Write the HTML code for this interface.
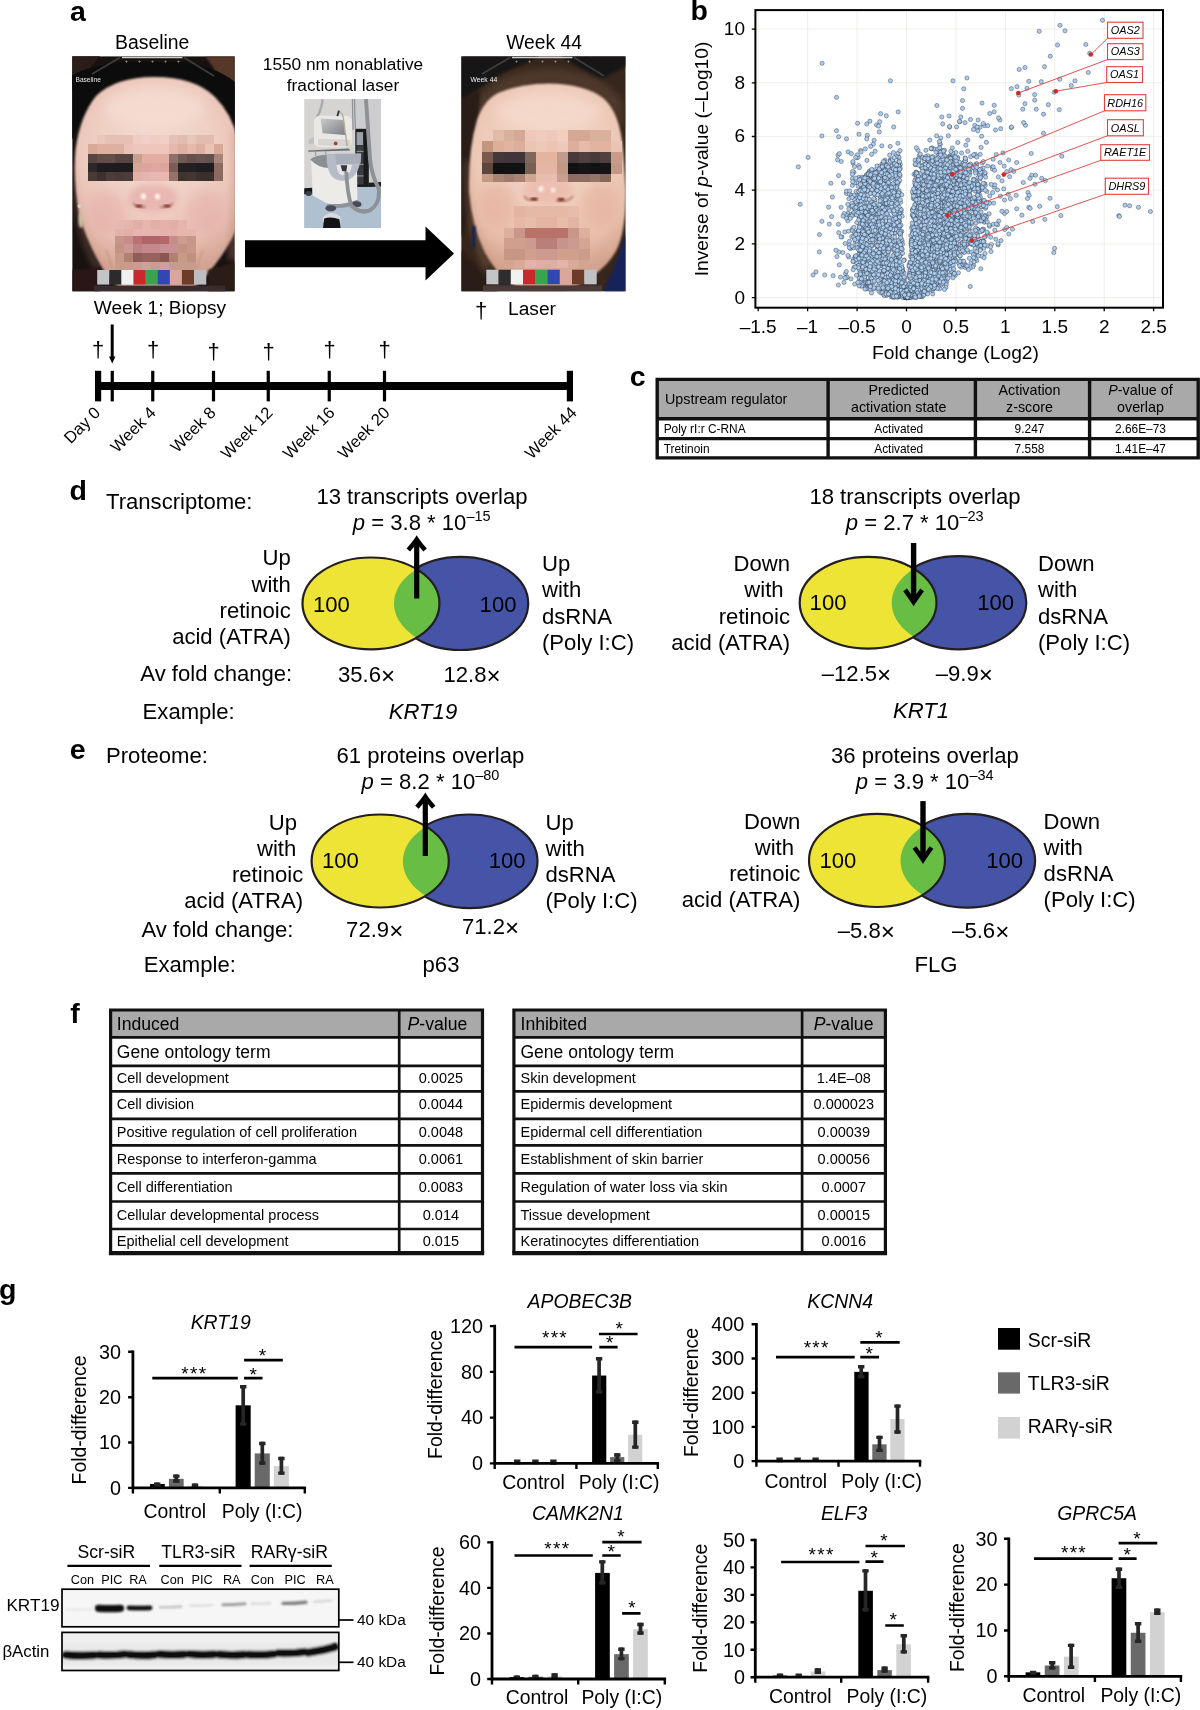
<!DOCTYPE html>
<html lang="en"><head><meta charset="utf-8"><title>Figure</title>
<style>
html,body{margin:0;padding:0;background:#fff;}
svg{display:block;will-change:transform;font-family:"Liberation Sans", sans-serif;}
text{fill:#000;}
</style></head><body>
<svg width="1200" height="1710" viewBox="0 0 1200 1710">
<defs>
<filter id="b1" x="-20%" y="-20%" width="140%" height="140%"><feGaussianBlur stdDeviation="1.2"/></filter>
<filter id="b2" x="-30%" y="-30%" width="160%" height="160%"><feGaussianBlur stdDeviation="3"/></filter>
<filter id="b3" x="-50%" y="-50%" width="200%" height="200%"><feGaussianBlur stdDeviation="6"/></filter>
<filter id="bb" x="-20%" y="-80%" width="140%" height="260%"><feGaussianBlur stdDeviation="1.1"/></filter>
</defs>
<text x="70" y="20.6" font-size="28.5" font-weight="bold">a</text>
<text x="152.2" y="49" font-size="19.4" text-anchor="middle">Baseline</text>
<text x="544" y="49" font-size="19.3" text-anchor="middle">Week 44</text>
<text x="343" y="69.9" font-size="17.3" text-anchor="middle">1550 nm nonablative</text>
<text x="343" y="90.6" font-size="17.3" text-anchor="middle">fractional laser</text>
<clipPath id="f1c"><rect x="72.2" y="56.2" width="162.6" height="235.2"/></clipPath>
<radialGradient id="f1g" gradientUnits="userSpaceOnUse" cx="155" cy="150" r="125"><stop offset="0" stop-color="#f3dccf"/><stop offset="0.45" stop-color="#efd0c3"/><stop offset="0.78" stop-color="#e8bfb2"/><stop offset="1" stop-color="#d3a393"/></radialGradient>
<g clip-path="url(#f1c)">
<rect x="72.20" y="56.20" width="162.60" height="235.20" fill="#17110f"/>
<path d="M205 56 L235 56 L235 140 Q232 90 205 56Z" fill="#54382a" filter="url(#b1)"/>
<path d="M72 56 L100 56 L72 90Z" fill="#2a1c16"/>
<path d="M72 75 Q90 66 122 62 L182 62 Q215 66 235 82 L235 135 Q215 80 155 76 Q100 78 76 130 L72 140Z" fill="#0c0c0d"/>
<path d="M154 77 Q195 77 215 97 Q232 114 238 140 L240 220 Q234 240 214 266 Q190 300 155 300 Q120 300 100 264 Q86 240 79 214 Q73 180 75.5 150 Q80 116 96 96 Q116 77 154 77Z" fill="url(#f1g)" filter="url(#b1)"/>
<ellipse cx="155" cy="108" rx="50" ry="20" fill="#f6dfd4" opacity="0.7" filter="url(#b3)"/>
<ellipse cx="106" cy="212" rx="20" ry="22" fill="#e3a9a6" opacity="0.45" filter="url(#b3)"/>
<ellipse cx="205" cy="212" rx="20" ry="22" fill="#e3a9a6" opacity="0.45" filter="url(#b3)"/>
<path d="M236 130 L236 260 L228 260 Q234 200 232 130Z" fill="#b98070" opacity="0.4" filter="url(#b2)"/>
<path d="M74 160 Q78 230 102 268 L96 272 Q70 230 72 160Z" fill="#b98070" opacity="0.3" filter="url(#b2)"/>
<path d="M106 250 Q110 258 112 268" stroke="#c09078" stroke-width="2" fill="none" opacity="0.6" filter="url(#b1)"/>
<path d="M203 250 Q200 258 197 268" stroke="#c09078" stroke-width="2" fill="none" opacity="0.6" filter="url(#b1)"/>
<ellipse cx="153" cy="198" rx="25" ry="14" fill="#e8b2ae" opacity="0.85" filter="url(#b2)"/>
<path d="M133 203 Q138 209 146 207" stroke="#a8605a" stroke-width="1.6" fill="none" opacity=".8" filter="url(#b1)"/>
<path d="M160 207 Q168 209 173 203" stroke="#a8605a" stroke-width="1.6" fill="none" opacity=".8" filter="url(#b1)"/>
<ellipse cx="139" cy="206" rx="3.6" ry="1.4" fill="#7a2e2a" filter="url(#b1)"/>
<ellipse cx="167" cy="206" rx="3.6" ry="1.4" fill="#7a2e2a" filter="url(#b1)"/>
<ellipse cx="143.5" cy="196.5" rx="2.6" ry="3" fill="#fdf3ee" filter="url(#b1)"/>
<ellipse cx="157.5" cy="196.5" rx="2.6" ry="3" fill="#fdf3ee" filter="url(#b1)"/>
<circle cx="79.5" cy="206" r="2" fill="#d8d0c0"/>
<ellipse cx="81" cy="220" rx="2.6" ry="8" fill="#c9bca0" filter="url(#b1)"/>
<g shape-rendering="crispEdges">
<rect x="97.00" y="135.00" width="9.35" height="9.65" fill="#e8c6ba"/>
<rect x="106.00" y="135.00" width="9.35" height="9.65" fill="#e6c0b4"/>
<rect x="115.00" y="135.00" width="9.35" height="9.65" fill="#e6c0b4"/>
<rect x="124.00" y="135.00" width="9.35" height="9.65" fill="#e6c0b4"/>
<rect x="133.00" y="135.00" width="9.35" height="9.65" fill="#f0ccc2"/>
<rect x="142.00" y="135.00" width="9.35" height="9.65" fill="#f1cfc6"/>
<rect x="151.00" y="135.00" width="9.35" height="9.65" fill="#f0ccc2"/>
<rect x="160.00" y="135.00" width="9.35" height="9.65" fill="#f1cfc6"/>
<rect x="169.00" y="135.00" width="9.35" height="9.65" fill="#e6c0b4"/>
<rect x="178.00" y="135.00" width="9.35" height="9.65" fill="#e2bcae"/>
<rect x="187.00" y="135.00" width="9.35" height="9.65" fill="#e8c6ba"/>
<rect x="196.00" y="135.00" width="9.35" height="9.65" fill="#e2bcae"/>
<rect x="205.00" y="135.00" width="9.35" height="9.65" fill="#e2bcae"/>
<rect x="88.00" y="144.30" width="9.35" height="9.75" fill="#d8a898"/>
<rect x="97.00" y="144.30" width="9.35" height="9.75" fill="#ddb0a0"/>
<rect x="106.00" y="144.30" width="9.35" height="9.75" fill="#ddb0a0"/>
<rect x="115.00" y="144.30" width="9.35" height="9.75" fill="#ddb0a0"/>
<rect x="124.00" y="144.30" width="9.35" height="9.75" fill="#e9c3b6"/>
<rect x="133.00" y="144.30" width="9.35" height="9.75" fill="#eec6bc"/>
<rect x="142.00" y="144.30" width="9.35" height="9.75" fill="#eec6bc"/>
<rect x="151.00" y="144.30" width="9.35" height="9.75" fill="#eec6bc"/>
<rect x="160.00" y="144.30" width="9.35" height="9.75" fill="#eec6bc"/>
<rect x="169.00" y="144.30" width="9.35" height="9.75" fill="#e4b8aa"/>
<rect x="178.00" y="144.30" width="9.35" height="9.75" fill="#ddb0a0"/>
<rect x="187.00" y="144.30" width="9.35" height="9.75" fill="#e4b8aa"/>
<rect x="196.00" y="144.30" width="9.35" height="9.75" fill="#ddb0a0"/>
<rect x="205.00" y="144.30" width="9.35" height="9.75" fill="#e9c3b6"/>
<rect x="214.00" y="144.30" width="9.35" height="9.75" fill="#d8a898"/>
<rect x="88.00" y="153.70" width="9.35" height="9.55" fill="#584440"/>
<rect x="97.00" y="153.70" width="9.35" height="9.55" fill="#634e4a"/>
<rect x="106.00" y="153.70" width="9.35" height="9.55" fill="#634e4a"/>
<rect x="115.00" y="153.70" width="9.35" height="9.55" fill="#584440"/>
<rect x="124.00" y="153.70" width="9.35" height="9.55" fill="#584440"/>
<rect x="133.00" y="153.70" width="9.35" height="9.55" fill="#c8a08c"/>
<rect x="142.00" y="153.70" width="9.35" height="9.55" fill="#e2aea4"/>
<rect x="151.00" y="153.70" width="9.35" height="9.55" fill="#e2aea4"/>
<rect x="160.00" y="153.70" width="9.35" height="9.55" fill="#e2aea4"/>
<rect x="169.00" y="153.70" width="9.35" height="9.55" fill="#8e7068"/>
<rect x="178.00" y="153.70" width="9.35" height="9.55" fill="#705a54"/>
<rect x="187.00" y="153.70" width="9.35" height="9.55" fill="#64504c"/>
<rect x="196.00" y="153.70" width="9.35" height="9.55" fill="#6a5450"/>
<rect x="205.00" y="153.70" width="9.35" height="9.55" fill="#64504c"/>
<rect x="214.00" y="153.70" width="9.35" height="9.55" fill="#a88478"/>
<rect x="88.00" y="162.90" width="9.35" height="9.45" fill="#2e2826"/>
<rect x="97.00" y="162.90" width="9.35" height="9.45" fill="#1e1d1c"/>
<rect x="106.00" y="162.90" width="9.35" height="9.45" fill="#1e1d1c"/>
<rect x="115.00" y="162.90" width="9.35" height="9.45" fill="#1c1c1b"/>
<rect x="124.00" y="162.90" width="9.35" height="9.45" fill="#1c1c1b"/>
<rect x="133.00" y="162.90" width="9.35" height="9.45" fill="#d4a896"/>
<rect x="142.00" y="162.90" width="9.35" height="9.45" fill="#e0a4a0"/>
<rect x="151.00" y="162.90" width="9.35" height="9.45" fill="#e2a6a2"/>
<rect x="160.00" y="162.90" width="9.35" height="9.45" fill="#e0a4a0"/>
<rect x="169.00" y="162.90" width="9.35" height="9.45" fill="#7a5e56"/>
<rect x="178.00" y="162.90" width="9.35" height="9.45" fill="#222020"/>
<rect x="187.00" y="162.90" width="9.35" height="9.45" fill="#222020"/>
<rect x="196.00" y="162.90" width="9.35" height="9.45" fill="#1e1d1d"/>
<rect x="205.00" y="162.90" width="9.35" height="9.45" fill="#1e1d1d"/>
<rect x="214.00" y="162.90" width="9.35" height="9.45" fill="#8c6c60"/>
<rect x="88.00" y="172.00" width="9.35" height="9.35" fill="#4a3a36"/>
<rect x="97.00" y="172.00" width="9.35" height="9.35" fill="#3e302c"/>
<rect x="106.00" y="172.00" width="9.35" height="9.35" fill="#4e3c3a"/>
<rect x="115.00" y="172.00" width="9.35" height="9.35" fill="#4a3a36"/>
<rect x="124.00" y="172.00" width="9.35" height="9.35" fill="#4e3c3a"/>
<rect x="133.00" y="172.00" width="9.35" height="9.35" fill="#e4b0aa"/>
<rect x="142.00" y="172.00" width="9.35" height="9.35" fill="#e6b4ae"/>
<rect x="151.00" y="172.00" width="9.35" height="9.35" fill="#e8b8b0"/>
<rect x="160.00" y="172.00" width="9.35" height="9.35" fill="#e8b8b0"/>
<rect x="169.00" y="172.00" width="9.35" height="9.35" fill="#94746a"/>
<rect x="178.00" y="172.00" width="9.35" height="9.35" fill="#42322e"/>
<rect x="187.00" y="172.00" width="9.35" height="9.35" fill="#463632"/>
<rect x="196.00" y="172.00" width="9.35" height="9.35" fill="#3c2e2a"/>
<rect x="205.00" y="172.00" width="9.35" height="9.35" fill="#3c2e2a"/>
<rect x="214.00" y="172.00" width="9.35" height="9.35" fill="#8a6a5e"/>
<rect x="115.00" y="220.00" width="9.35" height="9.35" fill="#e6b8ae"/>
<rect x="124.00" y="220.00" width="9.35" height="9.35" fill="#e6b6ae"/>
<rect x="133.00" y="220.00" width="9.35" height="9.35" fill="#e2aea6"/>
<rect x="142.00" y="220.00" width="9.35" height="9.35" fill="#e6b6ae"/>
<rect x="151.00" y="220.00" width="9.35" height="9.35" fill="#e2aea6"/>
<rect x="160.00" y="220.00" width="9.35" height="9.35" fill="#e4b2aa"/>
<rect x="169.00" y="220.00" width="9.35" height="9.35" fill="#e2aea6"/>
<rect x="178.00" y="220.00" width="9.35" height="9.35" fill="#e6b6ae"/>
<rect x="115.00" y="229.00" width="9.35" height="7.35" fill="#e4b2aa"/>
<rect x="124.00" y="229.00" width="9.35" height="7.35" fill="#e2aea6"/>
<rect x="133.00" y="229.00" width="9.35" height="7.35" fill="#e6b6ae"/>
<rect x="142.00" y="229.00" width="9.35" height="7.35" fill="#e6b6ae"/>
<rect x="151.00" y="229.00" width="9.35" height="7.35" fill="#e6b6ae"/>
<rect x="160.00" y="229.00" width="9.35" height="7.35" fill="#e4b2aa"/>
<rect x="169.00" y="229.00" width="9.35" height="7.35" fill="#e4b2aa"/>
<rect x="178.00" y="229.00" width="9.35" height="7.35" fill="#e6b6ae"/>
<rect x="187.00" y="229.00" width="9.35" height="7.35" fill="#e6b6ae"/>
<rect x="115.00" y="236.00" width="9.35" height="8.35" fill="#c89686"/>
<rect x="124.00" y="236.00" width="9.35" height="8.35" fill="#c68c88"/>
<rect x="133.00" y="236.00" width="9.35" height="8.35" fill="#ba7074"/>
<rect x="142.00" y="236.00" width="9.35" height="8.35" fill="#b06468"/>
<rect x="151.00" y="236.00" width="9.35" height="8.35" fill="#b06468"/>
<rect x="160.00" y="236.00" width="9.35" height="8.35" fill="#b4686c"/>
<rect x="169.00" y="236.00" width="9.35" height="8.35" fill="#c68c88"/>
<rect x="178.00" y="236.00" width="9.35" height="8.35" fill="#cc9c8c"/>
<rect x="187.00" y="236.00" width="9.35" height="8.35" fill="#c89686"/>
<rect x="115.00" y="244.00" width="9.35" height="8.85" fill="#c49282"/>
<rect x="124.00" y="244.00" width="9.35" height="8.85" fill="#cc9894"/>
<rect x="133.00" y="244.00" width="9.35" height="8.85" fill="#be8084"/>
<rect x="142.00" y="244.00" width="9.35" height="8.85" fill="#c4888c"/>
<rect x="151.00" y="244.00" width="9.35" height="8.85" fill="#c4888c"/>
<rect x="160.00" y="244.00" width="9.35" height="8.85" fill="#c89094"/>
<rect x="169.00" y="244.00" width="9.35" height="8.85" fill="#c89094"/>
<rect x="178.00" y="244.00" width="9.35" height="8.85" fill="#c49282"/>
<rect x="187.00" y="244.00" width="9.35" height="8.85" fill="#c89888"/>
<rect x="115.00" y="252.50" width="9.35" height="9.35" fill="#c89a88"/>
<rect x="124.00" y="252.50" width="9.35" height="9.35" fill="#b08070"/>
<rect x="133.00" y="252.50" width="9.35" height="9.35" fill="#8e5e56"/>
<rect x="142.00" y="252.50" width="9.35" height="9.35" fill="#96645c"/>
<rect x="151.00" y="252.50" width="9.35" height="9.35" fill="#96645c"/>
<rect x="160.00" y="252.50" width="9.35" height="9.35" fill="#885850"/>
<rect x="169.00" y="252.50" width="9.35" height="9.35" fill="#b08070"/>
<rect x="178.00" y="252.50" width="9.35" height="9.35" fill="#c89a88"/>
<rect x="187.00" y="252.50" width="9.35" height="9.35" fill="#c09080"/>
<rect x="115.00" y="261.50" width="9.35" height="8.85" fill="#c89c8c"/>
<rect x="124.00" y="261.50" width="9.35" height="8.85" fill="#c89c8c"/>
<rect x="133.00" y="261.50" width="9.35" height="8.85" fill="#cc9a94"/>
<rect x="142.00" y="261.50" width="9.35" height="8.85" fill="#d0a09a"/>
<rect x="151.00" y="261.50" width="9.35" height="8.85" fill="#cc9a94"/>
<rect x="160.00" y="261.50" width="9.35" height="8.85" fill="#d0a09a"/>
<rect x="169.00" y="261.50" width="9.35" height="8.85" fill="#c89c8c"/>
<rect x="178.00" y="261.50" width="9.35" height="8.85" fill="#c89c8c"/>
<rect x="187.00" y="261.50" width="9.35" height="8.85" fill="#c89c8c"/>
</g>
<path d="M72 270 L100 268 L100 292 L72 292Z" fill="#2c1519" filter="url(#b1)"/>
<path d="M208 270 L235 262 L235 292 L208 292Z" fill="#2c1e14" filter="url(#b1)"/>
<rect x="94.00" y="285.60" width="131.00" height="6.00" fill="#3a2c2e"/>
<rect x="97.20" y="270.00" width="12.30" height="14.60" fill="#c3c4c8"/>
<rect x="109.30" y="270.00" width="12.30" height="14.60" fill="#2b2b2e"/>
<rect x="121.40" y="270.00" width="12.30" height="14.60" fill="#f1f1f1"/>
<rect x="133.50" y="270.00" width="12.30" height="14.60" fill="#c9292c"/>
<rect x="145.60" y="270.00" width="12.30" height="14.60" fill="#3aa350"/>
<rect x="157.70" y="270.00" width="12.30" height="14.60" fill="#3047b4"/>
<rect x="169.80" y="270.00" width="12.30" height="14.60" fill="#dba69c"/>
<rect x="181.90" y="270.00" width="12.30" height="14.60" fill="#6d3c29"/>
<rect x="194.00" y="270.00" width="12.30" height="14.60" fill="#bcbdc1"/>
<path d="M122 57.4 H182.5" stroke="#d0d0d0" stroke-width="1.5"/>
<path d="M120 57.5 L92 74 M184 57.5 L214 76" stroke="#4a4a4a" stroke-width="1.6" opacity="0.8"/>
<text x="126.5" y="63.4" font-size="5" text-anchor="middle" style="fill:#bbb">+</text>
<text x="139.5" y="63.4" font-size="5" text-anchor="middle" style="fill:#bbb">+</text>
<text x="152.5" y="63.4" font-size="5" text-anchor="middle" style="fill:#bbb">+</text>
<text x="165.5" y="63.4" font-size="5" text-anchor="middle" style="fill:#bbb">+</text>
<text x="178.5" y="63.4" font-size="5" text-anchor="middle" style="fill:#bbb">+</text>
<text x="75.5" y="81.6" font-size="6.6" style="fill:#e8e8e8">Baseline</text>
</g>
<clipPath id="f2c"><rect x="461.2" y="56.2" width="164.5" height="235.2"/></clipPath>
<radialGradient id="f2g" gradientUnits="userSpaceOnUse" cx="548" cy="150" r="125"><stop offset="0" stop-color="#f3d8c8"/><stop offset="0.45" stop-color="#efcdbc"/><stop offset="0.78" stop-color="#e8bfab"/><stop offset="1" stop-color="#d2a28c"/></radialGradient>
<g clip-path="url(#f2c)">
<rect x="461.20" y="56.20" width="164.50" height="235.20" fill="#36261c"/>
<path d="M461 56 L540 56 L500 74 L461 100Z" fill="#121212" filter="url(#b1)"/>
<path d="M560 56 L626 56 L626 66 L600 80Z" fill="#191817" filter="url(#b1)"/>
<path d="M470 110 Q490 70 550 68 Q600 70 622 100 L624 130 Q600 84 550 84 Q500 84 476 140Z" fill="#4e3829" filter="url(#b2)"/>
<path d="M461 100 L480 90 L474 200 L461 240Z" fill="#2a1e18" filter="url(#b1)"/>
<path d="M548 83.5 Q585 84 603 98 Q620 112 623 150 L626 190 Q626 232 616 251 Q600 280 548 298 Q503 290 484 251 Q472 226 469 192 Q468 150 477 120 Q484 100 498 93 Q520 84 548 83.5Z" fill="url(#f2g)" filter="url(#b1)"/>
<ellipse cx="548" cy="112" rx="52" ry="18" fill="#f5dccd" opacity="0.7" filter="url(#b3)"/>
<ellipse cx="497" cy="205" rx="18" ry="22" fill="#e4b09e" opacity="0.6" filter="url(#b3)"/>
<ellipse cx="600" cy="205" rx="18" ry="22" fill="#e4b09e" opacity="0.6" filter="url(#b3)"/>
<path d="M469 160 Q468 220 492 266 L484 270 Q462 220 464 160Z" fill="#b08268" opacity="0.3" filter="url(#b2)"/>
<path d="M626 232 Q618 262 603 292 L626 292Z" fill="#19245a" filter="url(#b1)"/>
<path d="M461 250 Q480 270 498 292 L461 292Z" fill="#2c1f18" filter="url(#b1)"/>
<ellipse cx="548" cy="190" rx="25" ry="14" fill="#ecbcae" opacity="0.85" filter="url(#b2)"/>
<path d="M524 196 Q528 202 538 200" stroke="#a86050" stroke-width="1.5" fill="none" opacity=".8" filter="url(#b1)"/>
<path d="M556 201 Q568 203 573 196" stroke="#a86050" stroke-width="1.5" fill="none" opacity=".8" filter="url(#b1)"/>
<ellipse cx="534" cy="199" rx="3.6" ry="1.4" fill="#6a2418" filter="url(#b1)"/>
<ellipse cx="561" cy="199.5" rx="3.6" ry="1.4" fill="#6a2418" filter="url(#b1)"/>
<ellipse cx="541" cy="189" rx="2.6" ry="3" fill="#fdf3ee" opacity=".9" filter="url(#b1)"/>
<ellipse cx="553" cy="190" rx="2.4" ry="2.6" fill="#fdf3ee" opacity=".8" filter="url(#b1)"/>
<rect x="472" y="226" width="3.4" height="22" fill="#17244e" filter="url(#b1)"/>
<g shape-rendering="crispEdges">
<rect x="492.85" y="130.40" width="11.10" height="11.15" fill="#e2bba8"/>
<rect x="503.60" y="130.40" width="11.10" height="11.15" fill="#d9b09c"/>
<rect x="514.35" y="130.40" width="11.10" height="11.15" fill="#d4a894"/>
<rect x="525.10" y="130.40" width="11.10" height="11.15" fill="#eec8ba"/>
<rect x="535.85" y="130.40" width="11.10" height="11.15" fill="#f0ccbc"/>
<rect x="546.60" y="130.40" width="11.10" height="11.15" fill="#eec8ba"/>
<rect x="557.35" y="130.40" width="11.10" height="11.15" fill="#f1cebe"/>
<rect x="568.10" y="130.40" width="11.10" height="11.15" fill="#d4a894"/>
<rect x="578.85" y="130.40" width="11.10" height="11.15" fill="#d4a894"/>
<rect x="589.60" y="130.40" width="11.10" height="11.15" fill="#d9b09c"/>
<rect x="600.35" y="130.40" width="11.10" height="11.15" fill="#d9b09c"/>
<rect x="482.10" y="141.20" width="11.10" height="11.15" fill="#c49680"/>
<rect x="492.85" y="141.20" width="11.10" height="11.15" fill="#ddae9a"/>
<rect x="503.60" y="141.20" width="11.10" height="11.15" fill="#e2b4a0"/>
<rect x="514.35" y="141.20" width="11.10" height="11.15" fill="#ddae9a"/>
<rect x="525.10" y="141.20" width="11.10" height="11.15" fill="#ecc4b2"/>
<rect x="535.85" y="141.20" width="11.10" height="11.15" fill="#eec8b8"/>
<rect x="546.60" y="141.20" width="11.10" height="11.15" fill="#ecc4b2"/>
<rect x="557.35" y="141.20" width="11.10" height="11.15" fill="#eec8b8"/>
<rect x="568.10" y="141.20" width="11.10" height="11.15" fill="#ddae9a"/>
<rect x="578.85" y="141.20" width="11.10" height="11.15" fill="#e6bca8"/>
<rect x="589.60" y="141.20" width="11.10" height="11.15" fill="#e2b4a0"/>
<rect x="600.35" y="141.20" width="11.10" height="11.15" fill="#e2b4a0"/>
<rect x="611.10" y="141.20" width="11.10" height="11.15" fill="#eac4b2"/>
<rect x="482.10" y="152.00" width="11.10" height="11.05" fill="#7a5a4e"/>
<rect x="492.85" y="152.00" width="11.10" height="11.05" fill="#43383a"/>
<rect x="503.60" y="152.00" width="11.10" height="11.05" fill="#40363a"/>
<rect x="514.35" y="152.00" width="11.10" height="11.05" fill="#40363a"/>
<rect x="525.10" y="152.00" width="11.10" height="11.05" fill="#7e685c"/>
<rect x="535.85" y="152.00" width="11.10" height="11.05" fill="#e4b49e"/>
<rect x="546.60" y="152.00" width="11.10" height="11.05" fill="#e4b49e"/>
<rect x="557.35" y="152.00" width="11.10" height="11.05" fill="#c09c8c"/>
<rect x="568.10" y="152.00" width="11.10" height="11.05" fill="#483a3a"/>
<rect x="578.85" y="152.00" width="11.10" height="11.05" fill="#504040"/>
<rect x="589.60" y="152.00" width="11.10" height="11.05" fill="#483a3a"/>
<rect x="600.35" y="152.00" width="11.10" height="11.05" fill="#504040"/>
<rect x="611.10" y="152.00" width="11.10" height="11.05" fill="#c89c88"/>
<rect x="482.10" y="162.70" width="11.10" height="11.15" fill="#5c463e"/>
<rect x="492.85" y="162.70" width="11.10" height="11.15" fill="#131212"/>
<rect x="503.60" y="162.70" width="11.10" height="11.15" fill="#121212"/>
<rect x="514.35" y="162.70" width="11.10" height="11.15" fill="#121212"/>
<rect x="525.10" y="162.70" width="11.10" height="11.15" fill="#7a6054"/>
<rect x="535.85" y="162.70" width="11.10" height="11.15" fill="#e4b4a4"/>
<rect x="546.60" y="162.70" width="11.10" height="11.15" fill="#e4b4a4"/>
<rect x="557.35" y="162.70" width="11.10" height="11.15" fill="#c09886"/>
<rect x="568.10" y="162.70" width="11.10" height="11.15" fill="#121212"/>
<rect x="578.85" y="162.70" width="11.10" height="11.15" fill="#161414"/>
<rect x="589.60" y="162.70" width="11.10" height="11.15" fill="#121212"/>
<rect x="600.35" y="162.70" width="11.10" height="11.15" fill="#161414"/>
<rect x="611.10" y="162.70" width="11.10" height="11.15" fill="#c49884"/>
<rect x="482.10" y="173.50" width="11.10" height="8.85" fill="#c49a86"/>
<rect x="492.85" y="173.50" width="11.10" height="8.85" fill="#a88272"/>
<rect x="503.60" y="173.50" width="11.10" height="8.85" fill="#a07a6a"/>
<rect x="514.35" y="173.50" width="11.10" height="8.85" fill="#a88272"/>
<rect x="525.10" y="173.50" width="11.10" height="8.85" fill="#d0a692"/>
<rect x="535.85" y="173.50" width="11.10" height="8.85" fill="#e8bcae"/>
<rect x="546.60" y="173.50" width="11.10" height="8.85" fill="#e8bcae"/>
<rect x="557.35" y="173.50" width="11.10" height="8.85" fill="#c8a08e"/>
<rect x="568.10" y="173.50" width="11.10" height="8.85" fill="#8e6c60"/>
<rect x="578.85" y="173.50" width="11.10" height="8.85" fill="#8e6c60"/>
<rect x="589.60" y="173.50" width="11.10" height="8.85" fill="#96746a"/>
<rect x="600.35" y="173.50" width="11.10" height="8.85" fill="#886658"/>
<rect x="514.35" y="206.00" width="11.10" height="11.35" fill="#e4b4a2"/>
<rect x="525.10" y="206.00" width="11.10" height="11.35" fill="#e6b8a6"/>
<rect x="535.85" y="206.00" width="11.10" height="11.35" fill="#e6b8a6"/>
<rect x="546.60" y="206.00" width="11.10" height="11.35" fill="#e6b8a6"/>
<rect x="557.35" y="206.00" width="11.10" height="11.35" fill="#e6b8a6"/>
<rect x="568.10" y="206.00" width="11.10" height="11.35" fill="#e8bcaa"/>
<rect x="514.35" y="217.00" width="11.10" height="11.35" fill="#e6b8a6"/>
<rect x="525.10" y="217.00" width="11.10" height="11.35" fill="#e8bcaa"/>
<rect x="535.85" y="217.00" width="11.10" height="11.35" fill="#e4b4a2"/>
<rect x="546.60" y="217.00" width="11.10" height="11.35" fill="#e4b4a2"/>
<rect x="557.35" y="217.00" width="11.10" height="11.35" fill="#e8bcaa"/>
<rect x="568.10" y="217.00" width="11.10" height="11.35" fill="#e4b4a2"/>
<rect x="503.60" y="228.00" width="11.10" height="10.75" fill="#deb09c"/>
<rect x="514.35" y="228.00" width="11.10" height="10.75" fill="#c8968a"/>
<rect x="525.10" y="228.00" width="11.10" height="10.75" fill="#b8726a"/>
<rect x="535.85" y="228.00" width="11.10" height="10.75" fill="#b8726a"/>
<rect x="546.60" y="228.00" width="11.10" height="10.75" fill="#b8726a"/>
<rect x="557.35" y="228.00" width="11.10" height="10.75" fill="#b8726a"/>
<rect x="568.10" y="228.00" width="11.10" height="10.75" fill="#c8968a"/>
<rect x="578.85" y="228.00" width="11.10" height="10.75" fill="#deb09c"/>
<rect x="503.60" y="238.40" width="11.10" height="11.25" fill="#d0a08c"/>
<rect x="514.35" y="238.40" width="11.10" height="11.25" fill="#d0a08c"/>
<rect x="525.10" y="238.40" width="11.10" height="11.25" fill="#cc9a8e"/>
<rect x="535.85" y="238.40" width="11.10" height="11.25" fill="#b88078"/>
<rect x="546.60" y="238.40" width="11.10" height="11.25" fill="#b88078"/>
<rect x="557.35" y="238.40" width="11.10" height="11.25" fill="#c8948a"/>
<rect x="568.10" y="238.40" width="11.10" height="11.25" fill="#cc9a8e"/>
<rect x="578.85" y="238.40" width="11.10" height="11.25" fill="#d4a692"/>
<rect x="503.60" y="249.30" width="11.10" height="10.95" fill="#c89684"/>
<rect x="514.35" y="249.30" width="11.10" height="10.95" fill="#c89684"/>
<rect x="525.10" y="249.30" width="11.10" height="10.95" fill="#d0a08c"/>
<rect x="535.85" y="249.30" width="11.10" height="10.95" fill="#cc9a90"/>
<rect x="546.60" y="249.30" width="11.10" height="10.95" fill="#cc9a90"/>
<rect x="557.35" y="249.30" width="11.10" height="10.95" fill="#d0a08c"/>
<rect x="568.10" y="249.30" width="11.10" height="10.95" fill="#d0a08c"/>
<rect x="578.85" y="249.30" width="11.10" height="10.95" fill="#cc9c88"/>
<rect x="503.60" y="259.90" width="11.10" height="8.05" fill="#d4a490"/>
<rect x="514.35" y="259.90" width="11.10" height="8.05" fill="#d8aa98"/>
<rect x="525.10" y="259.90" width="11.10" height="8.05" fill="#e2b4ac"/>
<rect x="535.85" y="259.90" width="11.10" height="8.05" fill="#deaea6"/>
<rect x="546.60" y="259.90" width="11.10" height="8.05" fill="#deaea6"/>
<rect x="557.35" y="259.90" width="11.10" height="8.05" fill="#e2b4ac"/>
<rect x="568.10" y="259.90" width="11.10" height="8.05" fill="#d8aa98"/>
<rect x="578.85" y="259.90" width="11.10" height="8.05" fill="#d4a490"/>
</g>
<rect x="483.00" y="285.40" width="119.00" height="6.20" fill="#4a3a3a"/>
<rect x="486.30" y="269.70" width="12.44" height="14.60" fill="#c3c4c8"/>
<rect x="498.54" y="269.70" width="12.44" height="14.60" fill="#2e2e30"/>
<rect x="510.79" y="269.70" width="12.44" height="14.60" fill="#f1f1f1"/>
<rect x="523.03" y="269.70" width="12.44" height="14.60" fill="#c9292c"/>
<rect x="535.28" y="269.70" width="12.44" height="14.60" fill="#3aa350"/>
<rect x="547.52" y="269.70" width="12.44" height="14.60" fill="#3047b4"/>
<rect x="559.77" y="269.70" width="12.44" height="14.60" fill="#dba69c"/>
<rect x="572.01" y="269.70" width="12.44" height="14.60" fill="#6d3c29"/>
<rect x="584.26" y="269.70" width="12.44" height="14.60" fill="#c0c1c5"/>
<path d="M512 57.4 H572.5" stroke="#d0d0d0" stroke-width="1.5"/>
<path d="M510 57.5 L482 74 M574 57.5 L604 76" stroke="#4a4a4a" stroke-width="1.6" opacity="0.8"/>
<text x="516.5" y="63.4" font-size="5" text-anchor="middle" style="fill:#bbb">+</text>
<text x="529.5" y="63.4" font-size="5" text-anchor="middle" style="fill:#bbb">+</text>
<text x="542.5" y="63.4" font-size="5" text-anchor="middle" style="fill:#bbb">+</text>
<text x="555.5" y="63.4" font-size="5" text-anchor="middle" style="fill:#bbb">+</text>
<text x="568.5" y="63.4" font-size="5" text-anchor="middle" style="fill:#bbb">+</text>
<text x="470.5" y="82" font-size="6.8" style="fill:#f0f0f0">Week 44</text>
</g>
<clipPath id="lzc"><rect x="75" y="62" width="940" height="1573"/></clipPath>
<linearGradient id="lzs" x1="0" y1="0" x2="1" y2="1"><stop offset="0" stop-color="#c9cacb"/><stop offset="1" stop-color="#7d8084"/></linearGradient>
<g transform="translate(298 94) scale(0.0819)"><g clip-path="url(#lzc)">
<rect x="75" y="62" width="940" height="1573" fill="#d5d4d3"/>
<rect x="700" y="62" width="315" height="1100" fill="#cdcdcf"/>
<path d="M75 1170 L700 1120 L1015 1100 L1015 1635 L75 1635Z" fill="#afc0d1"/>
<path d="M75 1150 L175 1145 L175 1215 L75 1225Z" fill="#15171a"/>
<path d="M860 1085 L1015 1075 L1015 1130 L860 1135Z" fill="#1c1e22"/>
<rect x="700" y="425" width="165" height="710" fill="#1b1b1d"/>
<rect x="715" y="465" width="80" height="160" fill="#9aa1aa"/>
<rect x="715" y="625" width="85" height="480" fill="#3a3c40"/>
<path d="M715 700 H800 M715 860 H800 M715 1000 H800" stroke="#8a8d92" stroke-width="14"/>
<path d="M830 62 L880 800 Q900 1000 985 1150 Q1010 1330 880 1420 Q760 1470 650 1360" fill="none" stroke="#8e9195" stroke-width="48"/>
<path d="M300 62 Q290 200 215 310" fill="none" stroke="#a9abae" stroke-width="30"/>
<path d="M665 62 L672 440 M690 62 L700 430" fill="none" stroke="#8f9297" stroke-width="16"/>
<path d="M130 560 L200 520 L200 600 L130 610Z" fill="#bfc0c0"/>
<rect x="195" y="265" width="465" height="385" rx="70" fill="#e9e8e5"/>
<path d="M275 300 L560 318 L575 500 L300 478Z" fill="url(#lzs)"/>
<path d="M250 545 L640 560 L640 640 L240 625Z" fill="#d6d5d3"/>
<circle cx="460" cy="603" r="23" fill="#a3452b"/>
<path d="M490 200 L545 250 L560 330 L600 640" fill="none" stroke="#b5ab98" stroke-width="16"/>
<path d="M480 270 L500 205" stroke="#333" stroke-width="22"/>
<path d="M120 690 L620 665 L640 690 L130 705Z" fill="#6b6e73"/>
<path d="M215 700 V760 M340 695 V750" stroke="#9a9ca0" stroke-width="14"/>
<path d="M160 790 Q200 750 360 740 L720 735 L725 1290 Q560 1360 360 1340 L180 1240Z" fill="#ecebe8"/>
<path d="M150 800 Q200 745 370 738 L600 735 Q560 850 380 905 Q240 900 150 800Z" fill="#8b8e94"/>
<path d="M350 740 Q345 1060 540 1060 Q740 1060 770 760 L770 725 L455 725 L455 740Z" fill="#b7bbc8"/>
<path d="M470 860 Q480 1000 560 990 Q640 1000 660 860Z" fill="#e6e5e3"/>
<path d="M455 735 L770 730 L765 850 L470 862Z" fill="#a9adb8"/>
<path d="M520 870 L600 870 L590 950 L540 940Z" fill="#33363c"/>
<path d="M360 1340 Q560 1360 725 1290 L760 1330 Q560 1420 340 1380Z" fill="#8e9299"/>
<ellipse cx="400" cy="1395" rx="65" ry="38" fill="#474c57"/>
<ellipse cx="715" cy="1345" rx="60" ry="36" fill="#474c57"/>
<ellipse cx="130" cy="1215" rx="40" ry="30" fill="#3c4049"/>
<path d="M880 1420 Q760 1470 650 1360 Q600 1200 590 950" fill="none" stroke="#8e9195" stroke-width="46"/>
<path d="M300 1510 Q400 1400 520 1500 L520 1560 L300 1560Z" fill="#d9dadd"/>
<path d="M305 1635 L320 1520 Q410 1490 505 1530 L520 1635Z" fill="#131416"/>
</g></g>
<path d="M245 240.2 H425.5 V226.6 L454 253.6 L425.5 280.6 V267.3 H245Z" fill="#000"/>
<text x="93.8" y="314.1" font-size="19.1">Week 1; Biopsy</text>
<text x="481" y="317.5" font-size="22" text-anchor="middle">†</text>
<text x="508" y="315.3" font-size="19.2">Laser</text>
<rect x="95.00" y="370.80" width="6.20" height="30.60" fill="#000"/>
<rect x="95.00" y="382.00" width="478.00" height="8.00" fill="#000"/>
<rect x="566.80" y="370.80" width="6.20" height="30.60" fill="#000"/>
<rect x="110.65" y="370.80" width="3.20" height="30.60" fill="#000"/>
<rect x="151.15" y="370.80" width="3.20" height="30.60" fill="#000"/>
<rect x="211.90" y="370.80" width="3.20" height="30.60" fill="#000"/>
<rect x="266.65" y="370.80" width="3.20" height="30.60" fill="#000"/>
<rect x="327.65" y="370.80" width="3.20" height="30.60" fill="#000"/>
<rect x="382.90" y="370.80" width="3.20" height="30.60" fill="#000"/>
<text x="98" y="357.2" font-size="22" text-anchor="middle">†</text>
<text x="153" y="357.2" font-size="22" text-anchor="middle">†</text>
<text x="213.5" y="358.7" font-size="22" text-anchor="middle">†</text>
<text x="268.5" y="358.7" font-size="22" text-anchor="middle">†</text>
<text x="329.5" y="357.2" font-size="22" text-anchor="middle">†</text>
<text x="384.5" y="357.2" font-size="22" text-anchor="middle">†</text>
<line x1="112.20" y1="324.50" x2="112.20" y2="358.00" stroke="#000" stroke-width="3"/>
<path d="M109 356.5 L115.4 356.5 L112.2 363.5Z" fill="#000"/>
<text x="101.3" y="413.8" font-size="16.6" text-anchor="end" transform="rotate(-45 101.3 413.8)">Day 0</text>
<text x="156.8" y="413.8" font-size="16.6" text-anchor="end" transform="rotate(-45 156.8 413.8)">Week 4</text>
<text x="216.8" y="413.8" font-size="16.6" text-anchor="end" transform="rotate(-45 216.8 413.8)">Week 8</text>
<text x="273.8" y="413.8" font-size="16.6" text-anchor="end" transform="rotate(-45 273.8 413.8)">Week 12</text>
<text x="335.8" y="413.8" font-size="16.6" text-anchor="end" transform="rotate(-45 335.8 413.8)">Week 16</text>
<text x="390.8" y="413.8" font-size="16.6" text-anchor="end" transform="rotate(-45 390.8 413.8)">Week 20</text>
<text x="577.8" y="413.8" font-size="16.6" text-anchor="end" transform="rotate(-45 577.8 413.8)">Week 44</text>
<text x="690.6" y="20.4" font-size="28.5" font-weight="bold">b</text>
<path d="M758.2 10.1 V307.7 M807.6 10.1 V307.7 M857.1 10.1 V307.7 M906.5 10.1 V307.7 M955.9 10.1 V307.7 M1005.4 10.1 V307.7 M1054.8 10.1 V307.7 M1104.2 10.1 V307.7 M1153.6 10.1 V307.7 M755.4 297.6 H1163 M755.4 243.9 H1163 M755.4 190.2 H1163 M755.4 136.5 H1163 M755.4 82.8 H1163 M755.4 29.1 H1163" stroke="#e8e6e1" stroke-width="0.7" fill="none"/>
<g fill="#abccee" stroke="#1a2230" stroke-width="0.38">
<circle cx="940.0" cy="259.3" r="2.1"/><circle cx="880.6" cy="265.6" r="2.1"/><circle cx="916.0" cy="189.0" r="2.1"/><circle cx="945.1" cy="221.8" r="2.1"/><circle cx="947.0" cy="174.1" r="2.1"/><circle cx="886.5" cy="254.8" r="2.1"/><circle cx="951.1" cy="237.1" r="2.1"/><circle cx="950.2" cy="218.2" r="2.1"/><circle cx="921.9" cy="184.3" r="2.1"/><circle cx="899.6" cy="286.4" r="2.1"/><circle cx="914.2" cy="252.6" r="2.1"/><circle cx="931.4" cy="179.7" r="2.1"/><circle cx="939.2" cy="225.3" r="2.1"/><circle cx="948.8" cy="181.1" r="2.1"/><circle cx="911.2" cy="292.4" r="2.1"/><circle cx="904.6" cy="295.8" r="2.1"/><circle cx="865.8" cy="213.4" r="2.1"/><circle cx="902.2" cy="279.8" r="2.1"/><circle cx="915.6" cy="279.4" r="2.1"/><circle cx="935.6" cy="287.8" r="2.1"/><circle cx="952.5" cy="208.7" r="2.1"/><circle cx="923.8" cy="228.1" r="2.1"/><circle cx="915.2" cy="286.0" r="2.1"/><circle cx="919.7" cy="290.5" r="2.1"/><circle cx="939.6" cy="214.9" r="2.1"/><circle cx="926.8" cy="160.9" r="2.1"/><circle cx="936.7" cy="243.1" r="2.1"/><circle cx="974.5" cy="188.2" r="2.1"/><circle cx="893.3" cy="274.1" r="2.1"/><circle cx="940.2" cy="283.3" r="2.1"/><circle cx="885.2" cy="241.1" r="2.1"/><circle cx="918.1" cy="204.5" r="2.1"/><circle cx="950.7" cy="171.0" r="2.1"/><circle cx="843.4" cy="182.9" r="2.1"/><circle cx="975.9" cy="170.3" r="2.1"/><circle cx="930.4" cy="262.1" r="2.1"/><circle cx="954.0" cy="169.6" r="2.1"/><circle cx="898.8" cy="215.1" r="2.1"/><circle cx="860.8" cy="286.0" r="2.1"/><circle cx="872.7" cy="224.5" r="2.1"/><circle cx="905.5" cy="296.7" r="2.1"/><circle cx="900.7" cy="209.7" r="2.1"/><circle cx="968.5" cy="237.6" r="2.1"/><circle cx="907.2" cy="296.2" r="2.1"/><circle cx="861.4" cy="251.1" r="2.1"/><circle cx="912.8" cy="247.4" r="2.1"/><circle cx="939.5" cy="227.5" r="2.1"/><circle cx="912.1" cy="292.7" r="2.1"/><circle cx="953.4" cy="271.8" r="2.1"/><circle cx="989.2" cy="203.1" r="2.1"/><circle cx="863.3" cy="285.1" r="2.1"/><circle cx="944.1" cy="274.8" r="2.1"/><circle cx="974.5" cy="155.6" r="2.1"/><circle cx="906.0" cy="297.3" r="2.1"/><circle cx="945.8" cy="218.6" r="2.1"/><circle cx="865.3" cy="229.6" r="2.1"/><circle cx="903.2" cy="294.3" r="2.1"/><circle cx="927.0" cy="172.2" r="2.1"/><circle cx="884.4" cy="174.4" r="2.1"/><circle cx="895.0" cy="266.1" r="2.1"/><circle cx="841.9" cy="236.9" r="2.1"/><circle cx="945.5" cy="270.9" r="2.1"/><circle cx="956.4" cy="181.8" r="2.1"/><circle cx="906.2" cy="294.1" r="2.1"/><circle cx="908.2" cy="293.4" r="2.1"/><circle cx="955.6" cy="242.2" r="2.1"/><circle cx="940.6" cy="258.9" r="2.1"/><circle cx="930.5" cy="265.9" r="2.1"/><circle cx="917.9" cy="173.9" r="2.1"/><circle cx="938.6" cy="180.7" r="2.1"/><circle cx="945.2" cy="232.8" r="2.1"/><circle cx="927.3" cy="236.5" r="2.1"/><circle cx="965.7" cy="182.7" r="2.1"/><circle cx="859.0" cy="195.2" r="2.1"/><circle cx="898.2" cy="156.9" r="2.1"/><circle cx="937.0" cy="287.7" r="2.1"/><circle cx="950.9" cy="177.0" r="2.1"/><circle cx="972.5" cy="183.9" r="2.1"/><circle cx="954.9" cy="241.0" r="2.1"/><circle cx="958.3" cy="214.6" r="2.1"/><circle cx="931.6" cy="252.7" r="2.1"/><circle cx="940.9" cy="269.0" r="2.1"/><circle cx="879.1" cy="224.5" r="2.1"/><circle cx="941.7" cy="172.5" r="2.1"/><circle cx="933.9" cy="162.5" r="2.1"/><circle cx="985.3" cy="236.5" r="2.1"/><circle cx="857.6" cy="266.1" r="2.1"/><circle cx="964.6" cy="174.7" r="2.1"/><circle cx="907.5" cy="296.9" r="2.1"/><circle cx="913.8" cy="230.3" r="2.1"/><circle cx="903.9" cy="272.7" r="2.1"/><circle cx="942.9" cy="214.1" r="2.1"/><circle cx="933.4" cy="222.5" r="2.1"/><circle cx="886.6" cy="205.1" r="2.1"/><circle cx="961.7" cy="221.4" r="2.1"/><circle cx="967.8" cy="217.9" r="2.1"/><circle cx="909.9" cy="295.5" r="2.1"/><circle cx="996.3" cy="154.5" r="2.1"/><circle cx="887.1" cy="270.8" r="2.1"/><circle cx="978.6" cy="192.1" r="2.1"/><circle cx="863.3" cy="263.2" r="2.1"/><circle cx="907.0" cy="296.1" r="2.1"/><circle cx="848.0" cy="213.4" r="2.1"/><circle cx="914.4" cy="191.9" r="2.1"/><circle cx="860.1" cy="200.6" r="2.1"/><circle cx="928.2" cy="170.7" r="2.1"/><circle cx="886.7" cy="200.8" r="2.1"/><circle cx="939.3" cy="198.6" r="2.1"/><circle cx="898.9" cy="222.0" r="2.1"/><circle cx="875.5" cy="190.9" r="2.1"/><circle cx="895.0" cy="194.6" r="2.1"/><circle cx="912.0" cy="227.1" r="2.1"/><circle cx="939.0" cy="265.6" r="2.1"/><circle cx="914.0" cy="261.6" r="2.1"/><circle cx="927.9" cy="182.3" r="2.1"/><circle cx="917.6" cy="232.0" r="2.1"/><circle cx="967.8" cy="140.1" r="2.1"/><circle cx="931.2" cy="209.3" r="2.1"/><circle cx="941.9" cy="150.6" r="2.1"/><circle cx="927.0" cy="173.1" r="2.1"/><circle cx="972.5" cy="238.0" r="2.1"/><circle cx="870.9" cy="268.2" r="2.1"/><circle cx="945.1" cy="259.6" r="2.1"/><circle cx="875.1" cy="175.0" r="2.1"/><circle cx="959.4" cy="210.7" r="2.1"/><circle cx="859.9" cy="279.6" r="2.1"/><circle cx="888.7" cy="171.9" r="2.1"/><circle cx="878.8" cy="248.4" r="2.1"/><circle cx="953.5" cy="208.0" r="2.1"/><circle cx="872.6" cy="176.0" r="2.1"/><circle cx="896.3" cy="258.6" r="2.1"/><circle cx="950.8" cy="209.5" r="2.1"/><circle cx="938.9" cy="209.0" r="2.1"/><circle cx="936.0" cy="240.8" r="2.1"/><circle cx="950.8" cy="220.9" r="2.1"/><circle cx="926.7" cy="244.4" r="2.1"/><circle cx="862.1" cy="231.0" r="2.1"/><circle cx="900.7" cy="246.5" r="2.1"/><circle cx="933.2" cy="244.7" r="2.1"/><circle cx="870.7" cy="203.2" r="2.1"/><circle cx="945.2" cy="278.0" r="2.1"/><circle cx="956.5" cy="192.8" r="2.1"/><circle cx="952.4" cy="237.9" r="2.1"/><circle cx="887.9" cy="253.9" r="2.1"/><circle cx="935.2" cy="172.0" r="2.1"/><circle cx="933.4" cy="235.2" r="2.1"/><circle cx="926.7" cy="196.6" r="2.1"/><circle cx="861.7" cy="258.1" r="2.1"/><circle cx="951.9" cy="185.8" r="2.1"/><circle cx="906.3" cy="293.5" r="2.1"/><circle cx="946.5" cy="208.7" r="2.1"/><circle cx="876.2" cy="225.1" r="2.1"/><circle cx="854.5" cy="214.5" r="2.1"/><circle cx="856.4" cy="202.8" r="2.1"/><circle cx="998.1" cy="244.9" r="2.1"/><circle cx="909.4" cy="294.7" r="2.1"/><circle cx="853.7" cy="259.0" r="2.1"/><circle cx="876.7" cy="208.1" r="2.1"/><circle cx="930.6" cy="248.9" r="2.1"/><circle cx="888.9" cy="248.0" r="2.1"/><circle cx="909.6" cy="278.2" r="2.1"/><circle cx="869.1" cy="251.6" r="2.1"/><circle cx="867.5" cy="247.2" r="2.1"/><circle cx="960.0" cy="214.7" r="2.1"/><circle cx="891.7" cy="176.8" r="2.1"/><circle cx="916.1" cy="290.6" r="2.1"/><circle cx="946.7" cy="217.9" r="2.1"/><circle cx="887.3" cy="265.7" r="2.1"/><circle cx="907.7" cy="297.4" r="2.1"/><circle cx="867.9" cy="245.8" r="2.1"/><circle cx="960.3" cy="214.1" r="2.1"/><circle cx="888.4" cy="230.1" r="2.1"/><circle cx="948.8" cy="210.1" r="2.1"/><circle cx="957.6" cy="210.8" r="2.1"/><circle cx="937.7" cy="217.8" r="2.1"/><circle cx="891.2" cy="225.5" r="2.1"/><circle cx="947.2" cy="244.3" r="2.1"/><circle cx="921.7" cy="222.3" r="2.1"/><circle cx="912.6" cy="273.7" r="2.1"/><circle cx="947.3" cy="220.4" r="2.1"/><circle cx="931.0" cy="206.6" r="2.1"/><circle cx="985.5" cy="208.3" r="2.1"/><circle cx="932.6" cy="287.3" r="2.1"/><circle cx="892.1" cy="264.8" r="2.1"/><circle cx="976.1" cy="218.1" r="2.1"/><circle cx="859.5" cy="252.0" r="2.1"/><circle cx="881.1" cy="254.5" r="2.1"/><circle cx="985.1" cy="173.4" r="2.1"/><circle cx="870.0" cy="215.2" r="2.1"/><circle cx="923.7" cy="282.3" r="2.1"/><circle cx="944.6" cy="182.1" r="2.1"/><circle cx="961.8" cy="196.8" r="2.1"/><circle cx="967.1" cy="238.0" r="2.1"/><circle cx="910.6" cy="255.3" r="2.1"/><circle cx="886.7" cy="171.4" r="2.1"/><circle cx="850.7" cy="248.6" r="2.1"/><circle cx="905.6" cy="293.3" r="2.1"/><circle cx="926.0" cy="293.5" r="2.1"/><circle cx="869.1" cy="190.1" r="2.1"/><circle cx="933.4" cy="276.5" r="2.1"/><circle cx="907.7" cy="297.3" r="2.1"/><circle cx="938.0" cy="265.1" r="2.1"/><circle cx="959.2" cy="198.0" r="2.1"/><circle cx="948.1" cy="204.9" r="2.1"/><circle cx="943.2" cy="191.2" r="2.1"/><circle cx="868.4" cy="228.0" r="2.1"/><circle cx="952.6" cy="200.9" r="2.1"/><circle cx="902.1" cy="270.1" r="2.1"/><circle cx="908.7" cy="296.4" r="2.1"/><circle cx="897.8" cy="182.4" r="2.1"/><circle cx="869.4" cy="232.5" r="2.1"/><circle cx="891.6" cy="202.1" r="2.1"/><circle cx="906.1" cy="297.5" r="2.1"/><circle cx="902.1" cy="216.2" r="2.1"/><circle cx="954.4" cy="210.2" r="2.1"/><circle cx="976.5" cy="236.8" r="2.1"/><circle cx="905.6" cy="296.0" r="2.1"/><circle cx="984.4" cy="245.6" r="2.1"/><circle cx="896.7" cy="286.2" r="2.1"/><circle cx="949.5" cy="234.3" r="2.1"/><circle cx="873.9" cy="188.4" r="2.1"/><circle cx="904.2" cy="259.9" r="2.1"/><circle cx="912.8" cy="267.0" r="2.1"/><circle cx="867.9" cy="284.9" r="2.1"/><circle cx="906.7" cy="296.9" r="2.1"/><circle cx="943.5" cy="189.5" r="2.1"/><circle cx="944.0" cy="157.3" r="2.1"/><circle cx="955.3" cy="275.3" r="2.1"/><circle cx="890.4" cy="233.8" r="2.1"/><circle cx="874.9" cy="243.4" r="2.1"/><circle cx="880.6" cy="245.9" r="2.1"/><circle cx="964.3" cy="176.2" r="2.1"/><circle cx="896.1" cy="281.8" r="2.1"/><circle cx="938.1" cy="183.2" r="2.1"/><circle cx="879.6" cy="288.9" r="2.1"/><circle cx="854.1" cy="213.5" r="2.1"/><circle cx="984.5" cy="218.6" r="2.1"/><circle cx="969.5" cy="171.2" r="2.1"/><circle cx="919.7" cy="249.5" r="2.1"/><circle cx="933.8" cy="245.6" r="2.1"/><circle cx="903.0" cy="292.6" r="2.1"/><circle cx="967.9" cy="267.9" r="2.1"/><circle cx="961.3" cy="231.5" r="2.1"/><circle cx="950.7" cy="176.4" r="2.1"/><circle cx="866.3" cy="229.9" r="2.1"/><circle cx="966.2" cy="237.4" r="2.1"/><circle cx="946.5" cy="210.2" r="2.1"/><circle cx="879.6" cy="166.1" r="2.1"/><circle cx="941.8" cy="180.5" r="2.1"/><circle cx="881.5" cy="233.8" r="2.1"/><circle cx="946.5" cy="250.8" r="2.1"/><circle cx="848.1" cy="151.8" r="2.1"/><circle cx="890.8" cy="243.0" r="2.1"/><circle cx="925.3" cy="222.4" r="2.1"/><circle cx="954.1" cy="216.4" r="2.1"/><circle cx="906.1" cy="296.7" r="2.1"/><circle cx="895.7" cy="224.5" r="2.1"/><circle cx="872.4" cy="257.4" r="2.1"/><circle cx="917.6" cy="208.1" r="2.1"/><circle cx="967.2" cy="205.0" r="2.1"/><circle cx="886.0" cy="289.4" r="2.1"/><circle cx="859.6" cy="216.9" r="2.1"/><circle cx="985.1" cy="215.3" r="2.1"/><circle cx="859.1" cy="246.4" r="2.1"/><circle cx="942.0" cy="234.5" r="2.1"/><circle cx="938.2" cy="188.7" r="2.1"/><circle cx="905.9" cy="295.3" r="2.1"/><circle cx="933.9" cy="166.2" r="2.1"/><circle cx="982.8" cy="201.5" r="2.1"/><circle cx="959.9" cy="215.6" r="2.1"/><circle cx="906.8" cy="297.3" r="2.1"/><circle cx="937.9" cy="272.8" r="2.1"/><circle cx="934.2" cy="239.5" r="2.1"/><circle cx="957.0" cy="247.2" r="2.1"/><circle cx="888.1" cy="197.9" r="2.1"/><circle cx="946.8" cy="241.4" r="2.1"/><circle cx="925.5" cy="243.5" r="2.1"/><circle cx="944.8" cy="222.2" r="2.1"/><circle cx="877.2" cy="269.7" r="2.1"/><circle cx="906.5" cy="296.2" r="2.1"/><circle cx="943.9" cy="194.7" r="2.1"/><circle cx="881.4" cy="179.1" r="2.1"/><circle cx="903.5" cy="293.2" r="2.1"/><circle cx="869.5" cy="187.0" r="2.1"/><circle cx="946.5" cy="258.3" r="2.1"/><circle cx="907.6" cy="295.1" r="2.1"/><circle cx="924.4" cy="204.8" r="2.1"/><circle cx="879.1" cy="195.1" r="2.1"/><circle cx="864.4" cy="264.7" r="2.1"/><circle cx="866.7" cy="281.5" r="2.1"/><circle cx="897.7" cy="288.0" r="2.1"/><circle cx="858.6" cy="254.6" r="2.1"/><circle cx="898.7" cy="172.5" r="2.1"/><circle cx="947.2" cy="267.4" r="2.1"/><circle cx="886.7" cy="185.1" r="2.1"/><circle cx="941.3" cy="161.3" r="2.1"/><circle cx="881.2" cy="249.0" r="2.1"/><circle cx="910.7" cy="287.3" r="2.1"/><circle cx="864.1" cy="255.0" r="2.1"/><circle cx="886.7" cy="267.3" r="2.1"/><circle cx="865.2" cy="191.9" r="2.1"/><circle cx="857.4" cy="232.0" r="2.1"/><circle cx="961.1" cy="174.3" r="2.1"/><circle cx="918.0" cy="262.2" r="2.1"/><circle cx="906.7" cy="296.4" r="2.1"/><circle cx="941.8" cy="215.0" r="2.1"/><circle cx="870.3" cy="188.5" r="2.1"/><circle cx="906.4" cy="295.8" r="2.1"/><circle cx="908.3" cy="295.1" r="2.1"/><circle cx="947.7" cy="170.4" r="2.1"/><circle cx="863.7" cy="267.3" r="2.1"/><circle cx="870.9" cy="203.3" r="2.1"/><circle cx="919.2" cy="279.9" r="2.1"/><circle cx="958.0" cy="169.2" r="2.1"/><circle cx="927.0" cy="212.4" r="2.1"/><circle cx="940.4" cy="172.2" r="2.1"/><circle cx="868.5" cy="209.8" r="2.1"/><circle cx="934.3" cy="222.5" r="2.1"/><circle cx="913.2" cy="288.1" r="2.1"/><circle cx="930.0" cy="289.2" r="2.1"/><circle cx="913.9" cy="240.9" r="2.1"/><circle cx="933.5" cy="165.3" r="2.1"/><circle cx="942.6" cy="188.0" r="2.1"/><circle cx="869.4" cy="215.9" r="2.1"/><circle cx="941.7" cy="225.7" r="2.1"/><circle cx="956.0" cy="190.1" r="2.1"/><circle cx="867.5" cy="287.3" r="2.1"/><circle cx="979.9" cy="221.0" r="2.1"/><circle cx="912.5" cy="231.5" r="2.1"/><circle cx="934.4" cy="246.9" r="2.1"/><circle cx="951.5" cy="234.7" r="2.1"/><circle cx="968.3" cy="186.2" r="2.1"/><circle cx="920.3" cy="189.4" r="2.1"/><circle cx="909.0" cy="295.4" r="2.1"/><circle cx="939.2" cy="200.3" r="2.1"/><circle cx="933.4" cy="186.1" r="2.1"/><circle cx="903.9" cy="295.9" r="2.1"/><circle cx="927.9" cy="275.7" r="2.1"/><circle cx="882.4" cy="163.6" r="2.1"/><circle cx="944.7" cy="255.7" r="2.1"/><circle cx="891.3" cy="218.0" r="2.1"/><circle cx="859.4" cy="262.9" r="2.1"/><circle cx="955.6" cy="176.9" r="2.1"/><circle cx="992.4" cy="167.1" r="2.1"/><circle cx="875.4" cy="269.6" r="2.1"/><circle cx="922.5" cy="294.7" r="2.1"/><circle cx="940.5" cy="189.9" r="2.1"/><circle cx="943.5" cy="184.2" r="2.1"/><circle cx="905.8" cy="296.0" r="2.1"/><circle cx="877.5" cy="171.3" r="2.1"/><circle cx="885.2" cy="190.8" r="2.1"/><circle cx="894.4" cy="250.4" r="2.1"/><circle cx="922.5" cy="205.0" r="2.1"/><circle cx="895.4" cy="197.4" r="2.1"/><circle cx="867.5" cy="187.4" r="2.1"/><circle cx="933.0" cy="261.8" r="2.1"/><circle cx="964.8" cy="250.3" r="2.1"/><circle cx="954.9" cy="241.4" r="2.1"/><circle cx="865.1" cy="269.0" r="2.1"/><circle cx="960.9" cy="261.4" r="2.1"/><circle cx="895.7" cy="193.2" r="2.1"/><circle cx="883.5" cy="271.9" r="2.1"/><circle cx="890.4" cy="178.5" r="2.1"/><circle cx="914.4" cy="290.6" r="2.1"/><circle cx="851.8" cy="203.3" r="2.1"/><circle cx="877.3" cy="287.9" r="2.1"/><circle cx="956.0" cy="246.3" r="2.1"/><circle cx="918.0" cy="250.1" r="2.1"/><circle cx="900.3" cy="164.6" r="2.1"/><circle cx="907.4" cy="296.4" r="2.1"/><circle cx="959.3" cy="191.6" r="2.1"/><circle cx="894.6" cy="274.4" r="2.1"/><circle cx="953.1" cy="156.2" r="2.1"/><circle cx="904.7" cy="295.4" r="2.1"/><circle cx="904.0" cy="296.7" r="2.1"/><circle cx="934.1" cy="251.0" r="2.1"/><circle cx="966.9" cy="170.1" r="2.1"/><circle cx="963.6" cy="228.9" r="2.1"/><circle cx="864.0" cy="228.2" r="2.1"/><circle cx="973.8" cy="208.7" r="2.1"/><circle cx="950.2" cy="236.2" r="2.1"/><circle cx="918.9" cy="263.6" r="2.1"/><circle cx="907.5" cy="296.2" r="2.1"/><circle cx="905.3" cy="295.6" r="2.1"/><circle cx="987.6" cy="166.0" r="2.1"/><circle cx="907.4" cy="296.7" r="2.1"/><circle cx="920.0" cy="296.0" r="2.1"/><circle cx="928.5" cy="199.2" r="2.1"/><circle cx="950.2" cy="193.0" r="2.1"/><circle cx="971.3" cy="189.4" r="2.1"/><circle cx="858.2" cy="211.0" r="2.1"/><circle cx="929.4" cy="207.9" r="2.1"/><circle cx="949.6" cy="243.6" r="2.1"/><circle cx="928.3" cy="269.0" r="2.1"/><circle cx="899.5" cy="227.3" r="2.1"/><circle cx="881.9" cy="247.8" r="2.1"/><circle cx="946.1" cy="232.0" r="2.1"/><circle cx="863.9" cy="285.8" r="2.1"/><circle cx="894.7" cy="173.5" r="2.1"/><circle cx="936.6" cy="160.4" r="2.1"/><circle cx="904.8" cy="295.4" r="2.1"/><circle cx="921.2" cy="273.7" r="2.1"/><circle cx="906.8" cy="297.6" r="2.1"/><circle cx="968.6" cy="208.0" r="2.1"/><circle cx="883.2" cy="203.0" r="2.1"/><circle cx="976.7" cy="197.1" r="2.1"/><circle cx="865.8" cy="254.4" r="2.1"/><circle cx="922.7" cy="180.3" r="2.1"/><circle cx="946.6" cy="216.2" r="2.1"/><circle cx="864.2" cy="182.9" r="2.1"/><circle cx="938.7" cy="201.2" r="2.1"/><circle cx="929.1" cy="251.9" r="2.1"/><circle cx="882.4" cy="182.1" r="2.1"/><circle cx="948.0" cy="224.9" r="2.1"/><circle cx="883.8" cy="277.2" r="2.1"/><circle cx="907.4" cy="289.9" r="2.1"/><circle cx="853.9" cy="172.3" r="2.1"/><circle cx="921.5" cy="250.5" r="2.1"/><circle cx="876.7" cy="183.9" r="2.1"/><circle cx="894.4" cy="292.1" r="2.1"/><circle cx="966.9" cy="180.9" r="2.1"/><circle cx="869.3" cy="280.6" r="2.1"/><circle cx="969.6" cy="203.8" r="2.1"/><circle cx="981.8" cy="189.6" r="2.1"/><circle cx="906.3" cy="296.8" r="2.1"/><circle cx="914.4" cy="249.9" r="2.1"/><circle cx="906.5" cy="291.2" r="2.1"/><circle cx="961.8" cy="219.8" r="2.1"/><circle cx="866.6" cy="186.6" r="2.1"/><circle cx="943.6" cy="232.0" r="2.1"/><circle cx="957.0" cy="225.2" r="2.1"/><circle cx="880.0" cy="263.5" r="2.1"/><circle cx="886.2" cy="169.8" r="2.1"/><circle cx="926.1" cy="191.7" r="2.1"/><circle cx="884.4" cy="168.9" r="2.1"/><circle cx="960.6" cy="208.2" r="2.1"/><circle cx="886.3" cy="164.1" r="2.1"/><circle cx="944.4" cy="237.3" r="2.1"/><circle cx="918.5" cy="182.0" r="2.1"/><circle cx="949.6" cy="235.1" r="2.1"/><circle cx="898.2" cy="272.8" r="2.1"/><circle cx="906.9" cy="292.1" r="2.1"/><circle cx="917.1" cy="201.6" r="2.1"/><circle cx="952.5" cy="191.8" r="2.1"/><circle cx="917.9" cy="181.6" r="2.1"/><circle cx="910.6" cy="294.5" r="2.1"/><circle cx="884.9" cy="210.1" r="2.1"/><circle cx="947.1" cy="209.5" r="2.1"/><circle cx="907.1" cy="294.1" r="2.1"/><circle cx="893.5" cy="230.7" r="2.1"/><circle cx="922.7" cy="280.1" r="2.1"/><circle cx="925.1" cy="222.6" r="2.1"/><circle cx="950.3" cy="173.6" r="2.1"/><circle cx="929.2" cy="211.6" r="2.1"/><circle cx="932.7" cy="156.6" r="2.1"/><circle cx="851.3" cy="214.2" r="2.1"/><circle cx="870.8" cy="217.8" r="2.1"/><circle cx="969.4" cy="258.3" r="2.1"/><circle cx="910.0" cy="295.2" r="2.1"/><circle cx="858.9" cy="229.7" r="2.1"/><circle cx="853.3" cy="213.9" r="2.1"/><circle cx="954.0" cy="250.2" r="2.1"/><circle cx="866.5" cy="174.6" r="2.1"/><circle cx="869.8" cy="211.6" r="2.1"/><circle cx="862.3" cy="200.2" r="2.1"/><circle cx="942.8" cy="212.2" r="2.1"/><circle cx="925.1" cy="246.3" r="2.1"/><circle cx="903.2" cy="293.7" r="2.1"/><circle cx="914.7" cy="207.4" r="2.1"/><circle cx="919.7" cy="215.6" r="2.1"/><circle cx="953.2" cy="191.8" r="2.1"/><circle cx="861.6" cy="197.7" r="2.1"/><circle cx="883.4" cy="180.2" r="2.1"/><circle cx="935.2" cy="276.2" r="2.1"/><circle cx="888.3" cy="168.7" r="2.1"/><circle cx="908.2" cy="295.8" r="2.1"/><circle cx="900.3" cy="294.7" r="2.1"/><circle cx="908.0" cy="294.8" r="2.1"/><circle cx="872.4" cy="274.0" r="2.1"/><circle cx="864.3" cy="177.4" r="2.1"/><circle cx="868.4" cy="288.9" r="2.1"/><circle cx="914.4" cy="223.9" r="2.1"/><circle cx="906.5" cy="294.6" r="2.1"/><circle cx="909.8" cy="271.8" r="2.1"/><circle cx="889.6" cy="174.7" r="2.1"/><circle cx="866.0" cy="288.9" r="2.1"/><circle cx="914.0" cy="245.5" r="2.1"/><circle cx="949.1" cy="262.1" r="2.1"/><circle cx="919.8" cy="284.5" r="2.1"/><circle cx="942.7" cy="247.2" r="2.1"/><circle cx="869.3" cy="269.2" r="2.1"/><circle cx="901.1" cy="212.2" r="2.1"/><circle cx="945.0" cy="206.2" r="2.1"/><circle cx="900.2" cy="281.5" r="2.1"/><circle cx="932.2" cy="147.9" r="2.1"/><circle cx="916.5" cy="223.2" r="2.1"/><circle cx="860.2" cy="249.3" r="2.1"/><circle cx="917.5" cy="280.3" r="2.1"/><circle cx="940.3" cy="265.9" r="2.1"/><circle cx="860.2" cy="215.6" r="2.1"/><circle cx="862.7" cy="240.4" r="2.1"/><circle cx="966.8" cy="204.4" r="2.1"/><circle cx="951.8" cy="208.4" r="2.1"/><circle cx="916.3" cy="215.8" r="2.1"/><circle cx="944.4" cy="254.2" r="2.1"/><circle cx="865.9" cy="237.4" r="2.1"/><circle cx="912.7" cy="293.5" r="2.1"/><circle cx="993.3" cy="224.3" r="2.1"/><circle cx="905.6" cy="294.0" r="2.1"/><circle cx="952.4" cy="222.3" r="2.1"/><circle cx="893.1" cy="191.6" r="2.1"/><circle cx="976.9" cy="184.2" r="2.1"/><circle cx="875.4" cy="234.2" r="2.1"/><circle cx="881.0" cy="275.7" r="2.1"/><circle cx="947.9" cy="235.4" r="2.1"/><circle cx="956.2" cy="231.4" r="2.1"/><circle cx="934.1" cy="262.7" r="2.1"/><circle cx="888.8" cy="280.0" r="2.1"/><circle cx="942.0" cy="188.3" r="2.1"/><circle cx="940.7" cy="175.6" r="2.1"/><circle cx="859.2" cy="240.0" r="2.1"/><circle cx="942.3" cy="209.8" r="2.1"/><circle cx="864.0" cy="180.8" r="2.1"/><circle cx="862.2" cy="222.0" r="2.1"/><circle cx="907.2" cy="297.4" r="2.1"/><circle cx="959.7" cy="186.6" r="2.1"/><circle cx="959.5" cy="222.6" r="2.1"/><circle cx="885.9" cy="205.2" r="2.1"/><circle cx="909.3" cy="283.2" r="2.1"/><circle cx="916.1" cy="226.4" r="2.1"/><circle cx="928.9" cy="272.9" r="2.1"/><circle cx="958.1" cy="206.1" r="2.1"/><circle cx="956.0" cy="224.2" r="2.1"/><circle cx="865.4" cy="257.1" r="2.1"/><circle cx="950.5" cy="179.1" r="2.1"/><circle cx="948.8" cy="237.0" r="2.1"/><circle cx="883.4" cy="270.6" r="2.1"/><circle cx="947.2" cy="197.3" r="2.1"/><circle cx="932.3" cy="168.4" r="2.1"/><circle cx="935.6" cy="204.3" r="2.1"/><circle cx="862.6" cy="225.6" r="2.1"/><circle cx="928.5" cy="159.2" r="2.1"/><circle cx="974.9" cy="254.3" r="2.1"/><circle cx="870.3" cy="214.0" r="2.1"/><circle cx="867.2" cy="211.3" r="2.1"/><circle cx="874.3" cy="210.1" r="2.1"/><circle cx="857.1" cy="157.7" r="2.1"/><circle cx="895.5" cy="284.9" r="2.1"/><circle cx="899.8" cy="288.9" r="2.1"/><circle cx="887.0" cy="266.0" r="2.1"/><circle cx="948.1" cy="239.7" r="2.1"/><circle cx="970.2" cy="185.6" r="2.1"/><circle cx="906.8" cy="295.7" r="2.1"/><circle cx="868.2" cy="260.9" r="2.1"/><circle cx="903.9" cy="295.2" r="2.1"/><circle cx="943.9" cy="271.4" r="2.1"/><circle cx="858.3" cy="266.5" r="2.1"/><circle cx="952.6" cy="197.2" r="2.1"/><circle cx="862.5" cy="264.7" r="2.1"/><circle cx="880.6" cy="207.7" r="2.1"/><circle cx="979.5" cy="241.2" r="2.1"/><circle cx="933.7" cy="254.1" r="2.1"/><circle cx="983.8" cy="174.7" r="2.1"/><circle cx="974.9" cy="190.8" r="2.1"/><circle cx="932.8" cy="293.9" r="2.1"/><circle cx="957.0" cy="246.8" r="2.1"/><circle cx="921.6" cy="290.2" r="2.1"/><circle cx="884.3" cy="199.8" r="2.1"/><circle cx="921.7" cy="257.2" r="2.1"/><circle cx="905.1" cy="296.8" r="2.1"/><circle cx="953.5" cy="188.3" r="2.1"/><circle cx="891.0" cy="195.6" r="2.1"/><circle cx="938.0" cy="256.3" r="2.1"/><circle cx="864.9" cy="251.4" r="2.1"/><circle cx="920.4" cy="290.7" r="2.1"/><circle cx="871.1" cy="280.9" r="2.1"/><circle cx="934.4" cy="183.5" r="2.1"/><circle cx="946.0" cy="190.5" r="2.1"/><circle cx="916.4" cy="293.2" r="2.1"/><circle cx="970.7" cy="156.7" r="2.1"/><circle cx="899.0" cy="157.3" r="2.1"/><circle cx="959.4" cy="248.8" r="2.1"/><circle cx="935.6" cy="254.7" r="2.1"/><circle cx="893.5" cy="270.3" r="2.1"/><circle cx="858.7" cy="267.1" r="2.1"/><circle cx="945.0" cy="223.7" r="2.1"/><circle cx="956.6" cy="225.9" r="2.1"/><circle cx="973.2" cy="203.2" r="2.1"/><circle cx="954.5" cy="176.6" r="2.1"/><circle cx="926.7" cy="180.2" r="2.1"/><circle cx="904.3" cy="294.2" r="2.1"/><circle cx="921.5" cy="234.8" r="2.1"/><circle cx="943.0" cy="166.0" r="2.1"/><circle cx="899.0" cy="194.5" r="2.1"/><circle cx="905.5" cy="295.6" r="2.1"/><circle cx="959.4" cy="204.7" r="2.1"/><circle cx="917.6" cy="209.1" r="2.1"/><circle cx="897.7" cy="219.4" r="2.1"/><circle cx="937.0" cy="212.5" r="2.1"/><circle cx="940.1" cy="244.4" r="2.1"/><circle cx="924.9" cy="265.8" r="2.1"/><circle cx="938.4" cy="192.1" r="2.1"/><circle cx="934.5" cy="187.4" r="2.1"/><circle cx="864.6" cy="185.6" r="2.1"/><circle cx="852.4" cy="178.5" r="2.1"/><circle cx="958.6" cy="189.7" r="2.1"/><circle cx="950.5" cy="186.6" r="2.1"/><circle cx="939.9" cy="180.6" r="2.1"/><circle cx="868.8" cy="251.6" r="2.1"/><circle cx="938.2" cy="228.0" r="2.1"/><circle cx="875.9" cy="172.9" r="2.1"/><circle cx="906.2" cy="297.1" r="2.1"/><circle cx="907.7" cy="290.5" r="2.1"/><circle cx="967.5" cy="193.7" r="2.1"/><circle cx="913.9" cy="256.8" r="2.1"/><circle cx="918.8" cy="233.0" r="2.1"/><circle cx="885.5" cy="277.6" r="2.1"/><circle cx="949.5" cy="237.8" r="2.1"/><circle cx="960.0" cy="225.4" r="2.1"/><circle cx="902.7" cy="268.8" r="2.1"/><circle cx="919.3" cy="210.6" r="2.1"/><circle cx="920.5" cy="209.4" r="2.1"/><circle cx="870.3" cy="171.8" r="2.1"/><circle cx="863.8" cy="277.6" r="2.1"/><circle cx="963.1" cy="224.8" r="2.1"/><circle cx="903.6" cy="291.8" r="2.1"/><circle cx="873.5" cy="282.8" r="2.1"/><circle cx="860.9" cy="217.4" r="2.1"/><circle cx="959.0" cy="195.6" r="2.1"/><circle cx="954.5" cy="244.1" r="2.1"/><circle cx="846.4" cy="215.2" r="2.1"/><circle cx="975.0" cy="200.4" r="2.1"/><circle cx="897.7" cy="268.2" r="2.1"/><circle cx="905.0" cy="296.8" r="2.1"/><circle cx="940.0" cy="149.6" r="2.1"/><circle cx="904.4" cy="295.7" r="2.1"/><circle cx="982.0" cy="206.6" r="2.1"/><circle cx="926.8" cy="248.1" r="2.1"/><circle cx="925.7" cy="234.9" r="2.1"/><circle cx="923.1" cy="236.8" r="2.1"/><circle cx="944.4" cy="180.6" r="2.1"/><circle cx="941.2" cy="209.4" r="2.1"/><circle cx="957.5" cy="215.9" r="2.1"/><circle cx="887.9" cy="187.7" r="2.1"/><circle cx="926.7" cy="166.4" r="2.1"/><circle cx="924.2" cy="159.0" r="2.1"/><circle cx="927.4" cy="212.9" r="2.1"/><circle cx="936.3" cy="214.7" r="2.1"/><circle cx="936.9" cy="179.9" r="2.1"/><circle cx="949.9" cy="155.8" r="2.1"/><circle cx="950.0" cy="208.2" r="2.1"/><circle cx="917.9" cy="272.9" r="2.1"/><circle cx="934.9" cy="277.5" r="2.1"/><circle cx="960.0" cy="256.3" r="2.1"/><circle cx="931.6" cy="272.2" r="2.1"/><circle cx="979.3" cy="194.1" r="2.1"/><circle cx="957.5" cy="233.1" r="2.1"/><circle cx="935.5" cy="161.7" r="2.1"/><circle cx="960.2" cy="179.0" r="2.1"/><circle cx="1004.5" cy="200.0" r="2.1"/><circle cx="902.9" cy="279.1" r="2.1"/><circle cx="908.6" cy="293.8" r="2.1"/><circle cx="944.6" cy="272.2" r="2.1"/><circle cx="985.6" cy="177.1" r="2.1"/><circle cx="873.0" cy="263.4" r="2.1"/><circle cx="941.3" cy="208.2" r="2.1"/><circle cx="849.7" cy="216.3" r="2.1"/><circle cx="956.6" cy="233.5" r="2.1"/><circle cx="986.5" cy="217.2" r="2.1"/><circle cx="870.4" cy="240.1" r="2.1"/><circle cx="859.4" cy="234.8" r="2.1"/><circle cx="944.4" cy="201.3" r="2.1"/><circle cx="904.6" cy="290.6" r="2.1"/><circle cx="889.4" cy="282.7" r="2.1"/><circle cx="949.1" cy="192.0" r="2.1"/><circle cx="874.4" cy="170.0" r="2.1"/><circle cx="905.5" cy="296.3" r="2.1"/><circle cx="904.3" cy="292.9" r="2.1"/><circle cx="857.9" cy="232.0" r="2.1"/><circle cx="894.9" cy="274.5" r="2.1"/><circle cx="952.3" cy="192.8" r="2.1"/><circle cx="918.0" cy="150.3" r="2.1"/><circle cx="939.2" cy="215.8" r="2.1"/><circle cx="906.5" cy="292.8" r="2.1"/><circle cx="865.4" cy="215.0" r="2.1"/><circle cx="881.1" cy="252.5" r="2.1"/><circle cx="947.1" cy="205.8" r="2.1"/><circle cx="941.0" cy="188.9" r="2.1"/><circle cx="935.9" cy="163.4" r="2.1"/><circle cx="913.9" cy="274.3" r="2.1"/><circle cx="944.9" cy="218.0" r="2.1"/><circle cx="893.3" cy="198.4" r="2.1"/><circle cx="923.4" cy="181.9" r="2.1"/><circle cx="894.6" cy="272.3" r="2.1"/><circle cx="913.2" cy="297.0" r="2.1"/><circle cx="937.3" cy="193.9" r="2.1"/><circle cx="860.0" cy="218.0" r="2.1"/><circle cx="941.8" cy="200.6" r="2.1"/><circle cx="892.0" cy="163.5" r="2.1"/><circle cx="932.6" cy="266.1" r="2.1"/><circle cx="894.5" cy="233.0" r="2.1"/><circle cx="922.5" cy="280.2" r="2.1"/><circle cx="868.9" cy="210.3" r="2.1"/><circle cx="904.7" cy="292.3" r="2.1"/><circle cx="951.9" cy="271.9" r="2.1"/><circle cx="1011.0" cy="169.7" r="2.1"/><circle cx="935.3" cy="220.4" r="2.1"/><circle cx="907.6" cy="294.0" r="2.1"/><circle cx="885.1" cy="160.1" r="2.1"/><circle cx="952.3" cy="192.6" r="2.1"/><circle cx="896.8" cy="282.3" r="2.1"/><circle cx="909.8" cy="292.3" r="2.1"/><circle cx="931.7" cy="168.3" r="2.1"/><circle cx="862.8" cy="230.8" r="2.1"/><circle cx="970.4" cy="217.4" r="2.1"/><circle cx="866.4" cy="185.4" r="2.1"/><circle cx="945.5" cy="210.2" r="2.1"/><circle cx="902.8" cy="288.9" r="2.1"/><circle cx="1003.0" cy="152.9" r="2.1"/><circle cx="938.3" cy="251.9" r="2.1"/><circle cx="971.9" cy="183.7" r="2.1"/><circle cx="858.9" cy="165.6" r="2.1"/><circle cx="905.5" cy="297.0" r="2.1"/><circle cx="870.7" cy="284.0" r="2.1"/><circle cx="877.6" cy="249.2" r="2.1"/><circle cx="975.7" cy="213.9" r="2.1"/><circle cx="925.6" cy="281.1" r="2.1"/><circle cx="956.0" cy="232.5" r="2.1"/><circle cx="948.7" cy="219.1" r="2.1"/><circle cx="915.7" cy="267.2" r="2.1"/><circle cx="985.0" cy="172.6" r="2.1"/><circle cx="930.6" cy="231.6" r="2.1"/><circle cx="885.6" cy="184.4" r="2.1"/><circle cx="959.5" cy="244.2" r="2.1"/><circle cx="866.4" cy="228.7" r="2.1"/><circle cx="916.8" cy="255.9" r="2.1"/><circle cx="946.1" cy="211.9" r="2.1"/><circle cx="929.1" cy="241.5" r="2.1"/><circle cx="914.3" cy="189.7" r="2.1"/><circle cx="866.3" cy="216.2" r="2.1"/><circle cx="939.5" cy="172.1" r="2.1"/><circle cx="972.0" cy="216.7" r="2.1"/><circle cx="961.7" cy="218.5" r="2.1"/><circle cx="936.7" cy="282.6" r="2.1"/><circle cx="1004.8" cy="229.5" r="2.1"/><circle cx="909.9" cy="273.7" r="2.1"/><circle cx="934.4" cy="282.0" r="2.1"/><circle cx="962.2" cy="245.1" r="2.1"/><circle cx="929.8" cy="267.8" r="2.1"/><circle cx="939.3" cy="200.0" r="2.1"/><circle cx="884.6" cy="170.5" r="2.1"/><circle cx="912.4" cy="258.6" r="2.1"/><circle cx="861.8" cy="231.3" r="2.1"/><circle cx="940.0" cy="234.4" r="2.1"/><circle cx="906.3" cy="294.4" r="2.1"/><circle cx="946.8" cy="281.7" r="2.1"/><circle cx="911.2" cy="241.8" r="2.1"/><circle cx="896.7" cy="296.8" r="2.1"/><circle cx="939.3" cy="277.4" r="2.1"/><circle cx="936.8" cy="220.3" r="2.1"/><circle cx="884.9" cy="236.0" r="2.1"/><circle cx="939.1" cy="151.0" r="2.1"/><circle cx="925.2" cy="163.9" r="2.1"/><circle cx="962.9" cy="219.7" r="2.1"/><circle cx="916.1" cy="291.8" r="2.1"/><circle cx="896.0" cy="218.7" r="2.1"/><circle cx="914.9" cy="282.0" r="2.1"/><circle cx="888.5" cy="236.7" r="2.1"/><circle cx="864.1" cy="235.7" r="2.1"/><circle cx="923.9" cy="275.0" r="2.1"/><circle cx="893.7" cy="170.3" r="2.1"/><circle cx="976.3" cy="202.0" r="2.1"/><circle cx="945.9" cy="209.1" r="2.1"/><circle cx="916.9" cy="242.6" r="2.1"/><circle cx="921.5" cy="235.5" r="2.1"/><circle cx="912.2" cy="294.9" r="2.1"/><circle cx="961.9" cy="169.7" r="2.1"/><circle cx="981.6" cy="136.2" r="2.1"/><circle cx="952.2" cy="179.7" r="2.1"/><circle cx="958.7" cy="238.8" r="2.1"/><circle cx="881.1" cy="239.5" r="2.1"/><circle cx="941.4" cy="269.0" r="2.1"/><circle cx="887.9" cy="229.0" r="2.1"/><circle cx="906.6" cy="296.7" r="2.1"/><circle cx="851.4" cy="195.7" r="2.1"/><circle cx="893.6" cy="173.5" r="2.1"/><circle cx="905.8" cy="295.8" r="2.1"/><circle cx="918.0" cy="229.7" r="2.1"/><circle cx="917.2" cy="195.6" r="2.1"/><circle cx="957.8" cy="157.5" r="2.1"/><circle cx="911.0" cy="272.6" r="2.1"/><circle cx="913.4" cy="273.3" r="2.1"/><circle cx="931.9" cy="266.8" r="2.1"/><circle cx="893.7" cy="223.6" r="2.1"/><circle cx="903.5" cy="294.6" r="2.1"/><circle cx="908.4" cy="292.3" r="2.1"/><circle cx="905.2" cy="297.0" r="2.1"/><circle cx="965.5" cy="202.9" r="2.1"/><circle cx="900.9" cy="287.9" r="2.1"/><circle cx="910.7" cy="275.0" r="2.1"/><circle cx="907.7" cy="295.6" r="2.1"/><circle cx="940.0" cy="257.5" r="2.1"/><circle cx="961.3" cy="173.0" r="2.1"/><circle cx="979.8" cy="242.6" r="2.1"/><circle cx="984.2" cy="220.5" r="2.1"/><circle cx="863.9" cy="243.1" r="2.1"/><circle cx="907.0" cy="297.3" r="2.1"/><circle cx="895.8" cy="267.0" r="2.1"/><circle cx="925.4" cy="250.8" r="2.1"/><circle cx="869.2" cy="236.6" r="2.1"/><circle cx="913.2" cy="257.4" r="2.1"/><circle cx="920.6" cy="197.1" r="2.1"/><circle cx="905.9" cy="296.6" r="2.1"/><circle cx="969.0" cy="191.5" r="2.1"/><circle cx="910.0" cy="269.8" r="2.1"/><circle cx="993.7" cy="203.1" r="2.1"/><circle cx="928.3" cy="177.4" r="2.1"/><circle cx="879.4" cy="169.9" r="2.1"/><circle cx="906.1" cy="296.8" r="2.1"/><circle cx="874.2" cy="276.5" r="2.1"/><circle cx="874.1" cy="174.2" r="2.1"/><circle cx="886.4" cy="295.2" r="2.1"/><circle cx="906.7" cy="295.5" r="2.1"/><circle cx="949.6" cy="200.9" r="2.1"/><circle cx="923.7" cy="205.3" r="2.1"/><circle cx="899.1" cy="181.4" r="2.1"/><circle cx="913.4" cy="193.4" r="2.1"/><circle cx="880.2" cy="176.4" r="2.1"/><circle cx="883.0" cy="238.5" r="2.1"/><circle cx="899.7" cy="212.7" r="2.1"/><circle cx="940.6" cy="220.4" r="2.1"/><circle cx="929.1" cy="282.2" r="2.1"/><circle cx="940.3" cy="202.5" r="2.1"/><circle cx="911.6" cy="251.1" r="2.1"/><circle cx="946.2" cy="206.1" r="2.1"/><circle cx="970.0" cy="187.2" r="2.1"/><circle cx="930.8" cy="157.3" r="2.1"/><circle cx="945.7" cy="242.3" r="2.1"/><circle cx="922.5" cy="284.0" r="2.1"/><circle cx="958.7" cy="190.1" r="2.1"/><circle cx="971.6" cy="244.3" r="2.1"/><circle cx="897.7" cy="184.1" r="2.1"/><circle cx="858.9" cy="229.8" r="2.1"/><circle cx="918.8" cy="244.2" r="2.1"/><circle cx="936.2" cy="186.9" r="2.1"/><circle cx="918.8" cy="205.7" r="2.1"/><circle cx="945.6" cy="187.2" r="2.1"/><circle cx="862.4" cy="219.2" r="2.1"/><circle cx="938.9" cy="182.4" r="2.1"/><circle cx="921.7" cy="254.2" r="2.1"/><circle cx="879.8" cy="244.0" r="2.1"/><circle cx="992.7" cy="192.6" r="2.1"/><circle cx="852.4" cy="228.8" r="2.1"/><circle cx="864.8" cy="218.2" r="2.1"/><circle cx="929.7" cy="170.3" r="2.1"/><circle cx="986.0" cy="206.9" r="2.1"/><circle cx="889.1" cy="231.5" r="2.1"/><circle cx="907.0" cy="296.6" r="2.1"/><circle cx="888.9" cy="204.8" r="2.1"/><circle cx="930.2" cy="286.2" r="2.1"/><circle cx="864.5" cy="233.2" r="2.1"/><circle cx="917.4" cy="214.9" r="2.1"/><circle cx="954.1" cy="180.1" r="2.1"/><circle cx="934.1" cy="149.1" r="2.1"/><circle cx="922.6" cy="203.1" r="2.1"/><circle cx="870.0" cy="170.8" r="2.1"/><circle cx="873.6" cy="190.9" r="2.1"/><circle cx="918.1" cy="179.2" r="2.1"/><circle cx="910.0" cy="288.6" r="2.1"/><circle cx="912.5" cy="244.2" r="2.1"/><circle cx="898.9" cy="296.7" r="2.1"/><circle cx="957.2" cy="208.2" r="2.1"/><circle cx="968.5" cy="189.7" r="2.1"/><circle cx="920.5" cy="287.4" r="2.1"/><circle cx="936.8" cy="210.7" r="2.1"/><circle cx="898.5" cy="232.2" r="2.1"/><circle cx="894.7" cy="289.0" r="2.1"/><circle cx="887.7" cy="189.9" r="2.1"/><circle cx="918.2" cy="173.7" r="2.1"/><circle cx="919.4" cy="175.8" r="2.1"/><circle cx="858.9" cy="177.4" r="2.1"/><circle cx="953.6" cy="210.8" r="2.1"/><circle cx="931.1" cy="248.8" r="2.1"/><circle cx="964.8" cy="267.3" r="2.1"/><circle cx="923.0" cy="277.8" r="2.1"/><circle cx="882.4" cy="167.7" r="2.1"/><circle cx="950.7" cy="234.9" r="2.1"/><circle cx="939.8" cy="191.8" r="2.1"/><circle cx="916.2" cy="264.4" r="2.1"/><circle cx="949.4" cy="181.7" r="2.1"/><circle cx="953.4" cy="166.1" r="2.1"/><circle cx="868.7" cy="227.3" r="2.1"/><circle cx="1028.0" cy="192.5" r="2.1"/><circle cx="962.8" cy="173.9" r="2.1"/><circle cx="865.0" cy="289.1" r="2.1"/><circle cx="869.7" cy="176.8" r="2.1"/><circle cx="981.7" cy="256.3" r="2.1"/><circle cx="956.0" cy="233.9" r="2.1"/><circle cx="941.1" cy="246.8" r="2.1"/><circle cx="939.6" cy="153.2" r="2.1"/><circle cx="915.9" cy="266.2" r="2.1"/><circle cx="898.7" cy="257.1" r="2.1"/><circle cx="980.1" cy="127.1" r="2.1"/><circle cx="920.1" cy="285.2" r="2.1"/><circle cx="893.8" cy="198.3" r="2.1"/><circle cx="924.6" cy="254.3" r="2.1"/><circle cx="876.5" cy="210.6" r="2.1"/><circle cx="870.9" cy="201.7" r="2.1"/><circle cx="900.2" cy="278.2" r="2.1"/><circle cx="849.4" cy="241.3" r="2.1"/><circle cx="912.9" cy="233.4" r="2.1"/><circle cx="906.8" cy="294.5" r="2.1"/><circle cx="858.3" cy="207.9" r="2.1"/><circle cx="964.1" cy="193.8" r="2.1"/><circle cx="895.3" cy="284.4" r="2.1"/><circle cx="888.5" cy="281.3" r="2.1"/><circle cx="925.4" cy="222.7" r="2.1"/><circle cx="928.7" cy="199.1" r="2.1"/><circle cx="936.6" cy="249.8" r="2.1"/><circle cx="942.8" cy="160.9" r="2.1"/><circle cx="961.2" cy="212.5" r="2.1"/><circle cx="911.9" cy="274.4" r="2.1"/><circle cx="917.0" cy="267.0" r="2.1"/><circle cx="979.8" cy="216.2" r="2.1"/><circle cx="884.6" cy="253.4" r="2.1"/><circle cx="859.0" cy="191.3" r="2.1"/><circle cx="904.3" cy="281.0" r="2.1"/><circle cx="948.1" cy="187.6" r="2.1"/><circle cx="863.1" cy="180.4" r="2.1"/><circle cx="932.7" cy="258.9" r="2.1"/><circle cx="878.3" cy="191.9" r="2.1"/><circle cx="963.3" cy="251.9" r="2.1"/><circle cx="933.6" cy="282.8" r="2.1"/><circle cx="968.4" cy="194.5" r="2.1"/><circle cx="894.8" cy="281.4" r="2.1"/><circle cx="952.5" cy="224.2" r="2.1"/><circle cx="896.9" cy="187.9" r="2.1"/><circle cx="919.1" cy="261.9" r="2.1"/><circle cx="880.2" cy="254.2" r="2.1"/><circle cx="860.5" cy="184.9" r="2.1"/><circle cx="951.7" cy="176.8" r="2.1"/><circle cx="918.4" cy="245.8" r="2.1"/><circle cx="886.2" cy="289.9" r="2.1"/><circle cx="904.5" cy="297.0" r="2.1"/><circle cx="941.1" cy="225.9" r="2.1"/><circle cx="944.9" cy="257.5" r="2.1"/><circle cx="973.6" cy="265.4" r="2.1"/><circle cx="954.3" cy="219.9" r="2.1"/><circle cx="912.8" cy="215.2" r="2.1"/><circle cx="948.1" cy="214.1" r="2.1"/><circle cx="952.5" cy="194.9" r="2.1"/><circle cx="877.5" cy="187.5" r="2.1"/><circle cx="955.3" cy="247.5" r="2.1"/><circle cx="961.2" cy="232.4" r="2.1"/><circle cx="876.1" cy="229.9" r="2.1"/><circle cx="906.3" cy="294.1" r="2.1"/><circle cx="938.6" cy="151.0" r="2.1"/><circle cx="948.8" cy="246.8" r="2.1"/><circle cx="908.8" cy="292.0" r="2.1"/><circle cx="931.1" cy="235.1" r="2.1"/><circle cx="968.3" cy="251.9" r="2.1"/><circle cx="852.4" cy="185.4" r="2.1"/><circle cx="911.9" cy="290.0" r="2.1"/><circle cx="890.4" cy="159.8" r="2.1"/><circle cx="960.6" cy="164.3" r="2.1"/><circle cx="963.6" cy="162.5" r="2.1"/><circle cx="907.1" cy="297.5" r="2.1"/><circle cx="905.7" cy="290.7" r="2.1"/><circle cx="950.4" cy="220.2" r="2.1"/><circle cx="940.4" cy="263.6" r="2.1"/><circle cx="964.0" cy="209.1" r="2.1"/><circle cx="938.2" cy="227.2" r="2.1"/><circle cx="908.6" cy="294.5" r="2.1"/><circle cx="876.1" cy="236.9" r="2.1"/><circle cx="955.7" cy="260.2" r="2.1"/><circle cx="979.0" cy="246.2" r="2.1"/><circle cx="950.1" cy="196.9" r="2.1"/><circle cx="864.2" cy="208.0" r="2.1"/><circle cx="908.0" cy="291.5" r="2.1"/><circle cx="940.5" cy="256.9" r="2.1"/><circle cx="876.3" cy="245.6" r="2.1"/><circle cx="893.2" cy="266.7" r="2.1"/><circle cx="934.2" cy="192.3" r="2.1"/><circle cx="855.9" cy="210.6" r="2.1"/><circle cx="894.6" cy="204.9" r="2.1"/><circle cx="876.4" cy="219.1" r="2.1"/><circle cx="895.3" cy="279.2" r="2.1"/><circle cx="945.4" cy="176.3" r="2.1"/><circle cx="955.3" cy="208.1" r="2.1"/><circle cx="880.0" cy="216.1" r="2.1"/><circle cx="918.6" cy="195.5" r="2.1"/><circle cx="895.1" cy="211.8" r="2.1"/><circle cx="904.6" cy="293.9" r="2.1"/><circle cx="955.6" cy="237.8" r="2.1"/><circle cx="955.8" cy="152.6" r="2.1"/><circle cx="933.2" cy="266.7" r="2.1"/><circle cx="908.5" cy="297.2" r="2.1"/><circle cx="866.7" cy="223.7" r="2.1"/><circle cx="934.9" cy="244.1" r="2.1"/><circle cx="929.3" cy="219.0" r="2.1"/><circle cx="986.4" cy="142.3" r="2.1"/><circle cx="904.5" cy="296.6" r="2.1"/><circle cx="944.6" cy="256.9" r="2.1"/><circle cx="971.8" cy="252.1" r="2.1"/><circle cx="867.7" cy="185.2" r="2.1"/><circle cx="875.3" cy="202.8" r="2.1"/><circle cx="953.0" cy="234.9" r="2.1"/><circle cx="989.2" cy="213.8" r="2.1"/><circle cx="882.1" cy="234.0" r="2.1"/><circle cx="881.1" cy="291.8" r="2.1"/><circle cx="863.7" cy="216.4" r="2.1"/><circle cx="976.0" cy="202.6" r="2.1"/><circle cx="971.9" cy="224.0" r="2.1"/><circle cx="905.6" cy="296.2" r="2.1"/><circle cx="968.3" cy="192.0" r="2.1"/><circle cx="947.2" cy="258.4" r="2.1"/><circle cx="880.1" cy="208.3" r="2.1"/><circle cx="918.8" cy="233.3" r="2.1"/><circle cx="933.2" cy="218.6" r="2.1"/><circle cx="965.5" cy="191.8" r="2.1"/><circle cx="905.0" cy="295.8" r="2.1"/><circle cx="907.0" cy="297.2" r="2.1"/><circle cx="867.3" cy="218.4" r="2.1"/><circle cx="911.7" cy="239.3" r="2.1"/><circle cx="980.6" cy="175.2" r="2.1"/><circle cx="976.9" cy="233.6" r="2.1"/><circle cx="917.1" cy="281.5" r="2.1"/><circle cx="914.0" cy="247.3" r="2.1"/><circle cx="920.1" cy="182.9" r="2.1"/><circle cx="860.6" cy="190.0" r="2.1"/><circle cx="958.3" cy="165.4" r="2.1"/><circle cx="938.4" cy="225.7" r="2.1"/><circle cx="856.8" cy="182.8" r="2.1"/><circle cx="923.7" cy="243.5" r="2.1"/><circle cx="895.3" cy="218.9" r="2.1"/><circle cx="860.5" cy="271.7" r="2.1"/><circle cx="866.7" cy="224.3" r="2.1"/><circle cx="940.0" cy="238.5" r="2.1"/><circle cx="953.6" cy="189.6" r="2.1"/><circle cx="954.8" cy="201.4" r="2.1"/><circle cx="897.1" cy="200.8" r="2.1"/><circle cx="862.8" cy="263.4" r="2.1"/><circle cx="957.8" cy="170.9" r="2.1"/><circle cx="948.5" cy="248.6" r="2.1"/><circle cx="931.0" cy="179.2" r="2.1"/><circle cx="953.1" cy="186.4" r="2.1"/><circle cx="886.0" cy="206.8" r="2.1"/><circle cx="952.5" cy="206.6" r="2.1"/><circle cx="918.8" cy="246.4" r="2.1"/><circle cx="943.0" cy="256.2" r="2.1"/><circle cx="946.4" cy="180.7" r="2.1"/><circle cx="990.7" cy="237.2" r="2.1"/><circle cx="969.2" cy="203.4" r="2.1"/><circle cx="932.2" cy="287.4" r="2.1"/><circle cx="935.6" cy="267.7" r="2.1"/><circle cx="947.9" cy="249.9" r="2.1"/><circle cx="907.5" cy="295.3" r="2.1"/><circle cx="941.5" cy="250.7" r="2.1"/><circle cx="908.1" cy="293.4" r="2.1"/><circle cx="845.5" cy="273.6" r="2.1"/><circle cx="895.0" cy="232.8" r="2.1"/><circle cx="957.6" cy="168.3" r="2.1"/><circle cx="946.0" cy="239.8" r="2.1"/><circle cx="876.5" cy="226.5" r="2.1"/><circle cx="948.6" cy="192.2" r="2.1"/><circle cx="933.5" cy="201.6" r="2.1"/><circle cx="932.0" cy="251.5" r="2.1"/><circle cx="976.3" cy="163.8" r="2.1"/><circle cx="926.0" cy="213.1" r="2.1"/><circle cx="982.0" cy="171.9" r="2.1"/><circle cx="962.1" cy="201.3" r="2.1"/><circle cx="942.7" cy="243.3" r="2.1"/><circle cx="875.2" cy="258.1" r="2.1"/><circle cx="904.5" cy="293.9" r="2.1"/><circle cx="952.0" cy="200.3" r="2.1"/><circle cx="895.9" cy="214.2" r="2.1"/><circle cx="907.2" cy="294.9" r="2.1"/><circle cx="928.8" cy="191.7" r="2.1"/><circle cx="897.3" cy="285.8" r="2.1"/><circle cx="915.3" cy="254.8" r="2.1"/><circle cx="906.6" cy="293.9" r="2.1"/><circle cx="888.8" cy="264.9" r="2.1"/><circle cx="957.6" cy="164.9" r="2.1"/><circle cx="925.0" cy="227.5" r="2.1"/><circle cx="976.7" cy="260.6" r="2.1"/><circle cx="954.8" cy="208.2" r="2.1"/><circle cx="1004.6" cy="213.4" r="2.1"/><circle cx="859.1" cy="275.4" r="2.1"/><circle cx="929.8" cy="140.1" r="2.1"/><circle cx="905.6" cy="296.9" r="2.1"/><circle cx="940.3" cy="160.6" r="2.1"/><circle cx="885.2" cy="191.9" r="2.1"/><circle cx="915.6" cy="179.0" r="2.1"/><circle cx="977.8" cy="194.0" r="2.1"/><circle cx="893.5" cy="212.7" r="2.1"/><circle cx="881.9" cy="190.5" r="2.1"/><circle cx="919.3" cy="224.3" r="2.1"/><circle cx="918.9" cy="286.3" r="2.1"/><circle cx="975.8" cy="213.4" r="2.1"/><circle cx="939.6" cy="262.1" r="2.1"/><circle cx="890.4" cy="280.3" r="2.1"/><circle cx="956.8" cy="190.6" r="2.1"/><circle cx="902.5" cy="244.3" r="2.1"/><circle cx="973.7" cy="204.2" r="2.1"/><circle cx="941.1" cy="197.6" r="2.1"/><circle cx="907.3" cy="297.4" r="2.1"/><circle cx="903.2" cy="296.6" r="2.1"/><circle cx="901.0" cy="254.3" r="2.1"/><circle cx="861.4" cy="251.9" r="2.1"/><circle cx="956.2" cy="190.9" r="2.1"/><circle cx="863.4" cy="191.6" r="2.1"/><circle cx="906.1" cy="295.4" r="2.1"/><circle cx="963.0" cy="236.4" r="2.1"/><circle cx="878.1" cy="220.9" r="2.1"/><circle cx="923.2" cy="214.1" r="2.1"/><circle cx="954.1" cy="207.5" r="2.1"/><circle cx="946.7" cy="235.8" r="2.1"/><circle cx="986.9" cy="191.6" r="2.1"/><circle cx="925.4" cy="272.4" r="2.1"/><circle cx="962.1" cy="242.7" r="2.1"/><circle cx="928.9" cy="160.8" r="2.1"/><circle cx="954.2" cy="165.8" r="2.1"/><circle cx="905.3" cy="296.7" r="2.1"/><circle cx="960.9" cy="267.1" r="2.1"/><circle cx="907.5" cy="295.7" r="2.1"/><circle cx="908.6" cy="291.1" r="2.1"/><circle cx="942.1" cy="252.9" r="2.1"/><circle cx="894.0" cy="294.4" r="2.1"/><circle cx="947.8" cy="173.8" r="2.1"/><circle cx="984.2" cy="218.9" r="2.1"/><circle cx="906.0" cy="296.9" r="2.1"/><circle cx="862.1" cy="177.2" r="2.1"/><circle cx="882.0" cy="289.4" r="2.1"/><circle cx="907.2" cy="294.5" r="2.1"/><circle cx="904.6" cy="294.8" r="2.1"/><circle cx="917.0" cy="293.2" r="2.1"/><circle cx="952.6" cy="193.4" r="2.1"/><circle cx="857.4" cy="205.6" r="2.1"/><circle cx="960.0" cy="170.5" r="2.1"/><circle cx="956.3" cy="254.7" r="2.1"/><circle cx="910.4" cy="294.6" r="2.1"/><circle cx="951.1" cy="249.1" r="2.1"/><circle cx="906.6" cy="295.0" r="2.1"/><circle cx="952.8" cy="246.5" r="2.1"/><circle cx="882.1" cy="229.2" r="2.1"/><circle cx="921.1" cy="178.2" r="2.1"/><circle cx="901.8" cy="231.4" r="2.1"/><circle cx="949.6" cy="237.7" r="2.1"/><circle cx="919.4" cy="155.3" r="2.1"/><circle cx="860.0" cy="236.6" r="2.1"/><circle cx="891.2" cy="293.3" r="2.1"/><circle cx="980.1" cy="214.3" r="2.1"/><circle cx="973.4" cy="167.4" r="2.1"/><circle cx="874.0" cy="226.2" r="2.1"/><circle cx="884.9" cy="199.0" r="2.1"/><circle cx="914.9" cy="280.8" r="2.1"/><circle cx="943.9" cy="245.1" r="2.1"/><circle cx="867.9" cy="261.4" r="2.1"/><circle cx="856.4" cy="262.5" r="2.1"/><circle cx="895.2" cy="195.2" r="2.1"/><circle cx="859.3" cy="239.5" r="2.1"/><circle cx="872.2" cy="275.0" r="2.1"/><circle cx="942.7" cy="123.9" r="2.1"/><circle cx="970.0" cy="195.5" r="2.1"/><circle cx="905.3" cy="286.3" r="2.1"/><circle cx="929.6" cy="266.3" r="2.1"/><circle cx="889.9" cy="169.5" r="2.1"/><circle cx="920.9" cy="203.5" r="2.1"/><circle cx="930.4" cy="231.0" r="2.1"/><circle cx="871.9" cy="193.2" r="2.1"/><circle cx="948.9" cy="157.2" r="2.1"/><circle cx="920.3" cy="282.1" r="2.1"/><circle cx="899.3" cy="247.0" r="2.1"/><circle cx="953.3" cy="222.2" r="2.1"/><circle cx="898.1" cy="297.0" r="2.1"/><circle cx="898.4" cy="191.8" r="2.1"/><circle cx="881.1" cy="179.0" r="2.1"/><circle cx="959.5" cy="205.5" r="2.1"/><circle cx="936.2" cy="207.3" r="2.1"/><circle cx="876.8" cy="184.1" r="2.1"/><circle cx="942.8" cy="184.1" r="2.1"/><circle cx="917.2" cy="195.0" r="2.1"/><circle cx="955.2" cy="221.2" r="2.1"/><circle cx="854.5" cy="238.5" r="2.1"/><circle cx="917.5" cy="293.1" r="2.1"/><circle cx="952.9" cy="207.3" r="2.1"/><circle cx="921.4" cy="254.0" r="2.1"/><circle cx="914.0" cy="174.3" r="2.1"/><circle cx="883.4" cy="281.4" r="2.1"/><circle cx="920.2" cy="175.6" r="2.1"/><circle cx="915.5" cy="278.0" r="2.1"/><circle cx="896.8" cy="186.3" r="2.1"/><circle cx="912.4" cy="215.3" r="2.1"/><circle cx="859.0" cy="256.8" r="2.1"/><circle cx="937.9" cy="155.9" r="2.1"/><circle cx="866.2" cy="218.5" r="2.1"/><circle cx="913.1" cy="290.4" r="2.1"/><circle cx="886.0" cy="293.1" r="2.1"/><circle cx="931.7" cy="207.8" r="2.1"/><circle cx="905.4" cy="296.4" r="2.1"/><circle cx="905.4" cy="296.0" r="2.1"/><circle cx="921.9" cy="214.4" r="2.1"/><circle cx="895.6" cy="291.0" r="2.1"/><circle cx="885.4" cy="257.6" r="2.1"/><circle cx="935.4" cy="224.4" r="2.1"/><circle cx="952.4" cy="200.2" r="2.1"/><circle cx="909.3" cy="294.9" r="2.1"/><circle cx="866.7" cy="258.2" r="2.1"/><circle cx="906.8" cy="290.2" r="2.1"/><circle cx="919.2" cy="287.0" r="2.1"/><circle cx="951.1" cy="225.5" r="2.1"/><circle cx="917.1" cy="206.4" r="2.1"/><circle cx="933.2" cy="178.9" r="2.1"/><circle cx="937.3" cy="225.8" r="2.1"/><circle cx="873.0" cy="214.1" r="2.1"/><circle cx="905.9" cy="293.4" r="2.1"/><circle cx="940.6" cy="166.3" r="2.1"/><circle cx="989.5" cy="203.2" r="2.1"/><circle cx="938.8" cy="202.9" r="2.1"/><circle cx="866.7" cy="266.7" r="2.1"/><circle cx="948.9" cy="156.8" r="2.1"/><circle cx="922.3" cy="296.7" r="2.1"/><circle cx="927.3" cy="286.4" r="2.1"/><circle cx="905.0" cy="295.2" r="2.1"/><circle cx="883.5" cy="289.1" r="2.1"/><circle cx="905.1" cy="294.2" r="2.1"/><circle cx="938.8" cy="226.9" r="2.1"/><circle cx="905.7" cy="290.5" r="2.1"/><circle cx="852.4" cy="230.6" r="2.1"/><circle cx="918.2" cy="220.8" r="2.1"/><circle cx="898.9" cy="220.7" r="2.1"/><circle cx="937.0" cy="259.0" r="2.1"/><circle cx="915.2" cy="204.4" r="2.1"/><circle cx="937.2" cy="194.6" r="2.1"/><circle cx="879.3" cy="171.4" r="2.1"/><circle cx="947.8" cy="187.0" r="2.1"/><circle cx="959.9" cy="186.7" r="2.1"/><circle cx="862.3" cy="256.8" r="2.1"/><circle cx="915.6" cy="174.6" r="2.1"/><circle cx="898.8" cy="296.2" r="2.1"/><circle cx="899.6" cy="257.2" r="2.1"/><circle cx="958.3" cy="180.0" r="2.1"/><circle cx="962.1" cy="224.5" r="2.1"/><circle cx="928.8" cy="164.8" r="2.1"/><circle cx="976.5" cy="254.1" r="2.1"/><circle cx="905.9" cy="295.8" r="2.1"/><circle cx="957.7" cy="181.3" r="2.1"/><circle cx="936.1" cy="202.4" r="2.1"/><circle cx="956.6" cy="243.0" r="2.1"/><circle cx="910.3" cy="295.1" r="2.1"/><circle cx="959.6" cy="207.5" r="2.1"/><circle cx="952.4" cy="226.4" r="2.1"/><circle cx="919.7" cy="257.6" r="2.1"/><circle cx="941.3" cy="198.5" r="2.1"/><circle cx="876.6" cy="194.2" r="2.1"/><circle cx="938.5" cy="191.0" r="2.1"/><circle cx="941.4" cy="271.0" r="2.1"/><circle cx="912.7" cy="274.3" r="2.1"/><circle cx="906.3" cy="291.6" r="2.1"/><circle cx="925.1" cy="267.0" r="2.1"/><circle cx="978.2" cy="238.8" r="2.1"/><circle cx="963.0" cy="191.3" r="2.1"/><circle cx="981.2" cy="206.6" r="2.1"/><circle cx="924.8" cy="252.4" r="2.1"/><circle cx="935.0" cy="190.2" r="2.1"/><circle cx="865.5" cy="195.0" r="2.1"/><circle cx="908.4" cy="297.5" r="2.1"/><circle cx="914.1" cy="193.4" r="2.1"/><circle cx="902.2" cy="241.4" r="2.1"/><circle cx="906.0" cy="295.3" r="2.1"/><circle cx="897.2" cy="173.0" r="2.1"/><circle cx="905.5" cy="296.3" r="2.1"/><circle cx="905.5" cy="297.1" r="2.1"/><circle cx="982.0" cy="231.0" r="2.1"/><circle cx="923.6" cy="211.9" r="2.1"/><circle cx="965.9" cy="185.4" r="2.1"/><circle cx="928.5" cy="195.5" r="2.1"/><circle cx="875.3" cy="213.8" r="2.1"/><circle cx="961.2" cy="173.9" r="2.1"/><circle cx="905.6" cy="293.6" r="2.1"/><circle cx="943.5" cy="176.9" r="2.1"/><circle cx="872.9" cy="190.8" r="2.1"/><circle cx="966.2" cy="226.5" r="2.1"/><circle cx="925.9" cy="180.7" r="2.1"/><circle cx="913.5" cy="258.1" r="2.1"/><circle cx="934.7" cy="179.6" r="2.1"/><circle cx="914.2" cy="287.5" r="2.1"/><circle cx="973.6" cy="205.4" r="2.1"/><circle cx="864.2" cy="201.4" r="2.1"/><circle cx="952.2" cy="177.2" r="2.1"/><circle cx="948.4" cy="202.7" r="2.1"/><circle cx="952.3" cy="189.8" r="2.1"/><circle cx="847.8" cy="220.8" r="2.1"/><circle cx="887.8" cy="183.0" r="2.1"/><circle cx="933.2" cy="192.2" r="2.1"/><circle cx="912.4" cy="256.1" r="2.1"/><circle cx="911.8" cy="289.5" r="2.1"/><circle cx="875.5" cy="274.5" r="2.1"/><circle cx="974.1" cy="255.6" r="2.1"/><circle cx="854.3" cy="208.3" r="2.1"/><circle cx="854.1" cy="212.3" r="2.1"/><circle cx="949.0" cy="239.5" r="2.1"/><circle cx="944.0" cy="154.4" r="2.1"/><circle cx="923.6" cy="264.9" r="2.1"/><circle cx="922.8" cy="223.4" r="2.1"/><circle cx="893.2" cy="161.7" r="2.1"/><circle cx="869.2" cy="185.9" r="2.1"/><circle cx="905.0" cy="297.4" r="2.1"/><circle cx="944.6" cy="170.6" r="2.1"/><circle cx="936.4" cy="225.6" r="2.1"/><circle cx="916.8" cy="269.6" r="2.1"/><circle cx="893.9" cy="222.6" r="2.1"/><circle cx="970.9" cy="262.9" r="2.1"/><circle cx="918.3" cy="223.1" r="2.1"/><circle cx="859.4" cy="212.2" r="2.1"/><circle cx="913.6" cy="228.9" r="2.1"/><circle cx="918.4" cy="158.6" r="2.1"/><circle cx="944.6" cy="216.0" r="2.1"/><circle cx="917.4" cy="286.0" r="2.1"/><circle cx="974.8" cy="125.3" r="2.1"/><circle cx="897.7" cy="195.3" r="2.1"/><circle cx="882.5" cy="256.1" r="2.1"/><circle cx="908.4" cy="292.3" r="2.1"/><circle cx="919.3" cy="236.0" r="2.1"/><circle cx="894.7" cy="274.2" r="2.1"/><circle cx="916.9" cy="263.5" r="2.1"/><circle cx="876.9" cy="215.7" r="2.1"/><circle cx="984.9" cy="183.9" r="2.1"/><circle cx="903.2" cy="288.7" r="2.1"/><circle cx="978.7" cy="215.5" r="2.1"/><circle cx="902.4" cy="271.0" r="2.1"/><circle cx="909.6" cy="273.9" r="2.1"/><circle cx="908.5" cy="292.4" r="2.1"/><circle cx="908.2" cy="294.1" r="2.1"/><circle cx="951.4" cy="243.0" r="2.1"/><circle cx="941.5" cy="184.9" r="2.1"/><circle cx="924.6" cy="222.7" r="2.1"/><circle cx="977.8" cy="230.3" r="2.1"/><circle cx="950.3" cy="215.3" r="2.1"/><circle cx="882.0" cy="250.0" r="2.1"/><circle cx="863.4" cy="224.3" r="2.1"/><circle cx="929.0" cy="220.0" r="2.1"/><circle cx="870.2" cy="220.9" r="2.1"/><circle cx="860.9" cy="216.5" r="2.1"/><circle cx="896.6" cy="187.8" r="2.1"/><circle cx="918.2" cy="271.7" r="2.1"/><circle cx="879.9" cy="274.4" r="2.1"/><circle cx="884.3" cy="241.1" r="2.1"/><circle cx="991.4" cy="244.5" r="2.1"/><circle cx="955.5" cy="182.9" r="2.1"/><circle cx="905.0" cy="293.3" r="2.1"/><circle cx="846.5" cy="277.6" r="2.1"/><circle cx="1003.7" cy="188.9" r="2.1"/><circle cx="872.5" cy="204.7" r="2.1"/><circle cx="862.3" cy="255.5" r="2.1"/><circle cx="896.1" cy="173.2" r="2.1"/><circle cx="904.9" cy="294.3" r="2.1"/><circle cx="936.4" cy="266.4" r="2.1"/><circle cx="859.6" cy="244.7" r="2.1"/><circle cx="954.6" cy="180.6" r="2.1"/><circle cx="951.5" cy="182.6" r="2.1"/><circle cx="945.1" cy="282.2" r="2.1"/><circle cx="960.6" cy="176.3" r="2.1"/><circle cx="918.3" cy="291.1" r="2.1"/><circle cx="969.7" cy="190.9" r="2.1"/><circle cx="893.6" cy="284.5" r="2.1"/><circle cx="947.9" cy="226.5" r="2.1"/><circle cx="893.9" cy="297.6" r="2.1"/><circle cx="904.0" cy="291.7" r="2.1"/><circle cx="894.6" cy="176.8" r="2.1"/><circle cx="906.6" cy="296.4" r="2.1"/><circle cx="947.6" cy="245.6" r="2.1"/><circle cx="976.1" cy="223.1" r="2.1"/><circle cx="965.5" cy="186.2" r="2.1"/><circle cx="950.7" cy="162.0" r="2.1"/><circle cx="958.4" cy="272.8" r="2.1"/><circle cx="856.1" cy="191.5" r="2.1"/><circle cx="861.4" cy="189.4" r="2.1"/><circle cx="851.5" cy="206.8" r="2.1"/><circle cx="906.8" cy="295.9" r="2.1"/><circle cx="937.2" cy="241.5" r="2.1"/><circle cx="905.7" cy="296.5" r="2.1"/><circle cx="907.4" cy="297.2" r="2.1"/><circle cx="907.3" cy="297.0" r="2.1"/><circle cx="934.5" cy="214.6" r="2.1"/><circle cx="878.3" cy="171.0" r="2.1"/><circle cx="880.2" cy="198.7" r="2.1"/><circle cx="956.4" cy="227.7" r="2.1"/><circle cx="963.3" cy="170.7" r="2.1"/><circle cx="972.8" cy="267.0" r="2.1"/><circle cx="954.4" cy="185.1" r="2.1"/><circle cx="903.8" cy="290.6" r="2.1"/><circle cx="890.7" cy="201.5" r="2.1"/><circle cx="925.5" cy="269.7" r="2.1"/><circle cx="899.4" cy="166.6" r="2.1"/><circle cx="922.0" cy="227.7" r="2.1"/><circle cx="969.8" cy="219.8" r="2.1"/><circle cx="871.9" cy="245.9" r="2.1"/><circle cx="878.4" cy="248.5" r="2.1"/><circle cx="873.6" cy="181.3" r="2.1"/><circle cx="872.7" cy="243.7" r="2.1"/><circle cx="894.2" cy="272.4" r="2.1"/><circle cx="904.6" cy="293.5" r="2.1"/><circle cx="976.5" cy="244.0" r="2.1"/><circle cx="974.2" cy="186.9" r="2.1"/><circle cx="974.3" cy="236.9" r="2.1"/><circle cx="963.5" cy="250.3" r="2.1"/><circle cx="912.5" cy="267.1" r="2.1"/><circle cx="978.4" cy="214.0" r="2.1"/><circle cx="971.7" cy="199.8" r="2.1"/><circle cx="925.0" cy="206.9" r="2.1"/><circle cx="897.3" cy="218.0" r="2.1"/><circle cx="950.6" cy="222.8" r="2.1"/><circle cx="894.2" cy="229.9" r="2.1"/><circle cx="948.4" cy="257.6" r="2.1"/><circle cx="872.7" cy="241.6" r="2.1"/><circle cx="932.7" cy="284.9" r="2.1"/><circle cx="891.5" cy="281.9" r="2.1"/><circle cx="956.1" cy="250.8" r="2.1"/><circle cx="884.0" cy="264.8" r="2.1"/><circle cx="873.0" cy="175.6" r="2.1"/><circle cx="949.1" cy="239.4" r="2.1"/><circle cx="908.0" cy="291.0" r="2.1"/><circle cx="885.0" cy="281.3" r="2.1"/><circle cx="955.5" cy="189.8" r="2.1"/><circle cx="946.6" cy="180.4" r="2.1"/><circle cx="967.0" cy="222.9" r="2.1"/><circle cx="949.4" cy="219.4" r="2.1"/><circle cx="965.0" cy="178.3" r="2.1"/><circle cx="846.3" cy="218.1" r="2.1"/><circle cx="914.6" cy="193.3" r="2.1"/><circle cx="917.5" cy="294.2" r="2.1"/><circle cx="871.8" cy="250.8" r="2.1"/><circle cx="911.0" cy="257.1" r="2.1"/><circle cx="927.8" cy="201.5" r="2.1"/><circle cx="869.1" cy="171.6" r="2.1"/><circle cx="904.8" cy="294.0" r="2.1"/><circle cx="865.9" cy="256.0" r="2.1"/><circle cx="895.3" cy="259.7" r="2.1"/><circle cx="856.2" cy="195.8" r="2.1"/><circle cx="932.1" cy="172.1" r="2.1"/><circle cx="875.3" cy="207.9" r="2.1"/><circle cx="959.6" cy="234.3" r="2.1"/><circle cx="949.5" cy="214.2" r="2.1"/><circle cx="930.4" cy="203.7" r="2.1"/><circle cx="947.3" cy="182.0" r="2.1"/><circle cx="957.9" cy="169.0" r="2.1"/><circle cx="947.2" cy="180.3" r="2.1"/><circle cx="954.4" cy="229.2" r="2.1"/><circle cx="897.1" cy="261.9" r="2.1"/><circle cx="874.3" cy="209.6" r="2.1"/><circle cx="868.6" cy="273.6" r="2.1"/><circle cx="850.7" cy="216.3" r="2.1"/><circle cx="915.5" cy="214.8" r="2.1"/><circle cx="885.5" cy="210.6" r="2.1"/><circle cx="862.0" cy="255.2" r="2.1"/><circle cx="954.1" cy="227.6" r="2.1"/><circle cx="984.8" cy="221.9" r="2.1"/><circle cx="920.0" cy="198.3" r="2.1"/><circle cx="888.0" cy="271.2" r="2.1"/><circle cx="939.8" cy="166.1" r="2.1"/><circle cx="978.3" cy="216.5" r="2.1"/><circle cx="926.3" cy="170.3" r="2.1"/><circle cx="954.5" cy="229.4" r="2.1"/><circle cx="956.0" cy="170.0" r="2.1"/><circle cx="925.5" cy="184.8" r="2.1"/><circle cx="977.2" cy="127.1" r="2.1"/><circle cx="900.1" cy="226.0" r="2.1"/><circle cx="956.2" cy="247.1" r="2.1"/><circle cx="904.5" cy="294.0" r="2.1"/><circle cx="923.0" cy="166.1" r="2.1"/><circle cx="943.5" cy="214.5" r="2.1"/><circle cx="913.1" cy="241.5" r="2.1"/><circle cx="964.1" cy="169.0" r="2.1"/><circle cx="861.9" cy="206.7" r="2.1"/><circle cx="938.3" cy="185.0" r="2.1"/><circle cx="896.1" cy="156.7" r="2.1"/><circle cx="979.4" cy="200.2" r="2.1"/><circle cx="945.2" cy="216.0" r="2.1"/><circle cx="954.0" cy="165.3" r="2.1"/><circle cx="860.1" cy="256.5" r="2.1"/><circle cx="919.8" cy="190.3" r="2.1"/><circle cx="864.0" cy="207.9" r="2.1"/><circle cx="968.9" cy="229.2" r="2.1"/><circle cx="926.6" cy="186.0" r="2.1"/><circle cx="915.0" cy="291.2" r="2.1"/><circle cx="926.9" cy="174.6" r="2.1"/><circle cx="899.5" cy="209.6" r="2.1"/><circle cx="937.4" cy="267.0" r="2.1"/><circle cx="923.3" cy="278.6" r="2.1"/><circle cx="937.4" cy="187.0" r="2.1"/><circle cx="936.8" cy="180.8" r="2.1"/><circle cx="905.1" cy="296.8" r="2.1"/><circle cx="852.4" cy="247.2" r="2.1"/><circle cx="930.0" cy="256.3" r="2.1"/><circle cx="981.4" cy="231.0" r="2.1"/><circle cx="945.6" cy="178.3" r="2.1"/><circle cx="877.9" cy="252.5" r="2.1"/><circle cx="891.8" cy="166.5" r="2.1"/><circle cx="882.9" cy="281.8" r="2.1"/><circle cx="888.6" cy="248.9" r="2.1"/><circle cx="889.9" cy="286.4" r="2.1"/><circle cx="883.0" cy="233.5" r="2.1"/><circle cx="945.7" cy="224.0" r="2.1"/><circle cx="968.7" cy="208.9" r="2.1"/><circle cx="856.8" cy="203.7" r="2.1"/><circle cx="879.0" cy="291.3" r="2.1"/><circle cx="906.4" cy="296.9" r="2.1"/><circle cx="889.9" cy="291.8" r="2.1"/><circle cx="945.8" cy="171.9" r="2.1"/><circle cx="895.7" cy="288.9" r="2.1"/><circle cx="909.3" cy="284.6" r="2.1"/><circle cx="907.8" cy="296.6" r="2.1"/><circle cx="948.7" cy="230.0" r="2.1"/><circle cx="943.0" cy="195.8" r="2.1"/><circle cx="907.6" cy="294.8" r="2.1"/><circle cx="885.5" cy="277.2" r="2.1"/><circle cx="926.6" cy="260.3" r="2.1"/><circle cx="937.3" cy="232.7" r="2.1"/><circle cx="911.8" cy="264.3" r="2.1"/><circle cx="882.1" cy="166.9" r="2.1"/><circle cx="928.7" cy="280.6" r="2.1"/><circle cx="879.3" cy="183.4" r="2.1"/><circle cx="881.0" cy="243.0" r="2.1"/><circle cx="915.8" cy="278.9" r="2.1"/><circle cx="875.0" cy="259.1" r="2.1"/><circle cx="907.3" cy="294.9" r="2.1"/><circle cx="940.5" cy="152.3" r="2.1"/><circle cx="865.9" cy="213.4" r="2.1"/><circle cx="907.0" cy="297.2" r="2.1"/><circle cx="920.5" cy="285.7" r="2.1"/><circle cx="951.9" cy="239.5" r="2.1"/><circle cx="875.4" cy="288.2" r="2.1"/><circle cx="951.5" cy="271.3" r="2.1"/><circle cx="904.7" cy="297.1" r="2.1"/><circle cx="846.5" cy="193.5" r="2.1"/><circle cx="940.7" cy="211.7" r="2.1"/><circle cx="921.3" cy="191.9" r="2.1"/><circle cx="909.0" cy="275.5" r="2.1"/><circle cx="964.9" cy="202.0" r="2.1"/><circle cx="859.3" cy="225.8" r="2.1"/><circle cx="856.3" cy="198.8" r="2.1"/><circle cx="865.5" cy="264.5" r="2.1"/><circle cx="917.4" cy="262.0" r="2.1"/><circle cx="922.3" cy="181.7" r="2.1"/><circle cx="945.3" cy="275.0" r="2.1"/><circle cx="963.0" cy="183.1" r="2.1"/><circle cx="939.8" cy="198.1" r="2.1"/><circle cx="912.4" cy="235.8" r="2.1"/><circle cx="848.8" cy="257.0" r="2.1"/><circle cx="891.7" cy="276.3" r="2.1"/><circle cx="907.5" cy="296.0" r="2.1"/><circle cx="886.5" cy="242.0" r="2.1"/><circle cx="929.0" cy="272.4" r="2.1"/><circle cx="863.1" cy="217.0" r="2.1"/><circle cx="934.1" cy="242.6" r="2.1"/><circle cx="968.7" cy="200.0" r="2.1"/><circle cx="934.9" cy="167.6" r="2.1"/><circle cx="863.6" cy="263.7" r="2.1"/><circle cx="905.8" cy="296.1" r="2.1"/><circle cx="865.9" cy="266.9" r="2.1"/><circle cx="967.1" cy="244.6" r="2.1"/><circle cx="960.1" cy="197.9" r="2.1"/><circle cx="865.6" cy="233.0" r="2.1"/><circle cx="907.9" cy="296.3" r="2.1"/><circle cx="959.5" cy="197.1" r="2.1"/><circle cx="884.1" cy="189.0" r="2.1"/><circle cx="969.3" cy="186.8" r="2.1"/><circle cx="949.5" cy="242.7" r="2.1"/><circle cx="942.1" cy="223.5" r="2.1"/><circle cx="972.9" cy="241.5" r="2.1"/><circle cx="918.2" cy="287.1" r="2.1"/><circle cx="898.9" cy="163.0" r="2.1"/><circle cx="977.4" cy="171.9" r="2.1"/><circle cx="968.5" cy="243.3" r="2.1"/><circle cx="959.0" cy="254.2" r="2.1"/><circle cx="943.2" cy="166.2" r="2.1"/><circle cx="891.6" cy="274.5" r="2.1"/><circle cx="950.0" cy="226.6" r="2.1"/><circle cx="958.5" cy="208.8" r="2.1"/><circle cx="907.0" cy="297.6" r="2.1"/><circle cx="936.9" cy="184.8" r="2.1"/><circle cx="959.6" cy="188.0" r="2.1"/><circle cx="963.1" cy="220.8" r="2.1"/><circle cx="964.7" cy="180.0" r="2.1"/><circle cx="946.4" cy="263.9" r="2.1"/><circle cx="882.1" cy="199.4" r="2.1"/><circle cx="871.7" cy="253.1" r="2.1"/><circle cx="868.2" cy="182.5" r="2.1"/><circle cx="905.3" cy="293.0" r="2.1"/><circle cx="918.1" cy="180.2" r="2.1"/><circle cx="923.8" cy="259.5" r="2.1"/><circle cx="950.9" cy="178.3" r="2.1"/><circle cx="911.9" cy="262.5" r="2.1"/><circle cx="982.7" cy="240.7" r="2.1"/><circle cx="854.4" cy="236.0" r="2.1"/><circle cx="940.1" cy="164.3" r="2.1"/><circle cx="953.4" cy="183.3" r="2.1"/><circle cx="947.2" cy="213.6" r="2.1"/><circle cx="964.7" cy="237.0" r="2.1"/><circle cx="885.3" cy="190.4" r="2.1"/><circle cx="912.7" cy="209.2" r="2.1"/><circle cx="914.8" cy="263.5" r="2.1"/><circle cx="856.1" cy="210.8" r="2.1"/><circle cx="862.1" cy="258.6" r="2.1"/><circle cx="952.1" cy="236.0" r="2.1"/><circle cx="960.5" cy="201.5" r="2.1"/><circle cx="886.1" cy="219.7" r="2.1"/><circle cx="965.3" cy="265.0" r="2.1"/><circle cx="858.6" cy="212.9" r="2.1"/><circle cx="881.0" cy="202.2" r="2.1"/><circle cx="862.0" cy="277.0" r="2.1"/><circle cx="909.4" cy="297.3" r="2.1"/><circle cx="865.7" cy="225.9" r="2.1"/><circle cx="924.9" cy="221.8" r="2.1"/><circle cx="949.5" cy="267.0" r="2.1"/><circle cx="904.2" cy="292.7" r="2.1"/><circle cx="899.0" cy="241.9" r="2.1"/><circle cx="935.0" cy="265.2" r="2.1"/><circle cx="878.3" cy="185.1" r="2.1"/><circle cx="862.6" cy="254.7" r="2.1"/><circle cx="929.3" cy="262.7" r="2.1"/><circle cx="891.9" cy="178.0" r="2.1"/><circle cx="980.1" cy="178.6" r="2.1"/><circle cx="942.1" cy="194.1" r="2.1"/><circle cx="954.5" cy="243.3" r="2.1"/><circle cx="952.1" cy="177.3" r="2.1"/><circle cx="883.8" cy="233.5" r="2.1"/><circle cx="914.1" cy="213.9" r="2.1"/><circle cx="854.7" cy="199.8" r="2.1"/><circle cx="878.5" cy="264.7" r="2.1"/><circle cx="882.7" cy="206.9" r="2.1"/><circle cx="936.3" cy="201.1" r="2.1"/><circle cx="889.1" cy="265.3" r="2.1"/><circle cx="904.7" cy="291.8" r="2.1"/><circle cx="985.1" cy="185.5" r="2.1"/><circle cx="966.0" cy="216.3" r="2.1"/><circle cx="949.6" cy="157.4" r="2.1"/><circle cx="907.5" cy="297.3" r="2.1"/><circle cx="906.7" cy="297.5" r="2.1"/><circle cx="887.3" cy="177.3" r="2.1"/><circle cx="954.4" cy="218.6" r="2.1"/><circle cx="886.1" cy="292.5" r="2.1"/><circle cx="944.8" cy="178.5" r="2.1"/><circle cx="888.9" cy="260.0" r="2.1"/><circle cx="968.4" cy="186.4" r="2.1"/><circle cx="905.4" cy="293.1" r="2.1"/><circle cx="877.1" cy="239.0" r="2.1"/><circle cx="931.0" cy="212.0" r="2.1"/><circle cx="959.1" cy="194.7" r="2.1"/><circle cx="943.6" cy="205.3" r="2.1"/><circle cx="983.6" cy="229.2" r="2.1"/><circle cx="956.1" cy="210.2" r="2.1"/><circle cx="911.0" cy="243.2" r="2.1"/><circle cx="911.6" cy="292.0" r="2.1"/><circle cx="934.1" cy="240.2" r="2.1"/><circle cx="948.3" cy="135.8" r="2.1"/><circle cx="933.8" cy="275.8" r="2.1"/><circle cx="886.5" cy="264.3" r="2.1"/><circle cx="964.4" cy="247.3" r="2.1"/><circle cx="879.7" cy="249.5" r="2.1"/><circle cx="921.5" cy="219.2" r="2.1"/><circle cx="915.4" cy="221.9" r="2.1"/><circle cx="883.9" cy="280.5" r="2.1"/><circle cx="942.2" cy="189.6" r="2.1"/><circle cx="934.0" cy="170.5" r="2.1"/><circle cx="950.0" cy="223.0" r="2.1"/><circle cx="893.9" cy="267.7" r="2.1"/><circle cx="909.4" cy="291.7" r="2.1"/><circle cx="924.0" cy="160.6" r="2.1"/><circle cx="982.2" cy="204.2" r="2.1"/><circle cx="841.2" cy="161.5" r="2.1"/><circle cx="963.6" cy="252.0" r="2.1"/><circle cx="951.7" cy="158.4" r="2.1"/><circle cx="889.0" cy="258.6" r="2.1"/><circle cx="949.3" cy="217.9" r="2.1"/><circle cx="950.8" cy="195.6" r="2.1"/><circle cx="932.1" cy="229.2" r="2.1"/><circle cx="934.5" cy="224.5" r="2.1"/><circle cx="898.2" cy="240.8" r="2.1"/><circle cx="931.6" cy="239.7" r="2.1"/><circle cx="903.9" cy="296.1" r="2.1"/><circle cx="953.2" cy="164.1" r="2.1"/><circle cx="923.7" cy="275.4" r="2.1"/><circle cx="941.5" cy="201.8" r="2.1"/><circle cx="949.8" cy="157.9" r="2.1"/><circle cx="897.9" cy="210.8" r="2.1"/><circle cx="960.7" cy="207.0" r="2.1"/><circle cx="877.7" cy="211.6" r="2.1"/><circle cx="954.3" cy="193.3" r="2.1"/><circle cx="900.0" cy="233.9" r="2.1"/><circle cx="927.4" cy="225.0" r="2.1"/><circle cx="916.0" cy="172.1" r="2.1"/><circle cx="946.5" cy="269.0" r="2.1"/><circle cx="911.3" cy="245.2" r="2.1"/><circle cx="974.4" cy="258.9" r="2.1"/><circle cx="931.6" cy="228.6" r="2.1"/><circle cx="951.5" cy="168.2" r="2.1"/><circle cx="898.9" cy="161.1" r="2.1"/><circle cx="942.2" cy="219.3" r="2.1"/><circle cx="912.7" cy="279.5" r="2.1"/><circle cx="913.2" cy="198.5" r="2.1"/><circle cx="893.1" cy="284.7" r="2.1"/><circle cx="907.2" cy="297.1" r="2.1"/><circle cx="908.3" cy="294.8" r="2.1"/><circle cx="984.5" cy="125.6" r="2.1"/><circle cx="911.8" cy="293.3" r="2.1"/><circle cx="948.1" cy="238.2" r="2.1"/><circle cx="863.3" cy="284.4" r="2.1"/><circle cx="909.4" cy="264.3" r="2.1"/><circle cx="906.9" cy="294.2" r="2.1"/><circle cx="965.1" cy="235.0" r="2.1"/><circle cx="899.2" cy="221.7" r="2.1"/><circle cx="895.5" cy="261.5" r="2.1"/><circle cx="953.9" cy="249.4" r="2.1"/><circle cx="923.0" cy="229.6" r="2.1"/><circle cx="938.2" cy="235.4" r="2.1"/><circle cx="979.2" cy="190.6" r="2.1"/><circle cx="890.1" cy="168.5" r="2.1"/><circle cx="918.5" cy="204.0" r="2.1"/><circle cx="950.6" cy="219.0" r="2.1"/><circle cx="959.6" cy="163.3" r="2.1"/><circle cx="874.0" cy="253.0" r="2.1"/><circle cx="992.4" cy="169.0" r="2.1"/><circle cx="923.4" cy="253.8" r="2.1"/><circle cx="906.1" cy="294.8" r="2.1"/><circle cx="917.8" cy="255.4" r="2.1"/><circle cx="865.3" cy="212.5" r="2.1"/><circle cx="904.0" cy="293.4" r="2.1"/><circle cx="947.8" cy="249.5" r="2.1"/><circle cx="906.0" cy="297.6" r="2.1"/><circle cx="936.4" cy="223.0" r="2.1"/><circle cx="955.4" cy="231.5" r="2.1"/><circle cx="913.2" cy="258.3" r="2.1"/><circle cx="956.4" cy="213.4" r="2.1"/><circle cx="932.4" cy="290.2" r="2.1"/><circle cx="926.4" cy="185.8" r="2.1"/><circle cx="883.3" cy="255.8" r="2.1"/><circle cx="877.4" cy="254.2" r="2.1"/><circle cx="958.9" cy="233.1" r="2.1"/><circle cx="906.4" cy="295.8" r="2.1"/><circle cx="909.5" cy="294.8" r="2.1"/><circle cx="983.8" cy="200.7" r="2.1"/><circle cx="907.2" cy="297.2" r="2.1"/><circle cx="949.6" cy="205.0" r="2.1"/><circle cx="927.2" cy="199.8" r="2.1"/><circle cx="965.7" cy="160.5" r="2.1"/><circle cx="924.0" cy="258.8" r="2.1"/><circle cx="902.1" cy="294.1" r="2.1"/><circle cx="858.8" cy="222.8" r="2.1"/><circle cx="920.3" cy="253.2" r="2.1"/><circle cx="923.4" cy="239.8" r="2.1"/><circle cx="957.0" cy="229.8" r="2.1"/><circle cx="876.3" cy="224.8" r="2.1"/><circle cx="884.4" cy="267.3" r="2.1"/><circle cx="859.5" cy="167.6" r="2.1"/><circle cx="939.1" cy="259.6" r="2.1"/><circle cx="957.1" cy="196.8" r="2.1"/><circle cx="944.6" cy="177.3" r="2.1"/><circle cx="878.7" cy="239.3" r="2.1"/><circle cx="972.0" cy="183.9" r="2.1"/><circle cx="917.8" cy="295.4" r="2.1"/><circle cx="909.5" cy="296.4" r="2.1"/><circle cx="898.2" cy="293.2" r="2.1"/><circle cx="863.5" cy="238.6" r="2.1"/><circle cx="871.6" cy="179.2" r="2.1"/><circle cx="858.2" cy="266.4" r="2.1"/><circle cx="875.1" cy="206.8" r="2.1"/><circle cx="917.0" cy="184.8" r="2.1"/><circle cx="954.1" cy="258.1" r="2.1"/><circle cx="963.3" cy="216.6" r="2.1"/><circle cx="910.9" cy="286.2" r="2.1"/><circle cx="876.7" cy="211.0" r="2.1"/><circle cx="890.5" cy="171.3" r="2.1"/><circle cx="950.0" cy="269.4" r="2.1"/><circle cx="962.4" cy="180.7" r="2.1"/><circle cx="868.3" cy="257.2" r="2.1"/><circle cx="940.7" cy="189.6" r="2.1"/><circle cx="895.2" cy="172.9" r="2.1"/><circle cx="904.9" cy="296.3" r="2.1"/><circle cx="906.1" cy="296.9" r="2.1"/><circle cx="935.8" cy="242.3" r="2.1"/><circle cx="883.8" cy="175.7" r="2.1"/><circle cx="882.8" cy="191.2" r="2.1"/><circle cx="929.6" cy="196.0" r="2.1"/><circle cx="887.6" cy="236.7" r="2.1"/><circle cx="933.8" cy="279.2" r="2.1"/><circle cx="868.6" cy="199.4" r="2.1"/><circle cx="954.7" cy="210.1" r="2.1"/><circle cx="956.2" cy="218.9" r="2.1"/><circle cx="919.3" cy="255.6" r="2.1"/><circle cx="927.0" cy="277.0" r="2.1"/><circle cx="944.6" cy="208.2" r="2.1"/><circle cx="916.4" cy="249.4" r="2.1"/><circle cx="946.4" cy="250.1" r="2.1"/><circle cx="966.5" cy="201.0" r="2.1"/><circle cx="879.7" cy="205.0" r="2.1"/><circle cx="961.2" cy="199.8" r="2.1"/><circle cx="900.6" cy="241.0" r="2.1"/><circle cx="883.1" cy="195.7" r="2.1"/><circle cx="944.7" cy="168.4" r="2.1"/><circle cx="868.9" cy="229.7" r="2.1"/><circle cx="939.0" cy="211.5" r="2.1"/><circle cx="953.3" cy="217.0" r="2.1"/><circle cx="910.1" cy="262.1" r="2.1"/><circle cx="888.6" cy="277.0" r="2.1"/><circle cx="906.4" cy="295.6" r="2.1"/><circle cx="874.6" cy="181.8" r="2.1"/><circle cx="978.5" cy="205.4" r="2.1"/><circle cx="915.0" cy="211.3" r="2.1"/><circle cx="937.8" cy="281.2" r="2.1"/><circle cx="879.1" cy="282.4" r="2.1"/><circle cx="851.3" cy="153.6" r="2.1"/><circle cx="962.2" cy="175.1" r="2.1"/><circle cx="907.1" cy="293.8" r="2.1"/><circle cx="949.5" cy="208.1" r="2.1"/><circle cx="979.0" cy="197.2" r="2.1"/><circle cx="957.6" cy="196.3" r="2.1"/><circle cx="913.4" cy="289.1" r="2.1"/><circle cx="875.3" cy="208.0" r="2.1"/><circle cx="887.9" cy="169.3" r="2.1"/><circle cx="906.2" cy="293.8" r="2.1"/><circle cx="945.8" cy="176.6" r="2.1"/><circle cx="978.9" cy="185.2" r="2.1"/><circle cx="888.2" cy="244.1" r="2.1"/><circle cx="919.0" cy="290.6" r="2.1"/><circle cx="941.6" cy="256.6" r="2.1"/><circle cx="894.8" cy="216.3" r="2.1"/><circle cx="951.0" cy="262.2" r="2.1"/><circle cx="933.1" cy="198.4" r="2.1"/><circle cx="947.4" cy="200.5" r="2.1"/><circle cx="926.7" cy="178.4" r="2.1"/><circle cx="930.7" cy="215.3" r="2.1"/><circle cx="920.5" cy="173.5" r="2.1"/><circle cx="912.9" cy="291.6" r="2.1"/><circle cx="963.5" cy="194.9" r="2.1"/><circle cx="884.6" cy="180.1" r="2.1"/><circle cx="909.8" cy="293.2" r="2.1"/><circle cx="865.2" cy="179.1" r="2.1"/><circle cx="933.2" cy="215.9" r="2.1"/><circle cx="859.1" cy="194.9" r="2.1"/><circle cx="914.3" cy="260.0" r="2.1"/><circle cx="933.5" cy="280.1" r="2.1"/><circle cx="975.4" cy="211.6" r="2.1"/><circle cx="904.5" cy="293.2" r="2.1"/><circle cx="894.6" cy="279.0" r="2.1"/><circle cx="949.0" cy="116.0" r="2.1"/><circle cx="906.5" cy="292.4" r="2.1"/><circle cx="904.4" cy="296.2" r="2.1"/><circle cx="953.4" cy="275.1" r="2.1"/><circle cx="894.6" cy="228.3" r="2.1"/><circle cx="894.6" cy="281.8" r="2.1"/><circle cx="951.1" cy="158.3" r="2.1"/><circle cx="987.5" cy="245.8" r="2.1"/><circle cx="963.9" cy="242.9" r="2.1"/><circle cx="856.1" cy="202.0" r="2.1"/><circle cx="906.5" cy="294.4" r="2.1"/><circle cx="943.0" cy="234.3" r="2.1"/><circle cx="905.4" cy="295.7" r="2.1"/><circle cx="968.9" cy="224.8" r="2.1"/><circle cx="941.8" cy="183.8" r="2.1"/><circle cx="869.8" cy="275.8" r="2.1"/><circle cx="863.5" cy="221.9" r="2.1"/><circle cx="905.4" cy="293.7" r="2.1"/><circle cx="929.2" cy="217.0" r="2.1"/><circle cx="898.6" cy="249.6" r="2.1"/><circle cx="914.0" cy="270.3" r="2.1"/><circle cx="978.0" cy="185.1" r="2.1"/><circle cx="974.0" cy="261.8" r="2.1"/><circle cx="926.0" cy="224.0" r="2.1"/><circle cx="905.7" cy="290.8" r="2.1"/><circle cx="930.0" cy="272.9" r="2.1"/><circle cx="892.0" cy="258.6" r="2.1"/><circle cx="945.9" cy="170.3" r="2.1"/><circle cx="940.6" cy="211.3" r="2.1"/><circle cx="944.8" cy="273.7" r="2.1"/><circle cx="914.8" cy="236.7" r="2.1"/><circle cx="917.5" cy="239.3" r="2.1"/><circle cx="893.7" cy="219.4" r="2.1"/><circle cx="923.2" cy="229.4" r="2.1"/><circle cx="915.2" cy="185.3" r="2.1"/><circle cx="905.1" cy="293.9" r="2.1"/><circle cx="977.8" cy="177.9" r="2.1"/><circle cx="871.4" cy="245.5" r="2.1"/><circle cx="892.8" cy="243.2" r="2.1"/><circle cx="864.0" cy="197.8" r="2.1"/><circle cx="918.3" cy="272.8" r="2.1"/><circle cx="929.3" cy="279.5" r="2.1"/><circle cx="959.0" cy="192.8" r="2.1"/><circle cx="870.1" cy="241.5" r="2.1"/><circle cx="905.6" cy="295.6" r="2.1"/><circle cx="865.8" cy="246.3" r="2.1"/><circle cx="866.4" cy="175.9" r="2.1"/><circle cx="870.4" cy="239.8" r="2.1"/><circle cx="906.1" cy="296.3" r="2.1"/><circle cx="908.8" cy="291.2" r="2.1"/><circle cx="932.4" cy="212.7" r="2.1"/><circle cx="924.9" cy="273.9" r="2.1"/><circle cx="959.9" cy="183.4" r="2.1"/><circle cx="892.4" cy="209.1" r="2.1"/><circle cx="879.7" cy="231.6" r="2.1"/><circle cx="907.1" cy="295.5" r="2.1"/><circle cx="896.8" cy="165.5" r="2.1"/><circle cx="936.3" cy="188.5" r="2.1"/><circle cx="949.5" cy="255.0" r="2.1"/><circle cx="982.5" cy="187.7" r="2.1"/><circle cx="887.2" cy="179.3" r="2.1"/><circle cx="938.3" cy="222.3" r="2.1"/><circle cx="969.8" cy="204.2" r="2.1"/><circle cx="858.5" cy="245.6" r="2.1"/><circle cx="950.7" cy="211.0" r="2.1"/><circle cx="916.4" cy="197.0" r="2.1"/><circle cx="933.4" cy="272.9" r="2.1"/><circle cx="883.1" cy="284.7" r="2.1"/><circle cx="925.4" cy="264.1" r="2.1"/><circle cx="861.0" cy="228.1" r="2.1"/><circle cx="869.1" cy="230.6" r="2.1"/><circle cx="931.5" cy="261.6" r="2.1"/><circle cx="939.8" cy="257.1" r="2.1"/><circle cx="911.3" cy="240.1" r="2.1"/><circle cx="980.7" cy="245.6" r="2.1"/><circle cx="905.8" cy="297.6" r="2.1"/><circle cx="902.6" cy="253.3" r="2.1"/><circle cx="859.3" cy="236.2" r="2.1"/><circle cx="935.3" cy="202.6" r="2.1"/><circle cx="924.3" cy="217.6" r="2.1"/><circle cx="866.2" cy="262.4" r="2.1"/><circle cx="919.2" cy="186.7" r="2.1"/><circle cx="933.7" cy="237.6" r="2.1"/><circle cx="907.3" cy="297.2" r="2.1"/><circle cx="923.1" cy="290.7" r="2.1"/><circle cx="918.9" cy="289.9" r="2.1"/><circle cx="957.8" cy="142.5" r="2.1"/><circle cx="895.5" cy="293.8" r="2.1"/><circle cx="867.7" cy="179.1" r="2.1"/><circle cx="902.0" cy="293.7" r="2.1"/><circle cx="868.7" cy="173.9" r="2.1"/><circle cx="884.4" cy="212.3" r="2.1"/><circle cx="884.6" cy="241.7" r="2.1"/><circle cx="958.9" cy="222.7" r="2.1"/><circle cx="949.6" cy="236.0" r="2.1"/><circle cx="953.8" cy="187.4" r="2.1"/><circle cx="925.9" cy="193.4" r="2.1"/><circle cx="953.5" cy="202.2" r="2.1"/><circle cx="928.7" cy="246.1" r="2.1"/><circle cx="930.6" cy="279.9" r="2.1"/><circle cx="979.7" cy="174.3" r="2.1"/><circle cx="936.0" cy="152.1" r="2.1"/><circle cx="863.0" cy="272.5" r="2.1"/><circle cx="864.5" cy="276.2" r="2.1"/><circle cx="952.4" cy="178.7" r="2.1"/><circle cx="875.5" cy="176.1" r="2.1"/><circle cx="892.4" cy="287.9" r="2.1"/><circle cx="934.2" cy="239.0" r="2.1"/><circle cx="929.2" cy="200.7" r="2.1"/><circle cx="935.1" cy="190.8" r="2.1"/><circle cx="977.5" cy="229.2" r="2.1"/><circle cx="863.9" cy="242.5" r="2.1"/><circle cx="952.6" cy="215.4" r="2.1"/><circle cx="878.8" cy="249.2" r="2.1"/><circle cx="890.9" cy="187.0" r="2.1"/><circle cx="879.4" cy="171.9" r="2.1"/><circle cx="884.4" cy="225.9" r="2.1"/><circle cx="906.3" cy="294.0" r="2.1"/><circle cx="890.3" cy="271.6" r="2.1"/><circle cx="946.9" cy="202.8" r="2.1"/><circle cx="925.1" cy="239.0" r="2.1"/><circle cx="838.4" cy="224.3" r="2.1"/><circle cx="859.8" cy="265.4" r="2.1"/><circle cx="952.2" cy="242.9" r="2.1"/><circle cx="906.5" cy="297.0" r="2.1"/><circle cx="921.5" cy="167.7" r="2.1"/><circle cx="930.1" cy="275.5" r="2.1"/><circle cx="879.2" cy="240.1" r="2.1"/><circle cx="918.8" cy="250.1" r="2.1"/><circle cx="969.3" cy="215.7" r="2.1"/><circle cx="894.9" cy="166.3" r="2.1"/><circle cx="1004.2" cy="166.1" r="2.1"/><circle cx="909.4" cy="296.2" r="2.1"/><circle cx="905.0" cy="295.6" r="2.1"/><circle cx="946.2" cy="284.7" r="2.1"/><circle cx="953.7" cy="230.6" r="2.1"/><circle cx="949.6" cy="172.3" r="2.1"/><circle cx="958.9" cy="263.3" r="2.1"/><circle cx="870.3" cy="235.0" r="2.1"/><circle cx="947.9" cy="259.9" r="2.1"/><circle cx="851.7" cy="236.6" r="2.1"/><circle cx="890.4" cy="160.3" r="2.1"/><circle cx="915.3" cy="164.8" r="2.1"/><circle cx="957.3" cy="212.9" r="2.1"/><circle cx="883.3" cy="227.2" r="2.1"/><circle cx="940.2" cy="202.2" r="2.1"/><circle cx="868.1" cy="185.8" r="2.1"/><circle cx="861.7" cy="189.6" r="2.1"/><circle cx="893.3" cy="292.1" r="2.1"/><circle cx="923.0" cy="198.6" r="2.1"/><circle cx="952.3" cy="166.7" r="2.1"/><circle cx="904.8" cy="295.9" r="2.1"/><circle cx="873.9" cy="204.7" r="2.1"/><circle cx="976.4" cy="181.9" r="2.1"/><circle cx="863.4" cy="186.5" r="2.1"/><circle cx="926.9" cy="272.9" r="2.1"/><circle cx="954.5" cy="210.7" r="2.1"/><circle cx="953.5" cy="199.6" r="2.1"/><circle cx="978.3" cy="187.1" r="2.1"/><circle cx="906.0" cy="296.3" r="2.1"/><circle cx="910.8" cy="297.0" r="2.1"/><circle cx="932.0" cy="226.1" r="2.1"/><circle cx="956.6" cy="126.9" r="2.1"/><circle cx="897.2" cy="204.4" r="2.1"/><circle cx="941.1" cy="212.8" r="2.1"/><circle cx="896.9" cy="269.1" r="2.1"/><circle cx="868.3" cy="245.9" r="2.1"/><circle cx="904.5" cy="296.0" r="2.1"/><circle cx="879.0" cy="259.1" r="2.1"/><circle cx="896.0" cy="261.6" r="2.1"/><circle cx="876.9" cy="216.0" r="2.1"/><circle cx="864.4" cy="237.1" r="2.1"/><circle cx="855.3" cy="256.6" r="2.1"/><circle cx="921.8" cy="165.5" r="2.1"/><circle cx="933.6" cy="274.4" r="2.1"/><circle cx="915.7" cy="287.8" r="2.1"/><circle cx="958.2" cy="173.1" r="2.1"/><circle cx="917.2" cy="236.9" r="2.1"/><circle cx="928.2" cy="205.0" r="2.1"/><circle cx="922.3" cy="279.6" r="2.1"/><circle cx="877.8" cy="209.9" r="2.1"/><circle cx="952.6" cy="211.7" r="2.1"/><circle cx="941.3" cy="188.4" r="2.1"/><circle cx="861.8" cy="186.7" r="2.1"/><circle cx="899.7" cy="256.0" r="2.1"/><circle cx="946.9" cy="223.8" r="2.1"/><circle cx="868.3" cy="266.4" r="2.1"/><circle cx="943.8" cy="228.1" r="2.1"/><circle cx="871.6" cy="207.3" r="2.1"/><circle cx="887.4" cy="284.8" r="2.1"/><circle cx="883.7" cy="207.9" r="2.1"/><circle cx="989.7" cy="196.0" r="2.1"/><circle cx="939.5" cy="263.1" r="2.1"/><circle cx="919.3" cy="295.6" r="2.1"/><circle cx="857.0" cy="239.8" r="2.1"/><circle cx="932.1" cy="288.3" r="2.1"/><circle cx="930.2" cy="288.9" r="2.1"/><circle cx="871.1" cy="218.8" r="2.1"/><circle cx="912.4" cy="276.6" r="2.1"/><circle cx="975.9" cy="258.2" r="2.1"/><circle cx="904.5" cy="293.8" r="2.1"/><circle cx="871.0" cy="171.9" r="2.1"/><circle cx="949.5" cy="263.4" r="2.1"/><circle cx="919.1" cy="189.3" r="2.1"/><circle cx="937.1" cy="251.3" r="2.1"/><circle cx="970.6" cy="206.3" r="2.1"/><circle cx="945.8" cy="197.6" r="2.1"/><circle cx="921.8" cy="237.7" r="2.1"/><circle cx="973.4" cy="168.1" r="2.1"/><circle cx="940.6" cy="196.5" r="2.1"/><circle cx="905.9" cy="297.0" r="2.1"/><circle cx="867.8" cy="195.2" r="2.1"/><circle cx="906.5" cy="294.4" r="2.1"/><circle cx="904.4" cy="294.5" r="2.1"/><circle cx="878.0" cy="286.2" r="2.1"/><circle cx="946.2" cy="189.3" r="2.1"/><circle cx="957.8" cy="167.7" r="2.1"/><circle cx="864.7" cy="259.9" r="2.1"/><circle cx="948.6" cy="228.9" r="2.1"/><circle cx="948.7" cy="183.5" r="2.1"/><circle cx="931.8" cy="178.0" r="2.1"/><circle cx="885.3" cy="266.7" r="2.1"/><circle cx="907.1" cy="292.5" r="2.1"/><circle cx="974.1" cy="203.3" r="2.1"/><circle cx="919.3" cy="270.2" r="2.1"/><circle cx="884.6" cy="249.7" r="2.1"/><circle cx="920.0" cy="200.8" r="2.1"/><circle cx="859.7" cy="193.2" r="2.1"/><circle cx="912.8" cy="265.8" r="2.1"/><circle cx="910.8" cy="278.2" r="2.1"/><circle cx="908.3" cy="294.8" r="2.1"/><circle cx="934.5" cy="172.2" r="2.1"/><circle cx="894.6" cy="286.9" r="2.1"/><circle cx="896.8" cy="261.2" r="2.1"/><circle cx="861.1" cy="215.0" r="2.1"/><circle cx="927.7" cy="155.8" r="2.1"/><circle cx="938.8" cy="235.1" r="2.1"/><circle cx="921.2" cy="232.6" r="2.1"/><circle cx="895.5" cy="181.7" r="2.1"/><circle cx="966.6" cy="190.8" r="2.1"/><circle cx="906.4" cy="295.0" r="2.1"/><circle cx="943.8" cy="247.4" r="2.1"/><circle cx="959.6" cy="265.7" r="2.1"/><circle cx="954.1" cy="222.2" r="2.1"/><circle cx="919.5" cy="188.2" r="2.1"/><circle cx="888.1" cy="176.8" r="2.1"/><circle cx="935.0" cy="176.0" r="2.1"/><circle cx="868.4" cy="173.3" r="2.1"/><circle cx="934.9" cy="276.3" r="2.1"/><circle cx="900.1" cy="175.9" r="2.1"/><circle cx="854.5" cy="166.6" r="2.1"/><circle cx="970.3" cy="164.2" r="2.1"/><circle cx="882.0" cy="247.2" r="2.1"/><circle cx="891.7" cy="170.9" r="2.1"/><circle cx="869.6" cy="248.7" r="2.1"/><circle cx="937.6" cy="189.0" r="2.1"/><circle cx="957.7" cy="173.7" r="2.1"/><circle cx="904.0" cy="293.1" r="2.1"/><circle cx="969.7" cy="241.7" r="2.1"/><circle cx="924.8" cy="270.3" r="2.1"/><circle cx="870.9" cy="233.5" r="2.1"/><circle cx="861.8" cy="276.5" r="2.1"/><circle cx="895.7" cy="250.5" r="2.1"/><circle cx="944.6" cy="218.2" r="2.1"/><circle cx="939.9" cy="215.9" r="2.1"/><circle cx="957.1" cy="211.4" r="2.1"/><circle cx="889.4" cy="169.2" r="2.1"/><circle cx="918.9" cy="240.0" r="2.1"/><circle cx="961.2" cy="218.3" r="2.1"/><circle cx="912.5" cy="250.4" r="2.1"/><circle cx="881.1" cy="185.8" r="2.1"/><circle cx="940.2" cy="203.8" r="2.1"/><circle cx="907.5" cy="295.0" r="2.1"/><circle cx="913.9" cy="217.1" r="2.1"/><circle cx="905.6" cy="295.2" r="2.1"/><circle cx="961.1" cy="168.8" r="2.1"/><circle cx="907.9" cy="293.3" r="2.1"/><circle cx="973.0" cy="243.7" r="2.1"/><circle cx="944.9" cy="263.6" r="2.1"/><circle cx="978.6" cy="172.1" r="2.1"/><circle cx="970.7" cy="216.0" r="2.1"/><circle cx="983.1" cy="168.1" r="2.1"/><circle cx="859.3" cy="250.6" r="2.1"/><circle cx="914.7" cy="230.9" r="2.1"/><circle cx="960.4" cy="175.6" r="2.1"/><circle cx="971.6" cy="239.9" r="2.1"/><circle cx="949.5" cy="175.7" r="2.1"/><circle cx="934.0" cy="203.3" r="2.1"/><circle cx="962.9" cy="264.2" r="2.1"/><circle cx="920.4" cy="199.1" r="2.1"/><circle cx="935.6" cy="238.7" r="2.1"/><circle cx="887.9" cy="187.4" r="2.1"/><circle cx="865.1" cy="203.0" r="2.1"/><circle cx="933.2" cy="261.5" r="2.1"/><circle cx="855.7" cy="256.0" r="2.1"/><circle cx="937.5" cy="216.1" r="2.1"/><circle cx="938.9" cy="211.4" r="2.1"/><circle cx="863.9" cy="231.6" r="2.1"/><circle cx="906.0" cy="297.0" r="2.1"/><circle cx="944.7" cy="170.4" r="2.1"/><circle cx="864.5" cy="272.2" r="2.1"/><circle cx="891.6" cy="239.7" r="2.1"/><circle cx="883.2" cy="189.3" r="2.1"/><circle cx="896.5" cy="224.8" r="2.1"/><circle cx="933.2" cy="246.9" r="2.1"/><circle cx="882.5" cy="238.1" r="2.1"/><circle cx="906.0" cy="297.0" r="2.1"/><circle cx="887.4" cy="208.5" r="2.1"/><circle cx="949.7" cy="209.5" r="2.1"/><circle cx="885.9" cy="184.8" r="2.1"/><circle cx="975.1" cy="248.3" r="2.1"/><circle cx="906.4" cy="291.6" r="2.1"/><circle cx="876.4" cy="231.1" r="2.1"/><circle cx="973.4" cy="167.5" r="2.1"/><circle cx="869.5" cy="229.5" r="2.1"/><circle cx="861.0" cy="202.3" r="2.1"/><circle cx="915.8" cy="199.0" r="2.1"/><circle cx="959.3" cy="162.2" r="2.1"/><circle cx="960.4" cy="181.0" r="2.1"/><circle cx="891.3" cy="296.7" r="2.1"/><circle cx="895.2" cy="245.2" r="2.1"/><circle cx="947.8" cy="185.7" r="2.1"/><circle cx="919.8" cy="259.2" r="2.1"/><circle cx="853.8" cy="237.0" r="2.1"/><circle cx="907.3" cy="297.0" r="2.1"/><circle cx="921.7" cy="289.3" r="2.1"/><circle cx="921.0" cy="184.2" r="2.1"/><circle cx="861.6" cy="240.4" r="2.1"/><circle cx="941.3" cy="207.4" r="2.1"/><circle cx="942.2" cy="217.5" r="2.1"/><circle cx="936.4" cy="269.9" r="2.1"/><circle cx="947.0" cy="199.0" r="2.1"/><circle cx="940.8" cy="203.5" r="2.1"/><circle cx="879.6" cy="181.5" r="2.1"/><circle cx="858.3" cy="200.4" r="2.1"/><circle cx="923.7" cy="241.5" r="2.1"/><circle cx="936.8" cy="208.5" r="2.1"/><circle cx="920.8" cy="253.1" r="2.1"/><circle cx="869.6" cy="187.3" r="2.1"/><circle cx="860.6" cy="198.5" r="2.1"/><circle cx="886.2" cy="230.5" r="2.1"/><circle cx="901.4" cy="292.5" r="2.1"/><circle cx="885.5" cy="224.3" r="2.1"/><circle cx="910.8" cy="292.6" r="2.1"/><circle cx="915.1" cy="160.2" r="2.1"/><circle cx="938.4" cy="202.3" r="2.1"/><circle cx="952.7" cy="215.2" r="2.1"/><circle cx="912.8" cy="269.1" r="2.1"/><circle cx="852.5" cy="205.9" r="2.1"/><circle cx="908.0" cy="294.7" r="2.1"/><circle cx="912.2" cy="282.8" r="2.1"/><circle cx="918.8" cy="293.6" r="2.1"/><circle cx="887.7" cy="273.3" r="2.1"/><circle cx="901.6" cy="278.0" r="2.1"/><circle cx="929.4" cy="242.2" r="2.1"/><circle cx="906.6" cy="297.6" r="2.1"/><circle cx="888.3" cy="223.9" r="2.1"/><circle cx="915.3" cy="245.0" r="2.1"/><circle cx="907.0" cy="296.3" r="2.1"/><circle cx="901.1" cy="210.2" r="2.1"/><circle cx="905.1" cy="296.4" r="2.1"/><circle cx="975.7" cy="227.9" r="2.1"/><circle cx="952.4" cy="216.7" r="2.1"/><circle cx="943.2" cy="226.7" r="2.1"/><circle cx="913.3" cy="268.7" r="2.1"/><circle cx="951.2" cy="229.7" r="2.1"/><circle cx="931.2" cy="195.5" r="2.1"/><circle cx="940.0" cy="234.6" r="2.1"/><circle cx="952.3" cy="187.0" r="2.1"/><circle cx="906.5" cy="296.3" r="2.1"/><circle cx="933.2" cy="251.5" r="2.1"/><circle cx="905.7" cy="296.0" r="2.1"/><circle cx="969.4" cy="193.9" r="2.1"/><circle cx="905.9" cy="296.4" r="2.1"/><circle cx="858.1" cy="157.2" r="2.1"/><circle cx="972.5" cy="208.1" r="2.1"/><circle cx="912.7" cy="268.7" r="2.1"/><circle cx="877.8" cy="214.2" r="2.1"/><circle cx="909.6" cy="267.1" r="2.1"/><circle cx="895.0" cy="201.9" r="2.1"/><circle cx="918.1" cy="212.9" r="2.1"/><circle cx="933.8" cy="234.6" r="2.1"/><circle cx="893.1" cy="293.9" r="2.1"/><circle cx="946.6" cy="198.7" r="2.1"/><circle cx="908.1" cy="292.1" r="2.1"/><circle cx="905.7" cy="296.7" r="2.1"/><circle cx="953.3" cy="255.8" r="2.1"/><circle cx="912.0" cy="294.0" r="2.1"/><circle cx="924.7" cy="294.2" r="2.1"/><circle cx="871.8" cy="212.4" r="2.1"/><circle cx="967.2" cy="199.7" r="2.1"/><circle cx="934.7" cy="167.2" r="2.1"/><circle cx="913.3" cy="251.2" r="2.1"/><circle cx="887.0" cy="244.6" r="2.1"/><circle cx="867.3" cy="272.0" r="2.1"/><circle cx="931.3" cy="148.8" r="2.1"/><circle cx="926.7" cy="172.4" r="2.1"/><circle cx="865.1" cy="184.3" r="2.1"/><circle cx="897.0" cy="169.0" r="2.1"/><circle cx="908.3" cy="293.8" r="2.1"/><circle cx="935.5" cy="221.7" r="2.1"/><circle cx="922.9" cy="277.3" r="2.1"/><circle cx="938.6" cy="177.8" r="2.1"/><circle cx="904.1" cy="292.1" r="2.1"/><circle cx="907.0" cy="297.4" r="2.1"/><circle cx="911.7" cy="227.9" r="2.1"/><circle cx="938.2" cy="225.8" r="2.1"/><circle cx="932.7" cy="258.2" r="2.1"/><circle cx="898.6" cy="202.0" r="2.1"/><circle cx="933.3" cy="171.7" r="2.1"/><circle cx="884.0" cy="217.5" r="2.1"/><circle cx="907.3" cy="293.7" r="2.1"/><circle cx="969.3" cy="223.0" r="2.1"/><circle cx="937.9" cy="220.4" r="2.1"/><circle cx="952.8" cy="197.7" r="2.1"/><circle cx="870.7" cy="210.5" r="2.1"/><circle cx="970.0" cy="172.7" r="2.1"/><circle cx="884.5" cy="222.6" r="2.1"/><circle cx="932.2" cy="240.6" r="2.1"/><circle cx="907.0" cy="297.0" r="2.1"/><circle cx="941.7" cy="197.2" r="2.1"/><circle cx="943.4" cy="185.8" r="2.1"/><circle cx="944.4" cy="155.7" r="2.1"/><circle cx="959.0" cy="182.5" r="2.1"/><circle cx="936.6" cy="287.4" r="2.1"/><circle cx="858.1" cy="186.1" r="2.1"/><circle cx="879.1" cy="191.5" r="2.1"/><circle cx="951.2" cy="197.0" r="2.1"/><circle cx="962.6" cy="203.6" r="2.1"/><circle cx="953.7" cy="256.8" r="2.1"/><circle cx="959.4" cy="197.5" r="2.1"/><circle cx="906.8" cy="297.1" r="2.1"/><circle cx="984.2" cy="257.7" r="2.1"/><circle cx="878.4" cy="246.4" r="2.1"/><circle cx="960.7" cy="167.7" r="2.1"/><circle cx="889.6" cy="170.5" r="2.1"/><circle cx="897.6" cy="296.5" r="2.1"/><circle cx="907.5" cy="296.6" r="2.1"/><circle cx="862.0" cy="275.2" r="2.1"/><circle cx="984.9" cy="216.3" r="2.1"/><circle cx="956.1" cy="169.4" r="2.1"/><circle cx="889.1" cy="228.2" r="2.1"/><circle cx="955.7" cy="177.7" r="2.1"/><circle cx="883.0" cy="258.9" r="2.1"/><circle cx="926.7" cy="247.7" r="2.1"/><circle cx="929.6" cy="290.2" r="2.1"/><circle cx="964.2" cy="263.0" r="2.1"/><circle cx="964.2" cy="239.9" r="2.1"/><circle cx="958.0" cy="221.2" r="2.1"/><circle cx="941.0" cy="254.3" r="2.1"/><circle cx="951.4" cy="166.9" r="2.1"/><circle cx="923.6" cy="184.6" r="2.1"/><circle cx="903.9" cy="293.8" r="2.1"/><circle cx="878.7" cy="230.5" r="2.1"/><circle cx="863.6" cy="187.5" r="2.1"/><circle cx="949.1" cy="214.1" r="2.1"/><circle cx="871.4" cy="175.3" r="2.1"/><circle cx="906.9" cy="294.8" r="2.1"/><circle cx="966.2" cy="230.6" r="2.1"/><circle cx="967.6" cy="242.1" r="2.1"/><circle cx="888.3" cy="216.1" r="2.1"/><circle cx="949.3" cy="244.2" r="2.1"/><circle cx="947.6" cy="248.5" r="2.1"/><circle cx="885.2" cy="253.4" r="2.1"/><circle cx="899.7" cy="210.1" r="2.1"/><circle cx="943.0" cy="252.2" r="2.1"/><circle cx="846.3" cy="271.5" r="2.1"/><circle cx="879.4" cy="271.2" r="2.1"/><circle cx="915.0" cy="246.8" r="2.1"/><circle cx="966.2" cy="184.6" r="2.1"/><circle cx="869.6" cy="231.6" r="2.1"/><circle cx="944.8" cy="270.6" r="2.1"/><circle cx="943.2" cy="248.8" r="2.1"/><circle cx="854.6" cy="232.7" r="2.1"/><circle cx="895.0" cy="204.7" r="2.1"/><circle cx="975.3" cy="154.4" r="2.1"/><circle cx="952.5" cy="153.0" r="2.1"/><circle cx="958.7" cy="234.2" r="2.1"/><circle cx="969.6" cy="165.3" r="2.1"/><circle cx="916.0" cy="231.3" r="2.1"/><circle cx="947.7" cy="168.5" r="2.1"/><circle cx="907.0" cy="296.4" r="2.1"/><circle cx="896.4" cy="169.3" r="2.1"/><circle cx="854.4" cy="182.8" r="2.1"/><circle cx="948.1" cy="229.9" r="2.1"/><circle cx="917.7" cy="247.7" r="2.1"/><circle cx="962.8" cy="242.8" r="2.1"/><circle cx="888.1" cy="239.8" r="2.1"/><circle cx="920.0" cy="277.2" r="2.1"/><circle cx="911.2" cy="291.9" r="2.1"/><circle cx="944.1" cy="253.1" r="2.1"/><circle cx="926.6" cy="230.3" r="2.1"/><circle cx="958.1" cy="230.9" r="2.1"/><circle cx="923.3" cy="275.8" r="2.1"/><circle cx="976.5" cy="210.3" r="2.1"/><circle cx="929.4" cy="282.6" r="2.1"/><circle cx="870.8" cy="277.6" r="2.1"/><circle cx="953.0" cy="198.3" r="2.1"/><circle cx="855.3" cy="242.0" r="2.1"/><circle cx="931.1" cy="173.9" r="2.1"/><circle cx="917.6" cy="202.4" r="2.1"/><circle cx="863.8" cy="255.1" r="2.1"/><circle cx="980.5" cy="197.0" r="2.1"/><circle cx="927.9" cy="172.9" r="2.1"/><circle cx="866.2" cy="199.1" r="2.1"/><circle cx="926.0" cy="287.2" r="2.1"/><circle cx="906.5" cy="293.2" r="2.1"/><circle cx="939.6" cy="218.7" r="2.1"/><circle cx="906.8" cy="295.2" r="2.1"/><circle cx="951.8" cy="205.6" r="2.1"/><circle cx="965.6" cy="181.5" r="2.1"/><circle cx="895.5" cy="284.0" r="2.1"/><circle cx="945.1" cy="222.4" r="2.1"/><circle cx="882.1" cy="274.6" r="2.1"/><circle cx="884.0" cy="247.9" r="2.1"/><circle cx="957.4" cy="158.6" r="2.1"/><circle cx="975.6" cy="198.6" r="2.1"/><circle cx="982.5" cy="229.3" r="2.1"/><circle cx="924.1" cy="246.4" r="2.1"/><circle cx="945.6" cy="206.0" r="2.1"/><circle cx="868.5" cy="175.3" r="2.1"/><circle cx="914.0" cy="291.9" r="2.1"/><circle cx="974.8" cy="202.5" r="2.1"/><circle cx="968.7" cy="200.8" r="2.1"/><circle cx="966.3" cy="244.2" r="2.1"/><circle cx="916.0" cy="292.0" r="2.1"/><circle cx="906.8" cy="297.5" r="2.1"/><circle cx="897.0" cy="177.8" r="2.1"/><circle cx="934.5" cy="288.1" r="2.1"/><circle cx="913.2" cy="266.7" r="2.1"/><circle cx="906.4" cy="293.2" r="2.1"/><circle cx="946.6" cy="261.7" r="2.1"/><circle cx="914.8" cy="254.3" r="2.1"/><circle cx="962.8" cy="187.1" r="2.1"/><circle cx="906.4" cy="293.8" r="2.1"/><circle cx="946.2" cy="197.8" r="2.1"/><circle cx="984.7" cy="201.7" r="2.1"/><circle cx="909.0" cy="287.8" r="2.1"/><circle cx="950.7" cy="203.3" r="2.1"/><circle cx="920.4" cy="256.9" r="2.1"/><circle cx="939.3" cy="237.2" r="2.1"/><circle cx="894.6" cy="163.6" r="2.1"/><circle cx="963.8" cy="201.7" r="2.1"/><circle cx="906.1" cy="297.1" r="2.1"/><circle cx="934.5" cy="213.6" r="2.1"/><circle cx="865.9" cy="246.9" r="2.1"/><circle cx="965.0" cy="122.6" r="2.1"/><circle cx="939.5" cy="275.3" r="2.1"/><circle cx="857.0" cy="244.7" r="2.1"/><circle cx="873.6" cy="274.7" r="2.1"/><circle cx="943.8" cy="205.9" r="2.1"/><circle cx="921.7" cy="214.9" r="2.1"/><circle cx="860.6" cy="150.5" r="2.1"/><circle cx="880.0" cy="287.9" r="2.1"/><circle cx="891.6" cy="259.7" r="2.1"/><circle cx="877.5" cy="227.2" r="2.1"/><circle cx="954.0" cy="207.7" r="2.1"/><circle cx="975.4" cy="170.8" r="2.1"/><circle cx="958.3" cy="206.1" r="2.1"/><circle cx="952.0" cy="195.5" r="2.1"/><circle cx="917.4" cy="288.5" r="2.1"/><circle cx="905.8" cy="295.2" r="2.1"/><circle cx="970.1" cy="267.8" r="2.1"/><circle cx="870.9" cy="207.4" r="2.1"/><circle cx="857.3" cy="154.8" r="2.1"/><circle cx="940.4" cy="232.6" r="2.1"/><circle cx="967.2" cy="228.3" r="2.1"/><circle cx="962.3" cy="186.1" r="2.1"/><circle cx="908.2" cy="294.3" r="2.1"/><circle cx="942.9" cy="159.0" r="2.1"/><circle cx="874.7" cy="172.5" r="2.1"/><circle cx="859.9" cy="274.4" r="2.1"/><circle cx="909.4" cy="290.6" r="2.1"/><circle cx="922.6" cy="157.4" r="2.1"/><circle cx="960.8" cy="191.0" r="2.1"/><circle cx="937.6" cy="228.7" r="2.1"/><circle cx="933.6" cy="211.9" r="2.1"/><circle cx="968.8" cy="172.7" r="2.1"/><circle cx="909.3" cy="266.0" r="2.1"/><circle cx="927.2" cy="167.2" r="2.1"/><circle cx="954.3" cy="227.7" r="2.1"/><circle cx="864.0" cy="181.1" r="2.1"/><circle cx="908.3" cy="297.6" r="2.1"/><circle cx="929.7" cy="285.1" r="2.1"/><circle cx="904.1" cy="282.3" r="2.1"/><circle cx="875.9" cy="217.4" r="2.1"/><circle cx="949.7" cy="259.4" r="2.1"/><circle cx="969.5" cy="209.8" r="2.1"/><circle cx="949.3" cy="195.0" r="2.1"/><circle cx="943.2" cy="276.1" r="2.1"/><circle cx="832.4" cy="197.0" r="2.1"/><circle cx="947.8" cy="190.7" r="2.1"/><circle cx="890.2" cy="241.4" r="2.1"/><circle cx="977.8" cy="229.5" r="2.1"/><circle cx="964.8" cy="161.1" r="2.1"/><circle cx="973.7" cy="154.8" r="2.1"/><circle cx="952.9" cy="225.4" r="2.1"/><circle cx="895.0" cy="295.3" r="2.1"/><circle cx="994.2" cy="187.2" r="2.1"/><circle cx="959.7" cy="121.8" r="2.1"/><circle cx="869.8" cy="208.4" r="2.1"/><circle cx="941.6" cy="192.4" r="2.1"/><circle cx="952.7" cy="189.3" r="2.1"/><circle cx="927.0" cy="181.7" r="2.1"/><circle cx="882.7" cy="183.4" r="2.1"/><circle cx="929.0" cy="273.0" r="2.1"/><circle cx="950.0" cy="176.2" r="2.1"/><circle cx="907.4" cy="295.1" r="2.1"/><circle cx="912.8" cy="250.3" r="2.1"/><circle cx="933.9" cy="282.6" r="2.1"/><circle cx="975.3" cy="197.7" r="2.1"/><circle cx="928.5" cy="186.3" r="2.1"/><circle cx="875.0" cy="234.4" r="2.1"/><circle cx="954.3" cy="273.4" r="2.1"/><circle cx="863.5" cy="282.9" r="2.1"/><circle cx="931.2" cy="189.1" r="2.1"/><circle cx="872.6" cy="177.5" r="2.1"/><circle cx="901.6" cy="272.1" r="2.1"/><circle cx="932.1" cy="157.4" r="2.1"/><circle cx="965.2" cy="194.2" r="2.1"/><circle cx="929.6" cy="241.9" r="2.1"/><circle cx="944.7" cy="243.1" r="2.1"/><circle cx="936.2" cy="160.6" r="2.1"/><circle cx="905.3" cy="295.5" r="2.1"/><circle cx="892.5" cy="246.5" r="2.1"/><circle cx="974.4" cy="188.7" r="2.1"/><circle cx="863.6" cy="242.2" r="2.1"/><circle cx="920.6" cy="275.9" r="2.1"/><circle cx="914.8" cy="204.9" r="2.1"/><circle cx="906.6" cy="297.0" r="2.1"/><circle cx="898.4" cy="265.1" r="2.1"/><circle cx="922.9" cy="192.8" r="2.1"/><circle cx="942.5" cy="267.4" r="2.1"/><circle cx="890.6" cy="161.3" r="2.1"/><circle cx="934.6" cy="227.1" r="2.1"/><circle cx="902.9" cy="294.8" r="2.1"/><circle cx="894.9" cy="245.3" r="2.1"/><circle cx="882.7" cy="199.4" r="2.1"/><circle cx="987.9" cy="233.3" r="2.1"/><circle cx="893.5" cy="263.0" r="2.1"/><circle cx="955.3" cy="207.2" r="2.1"/><circle cx="919.2" cy="199.0" r="2.1"/><circle cx="929.5" cy="261.6" r="2.1"/><circle cx="864.7" cy="279.9" r="2.1"/><circle cx="951.0" cy="225.1" r="2.1"/><circle cx="965.9" cy="208.8" r="2.1"/><circle cx="906.4" cy="295.2" r="2.1"/><circle cx="906.9" cy="295.5" r="2.1"/><circle cx="907.0" cy="293.6" r="2.1"/><circle cx="875.3" cy="180.0" r="2.1"/><circle cx="860.8" cy="230.8" r="2.1"/><circle cx="945.7" cy="208.6" r="2.1"/><circle cx="871.8" cy="211.3" r="2.1"/><circle cx="906.3" cy="294.3" r="2.1"/><circle cx="948.3" cy="240.6" r="2.1"/><circle cx="919.0" cy="234.5" r="2.1"/><circle cx="966.1" cy="204.4" r="2.1"/><circle cx="924.1" cy="220.1" r="2.1"/><circle cx="894.2" cy="276.1" r="2.1"/><circle cx="941.3" cy="184.5" r="2.1"/><circle cx="883.4" cy="251.2" r="2.1"/><circle cx="933.7" cy="185.4" r="2.1"/><circle cx="957.3" cy="206.7" r="2.1"/><circle cx="857.6" cy="205.5" r="2.1"/><circle cx="865.2" cy="178.1" r="2.1"/><circle cx="892.4" cy="159.9" r="2.1"/><circle cx="892.3" cy="194.1" r="2.1"/><circle cx="849.2" cy="193.5" r="2.1"/><circle cx="925.3" cy="274.2" r="2.1"/><circle cx="965.1" cy="158.0" r="2.1"/><circle cx="943.2" cy="278.2" r="2.1"/><circle cx="945.9" cy="199.9" r="2.1"/><circle cx="956.8" cy="219.5" r="2.1"/><circle cx="913.6" cy="294.9" r="2.1"/><circle cx="899.1" cy="190.8" r="2.1"/><circle cx="887.2" cy="165.6" r="2.1"/><circle cx="884.4" cy="283.0" r="2.1"/><circle cx="866.3" cy="236.0" r="2.1"/><circle cx="969.3" cy="175.2" r="2.1"/><circle cx="941.2" cy="217.0" r="2.1"/><circle cx="947.8" cy="190.2" r="2.1"/><circle cx="916.1" cy="187.0" r="2.1"/><circle cx="970.8" cy="219.0" r="2.1"/><circle cx="957.4" cy="252.7" r="2.1"/><circle cx="950.3" cy="179.9" r="2.1"/><circle cx="964.2" cy="228.7" r="2.1"/><circle cx="965.4" cy="175.3" r="2.1"/><circle cx="881.1" cy="292.9" r="2.1"/><circle cx="928.0" cy="289.4" r="2.1"/><circle cx="938.1" cy="235.9" r="2.1"/><circle cx="944.4" cy="201.9" r="2.1"/><circle cx="871.4" cy="235.4" r="2.1"/><circle cx="960.0" cy="255.7" r="2.1"/><circle cx="950.2" cy="233.3" r="2.1"/><circle cx="889.3" cy="218.1" r="2.1"/><circle cx="884.6" cy="161.7" r="2.1"/><circle cx="916.9" cy="173.2" r="2.1"/><circle cx="948.2" cy="180.2" r="2.1"/><circle cx="909.8" cy="293.9" r="2.1"/><circle cx="895.6" cy="205.8" r="2.1"/><circle cx="950.4" cy="199.7" r="2.1"/><circle cx="924.0" cy="276.1" r="2.1"/><circle cx="906.3" cy="297.4" r="2.1"/><circle cx="946.6" cy="234.3" r="2.1"/><circle cx="944.0" cy="170.7" r="2.1"/><circle cx="907.5" cy="297.1" r="2.1"/><circle cx="959.6" cy="173.7" r="2.1"/><circle cx="937.9" cy="229.6" r="2.1"/><circle cx="944.5" cy="198.4" r="2.1"/><circle cx="880.7" cy="188.6" r="2.1"/><circle cx="960.7" cy="193.3" r="2.1"/><circle cx="862.7" cy="180.4" r="2.1"/><circle cx="946.9" cy="181.6" r="2.1"/><circle cx="868.3" cy="282.0" r="2.1"/><circle cx="858.1" cy="231.8" r="2.1"/><circle cx="877.0" cy="165.9" r="2.1"/><circle cx="907.6" cy="296.6" r="2.1"/><circle cx="963.7" cy="199.3" r="2.1"/><circle cx="877.2" cy="217.7" r="2.1"/><circle cx="937.9" cy="193.6" r="2.1"/><circle cx="920.1" cy="212.0" r="2.1"/><circle cx="938.4" cy="157.5" r="2.1"/><circle cx="870.6" cy="289.5" r="2.1"/><circle cx="936.7" cy="262.6" r="2.1"/><circle cx="894.1" cy="195.3" r="2.1"/><circle cx="919.6" cy="292.6" r="2.1"/><circle cx="886.2" cy="175.4" r="2.1"/><circle cx="881.9" cy="201.9" r="2.1"/><circle cx="951.7" cy="260.6" r="2.1"/><circle cx="912.6" cy="251.6" r="2.1"/><circle cx="972.6" cy="231.0" r="2.1"/><circle cx="905.0" cy="290.4" r="2.1"/><circle cx="947.4" cy="201.2" r="2.1"/><circle cx="923.1" cy="232.1" r="2.1"/><circle cx="916.0" cy="292.3" r="2.1"/><circle cx="863.9" cy="239.5" r="2.1"/><circle cx="916.1" cy="174.2" r="2.1"/><circle cx="964.1" cy="181.7" r="2.1"/><circle cx="929.1" cy="264.3" r="2.1"/><circle cx="937.1" cy="227.6" r="2.1"/><circle cx="918.5" cy="177.7" r="2.1"/><circle cx="906.5" cy="296.3" r="2.1"/><circle cx="889.9" cy="286.9" r="2.1"/><circle cx="948.0" cy="195.2" r="2.1"/><circle cx="965.4" cy="235.9" r="2.1"/><circle cx="947.2" cy="198.7" r="2.1"/><circle cx="892.8" cy="226.8" r="2.1"/><circle cx="957.4" cy="191.3" r="2.1"/><circle cx="870.3" cy="182.4" r="2.1"/><circle cx="951.4" cy="217.6" r="2.1"/><circle cx="890.2" cy="175.4" r="2.1"/><circle cx="958.1" cy="226.1" r="2.1"/><circle cx="927.9" cy="246.3" r="2.1"/><circle cx="949.2" cy="224.4" r="2.1"/><circle cx="976.7" cy="251.8" r="2.1"/><circle cx="925.8" cy="156.7" r="2.1"/><circle cx="867.9" cy="267.3" r="2.1"/><circle cx="975.8" cy="207.5" r="2.1"/><circle cx="860.3" cy="236.9" r="2.1"/><circle cx="876.3" cy="172.3" r="2.1"/><circle cx="952.9" cy="167.2" r="2.1"/><circle cx="923.2" cy="197.8" r="2.1"/><circle cx="918.1" cy="256.5" r="2.1"/><circle cx="1000.3" cy="196.2" r="2.1"/><circle cx="891.6" cy="276.8" r="2.1"/><circle cx="886.8" cy="203.8" r="2.1"/><circle cx="959.4" cy="187.5" r="2.1"/><circle cx="882.9" cy="243.1" r="2.1"/><circle cx="936.9" cy="255.3" r="2.1"/><circle cx="895.0" cy="242.0" r="2.1"/><circle cx="993.2" cy="159.2" r="2.1"/><circle cx="928.1" cy="264.2" r="2.1"/><circle cx="978.5" cy="191.2" r="2.1"/><circle cx="949.4" cy="237.3" r="2.1"/><circle cx="920.3" cy="274.2" r="2.1"/><circle cx="918.8" cy="294.2" r="2.1"/><circle cx="903.5" cy="293.0" r="2.1"/><circle cx="921.6" cy="166.4" r="2.1"/><circle cx="890.8" cy="184.3" r="2.1"/><circle cx="929.2" cy="217.8" r="2.1"/><circle cx="906.9" cy="295.4" r="2.1"/><circle cx="936.6" cy="209.7" r="2.1"/><circle cx="978.4" cy="231.2" r="2.1"/><circle cx="889.8" cy="241.1" r="2.1"/><circle cx="954.5" cy="162.3" r="2.1"/><circle cx="888.4" cy="176.4" r="2.1"/><circle cx="969.6" cy="190.4" r="2.1"/><circle cx="918.6" cy="293.9" r="2.1"/><circle cx="885.7" cy="260.2" r="2.1"/><circle cx="921.4" cy="296.0" r="2.1"/><circle cx="930.0" cy="185.9" r="2.1"/><circle cx="854.1" cy="267.4" r="2.1"/><circle cx="981.0" cy="241.6" r="2.1"/><circle cx="908.6" cy="295.7" r="2.1"/><circle cx="927.8" cy="258.2" r="2.1"/><circle cx="875.6" cy="225.4" r="2.1"/><circle cx="925.1" cy="243.0" r="2.1"/><circle cx="889.8" cy="200.3" r="2.1"/><circle cx="923.3" cy="205.2" r="2.1"/><circle cx="942.1" cy="156.3" r="2.1"/><circle cx="907.9" cy="297.3" r="2.1"/><circle cx="901.2" cy="288.2" r="2.1"/><circle cx="955.1" cy="197.0" r="2.1"/><circle cx="838.0" cy="155.3" r="2.1"/><circle cx="930.6" cy="218.3" r="2.1"/><circle cx="937.6" cy="170.4" r="2.1"/><circle cx="922.0" cy="293.0" r="2.1"/><circle cx="871.5" cy="292.9" r="2.1"/><circle cx="927.3" cy="216.6" r="2.1"/><circle cx="956.5" cy="211.5" r="2.1"/><circle cx="922.9" cy="269.4" r="2.1"/><circle cx="930.7" cy="250.9" r="2.1"/><circle cx="947.2" cy="188.9" r="2.1"/><circle cx="869.6" cy="176.7" r="2.1"/><circle cx="963.3" cy="208.2" r="2.1"/><circle cx="918.9" cy="163.2" r="2.1"/><circle cx="889.6" cy="155.1" r="2.1"/><circle cx="948.8" cy="259.2" r="2.1"/><circle cx="932.9" cy="229.5" r="2.1"/><circle cx="966.5" cy="165.0" r="2.1"/><circle cx="955.0" cy="250.8" r="2.1"/><circle cx="961.8" cy="226.9" r="2.1"/><circle cx="873.2" cy="288.7" r="2.1"/><circle cx="923.9" cy="279.9" r="2.1"/><circle cx="875.1" cy="175.3" r="2.1"/><circle cx="868.5" cy="283.2" r="2.1"/><circle cx="875.8" cy="176.9" r="2.1"/><circle cx="942.6" cy="238.8" r="2.1"/><circle cx="894.9" cy="182.6" r="2.1"/><circle cx="858.7" cy="191.4" r="2.1"/><circle cx="984.2" cy="200.5" r="2.1"/><circle cx="952.3" cy="216.9" r="2.1"/><circle cx="953.0" cy="277.8" r="2.1"/><circle cx="855.5" cy="259.9" r="2.1"/><circle cx="901.0" cy="225.3" r="2.1"/><circle cx="880.3" cy="179.0" r="2.1"/><circle cx="866.2" cy="258.1" r="2.1"/><circle cx="898.1" cy="153.2" r="2.1"/><circle cx="935.0" cy="254.6" r="2.1"/><circle cx="879.3" cy="241.7" r="2.1"/><circle cx="978.0" cy="242.5" r="2.1"/><circle cx="924.9" cy="281.3" r="2.1"/><circle cx="922.8" cy="193.1" r="2.1"/><circle cx="927.1" cy="201.0" r="2.1"/><circle cx="871.4" cy="224.7" r="2.1"/><circle cx="907.3" cy="297.1" r="2.1"/><circle cx="956.1" cy="247.9" r="2.1"/><circle cx="902.1" cy="270.8" r="2.1"/><circle cx="1010.4" cy="198.7" r="2.1"/><circle cx="930.5" cy="167.7" r="2.1"/><circle cx="946.6" cy="268.4" r="2.1"/><circle cx="957.3" cy="196.6" r="2.1"/><circle cx="862.8" cy="261.1" r="2.1"/><circle cx="953.8" cy="240.2" r="2.1"/><circle cx="861.9" cy="280.8" r="2.1"/><circle cx="938.1" cy="256.7" r="2.1"/><circle cx="884.9" cy="199.7" r="2.1"/><circle cx="979.9" cy="179.0" r="2.1"/><circle cx="964.8" cy="241.5" r="2.1"/><circle cx="957.4" cy="239.1" r="2.1"/><circle cx="862.7" cy="186.0" r="2.1"/><circle cx="889.4" cy="210.9" r="2.1"/><circle cx="946.1" cy="185.8" r="2.1"/><circle cx="967.5" cy="204.0" r="2.1"/><circle cx="964.4" cy="252.3" r="2.1"/><circle cx="912.5" cy="210.4" r="2.1"/><circle cx="883.3" cy="210.7" r="2.1"/><circle cx="914.3" cy="295.4" r="2.1"/><circle cx="884.7" cy="264.0" r="2.1"/><circle cx="952.8" cy="200.0" r="2.1"/><circle cx="985.3" cy="190.3" r="2.1"/><circle cx="925.9" cy="216.2" r="2.1"/><circle cx="848.9" cy="198.7" r="2.1"/><circle cx="852.0" cy="215.9" r="2.1"/><circle cx="938.3" cy="218.1" r="2.1"/><circle cx="883.2" cy="174.5" r="2.1"/><circle cx="883.2" cy="222.6" r="2.1"/><circle cx="861.9" cy="190.0" r="2.1"/><circle cx="887.1" cy="288.5" r="2.1"/><circle cx="944.1" cy="210.1" r="2.1"/><circle cx="897.4" cy="279.9" r="2.1"/><circle cx="874.0" cy="287.8" r="2.1"/><circle cx="936.9" cy="194.3" r="2.1"/><circle cx="951.3" cy="162.4" r="2.1"/><circle cx="970.6" cy="164.2" r="2.1"/><circle cx="853.0" cy="162.8" r="2.1"/><circle cx="953.3" cy="227.1" r="2.1"/><circle cx="972.4" cy="199.2" r="2.1"/><circle cx="864.1" cy="218.0" r="2.1"/><circle cx="939.5" cy="234.1" r="2.1"/><circle cx="866.1" cy="224.9" r="2.1"/><circle cx="913.6" cy="217.1" r="2.1"/><circle cx="928.6" cy="239.7" r="2.1"/><circle cx="923.1" cy="259.7" r="2.1"/><circle cx="949.0" cy="242.6" r="2.1"/><circle cx="878.4" cy="237.8" r="2.1"/><circle cx="966.1" cy="265.5" r="2.1"/><circle cx="971.8" cy="202.3" r="2.1"/><circle cx="892.8" cy="294.6" r="2.1"/><circle cx="855.6" cy="233.8" r="2.1"/><circle cx="919.1" cy="239.1" r="2.1"/><circle cx="892.0" cy="272.3" r="2.1"/><circle cx="883.3" cy="263.1" r="2.1"/><circle cx="943.8" cy="234.0" r="2.1"/><circle cx="937.7" cy="268.5" r="2.1"/><circle cx="838.7" cy="251.9" r="2.1"/><circle cx="911.8" cy="293.5" r="2.1"/><circle cx="945.7" cy="211.1" r="2.1"/><circle cx="893.0" cy="183.9" r="2.1"/><circle cx="922.8" cy="195.1" r="2.1"/><circle cx="908.4" cy="295.1" r="2.1"/><circle cx="938.0" cy="199.6" r="2.1"/><circle cx="921.6" cy="269.8" r="2.1"/><circle cx="909.8" cy="275.9" r="2.1"/><circle cx="952.0" cy="230.5" r="2.1"/><circle cx="923.5" cy="295.2" r="2.1"/><circle cx="884.6" cy="219.0" r="2.1"/><circle cx="899.8" cy="276.5" r="2.1"/><circle cx="919.7" cy="292.7" r="2.1"/><circle cx="941.0" cy="267.5" r="2.1"/><circle cx="946.8" cy="195.0" r="2.1"/><circle cx="954.2" cy="187.7" r="2.1"/><circle cx="943.7" cy="235.2" r="2.1"/><circle cx="883.7" cy="184.3" r="2.1"/><circle cx="901.8" cy="265.5" r="2.1"/><circle cx="858.5" cy="265.7" r="2.1"/><circle cx="907.3" cy="297.4" r="2.1"/><circle cx="971.0" cy="237.2" r="2.1"/><circle cx="891.4" cy="189.3" r="2.1"/><circle cx="862.9" cy="181.9" r="2.1"/><circle cx="936.6" cy="182.6" r="2.1"/><circle cx="920.0" cy="183.7" r="2.1"/><circle cx="912.7" cy="226.4" r="2.1"/><circle cx="957.4" cy="234.8" r="2.1"/><circle cx="950.0" cy="180.0" r="2.1"/><circle cx="909.5" cy="293.3" r="2.1"/><circle cx="871.6" cy="261.0" r="2.1"/><circle cx="967.0" cy="227.0" r="2.1"/><circle cx="906.4" cy="297.2" r="2.1"/><circle cx="912.5" cy="252.8" r="2.1"/><circle cx="871.9" cy="173.3" r="2.1"/><circle cx="877.9" cy="277.2" r="2.1"/><circle cx="961.1" cy="176.3" r="2.1"/><circle cx="884.0" cy="209.9" r="2.1"/><circle cx="964.5" cy="196.3" r="2.1"/><circle cx="950.2" cy="232.7" r="2.1"/><circle cx="891.1" cy="171.5" r="2.1"/><circle cx="964.7" cy="203.9" r="2.1"/><circle cx="952.1" cy="164.9" r="2.1"/><circle cx="963.2" cy="210.5" r="2.1"/><circle cx="914.7" cy="180.9" r="2.1"/><circle cx="959.8" cy="198.5" r="2.1"/><circle cx="932.8" cy="190.0" r="2.1"/><circle cx="853.6" cy="247.8" r="2.1"/><circle cx="941.8" cy="270.7" r="2.1"/><circle cx="906.1" cy="297.5" r="2.1"/><circle cx="859.7" cy="206.4" r="2.1"/><circle cx="883.1" cy="263.2" r="2.1"/><circle cx="874.5" cy="227.1" r="2.1"/><circle cx="931.8" cy="249.2" r="2.1"/><circle cx="927.3" cy="241.4" r="2.1"/><circle cx="976.9" cy="164.0" r="2.1"/><circle cx="859.2" cy="269.7" r="2.1"/><circle cx="907.1" cy="297.6" r="2.1"/><circle cx="955.4" cy="248.2" r="2.1"/><circle cx="854.7" cy="284.0" r="2.1"/><circle cx="937.0" cy="188.8" r="2.1"/><circle cx="885.3" cy="177.5" r="2.1"/><circle cx="911.3" cy="286.1" r="2.1"/><circle cx="938.2" cy="276.9" r="2.1"/><circle cx="915.6" cy="185.7" r="2.1"/><circle cx="890.5" cy="193.3" r="2.1"/><circle cx="897.7" cy="224.2" r="2.1"/><circle cx="916.2" cy="172.5" r="2.1"/><circle cx="951.2" cy="206.2" r="2.1"/><circle cx="851.6" cy="195.7" r="2.1"/><circle cx="887.4" cy="287.0" r="2.1"/><circle cx="953.0" cy="213.2" r="2.1"/><circle cx="890.5" cy="249.2" r="2.1"/><circle cx="918.8" cy="206.1" r="2.1"/><circle cx="974.2" cy="184.2" r="2.1"/><circle cx="849.3" cy="245.2" r="2.1"/><circle cx="936.4" cy="239.9" r="2.1"/><circle cx="888.7" cy="248.2" r="2.1"/><circle cx="879.4" cy="221.3" r="2.1"/><circle cx="901.8" cy="267.7" r="2.1"/><circle cx="889.3" cy="243.9" r="2.1"/><circle cx="946.9" cy="170.4" r="2.1"/><circle cx="920.1" cy="280.5" r="2.1"/><circle cx="907.0" cy="297.4" r="2.1"/><circle cx="954.6" cy="230.6" r="2.1"/><circle cx="950.4" cy="224.8" r="2.1"/><circle cx="858.3" cy="267.7" r="2.1"/><circle cx="912.7" cy="289.3" r="2.1"/><circle cx="908.1" cy="295.8" r="2.1"/><circle cx="907.8" cy="294.2" r="2.1"/><circle cx="861.5" cy="283.1" r="2.1"/><circle cx="961.7" cy="176.1" r="2.1"/><circle cx="953.2" cy="265.1" r="2.1"/><circle cx="968.9" cy="207.1" r="2.1"/><circle cx="906.3" cy="292.2" r="2.1"/><circle cx="917.3" cy="265.4" r="2.1"/><circle cx="994.6" cy="170.3" r="2.1"/><circle cx="884.0" cy="267.9" r="2.1"/><circle cx="928.3" cy="246.9" r="2.1"/><circle cx="876.5" cy="250.4" r="2.1"/><circle cx="907.2" cy="296.9" r="2.1"/><circle cx="861.0" cy="239.9" r="2.1"/><circle cx="938.7" cy="287.2" r="2.1"/><circle cx="874.4" cy="173.4" r="2.1"/><circle cx="882.5" cy="292.8" r="2.1"/><circle cx="945.9" cy="240.9" r="2.1"/><circle cx="904.1" cy="294.2" r="2.1"/><circle cx="858.2" cy="234.1" r="2.1"/><circle cx="881.1" cy="222.6" r="2.1"/><circle cx="890.8" cy="275.4" r="2.1"/><circle cx="974.6" cy="254.9" r="2.1"/><circle cx="950.5" cy="158.4" r="2.1"/><circle cx="998.7" cy="221.0" r="2.1"/><circle cx="868.6" cy="179.1" r="2.1"/><circle cx="944.4" cy="267.5" r="2.1"/><circle cx="984.1" cy="222.1" r="2.1"/><circle cx="923.2" cy="204.9" r="2.1"/><circle cx="953.7" cy="182.4" r="2.1"/><circle cx="895.4" cy="175.7" r="2.1"/><circle cx="895.7" cy="229.5" r="2.1"/><circle cx="844.8" cy="231.9" r="2.1"/><circle cx="879.2" cy="256.3" r="2.1"/><circle cx="893.1" cy="293.1" r="2.1"/><circle cx="908.3" cy="293.9" r="2.1"/><circle cx="944.4" cy="270.7" r="2.1"/><circle cx="914.4" cy="280.1" r="2.1"/><circle cx="865.0" cy="183.6" r="2.1"/><circle cx="977.9" cy="236.0" r="2.1"/><circle cx="949.5" cy="275.2" r="2.1"/><circle cx="937.7" cy="167.8" r="2.1"/><circle cx="970.6" cy="235.3" r="2.1"/><circle cx="869.3" cy="199.4" r="2.1"/><circle cx="858.4" cy="247.5" r="2.1"/><circle cx="912.4" cy="192.1" r="2.1"/><circle cx="959.3" cy="193.7" r="2.1"/><circle cx="978.8" cy="198.4" r="2.1"/><circle cx="862.9" cy="188.5" r="2.1"/><circle cx="861.6" cy="214.3" r="2.1"/><circle cx="906.3" cy="296.4" r="2.1"/><circle cx="867.4" cy="265.8" r="2.1"/><circle cx="954.5" cy="211.2" r="2.1"/><circle cx="973.5" cy="254.6" r="2.1"/><circle cx="905.0" cy="291.1" r="2.1"/><circle cx="862.4" cy="284.4" r="2.1"/><circle cx="945.8" cy="204.1" r="2.1"/><circle cx="942.0" cy="193.7" r="2.1"/><circle cx="929.7" cy="282.2" r="2.1"/><circle cx="945.3" cy="259.8" r="2.1"/><circle cx="887.1" cy="192.9" r="2.1"/><circle cx="940.7" cy="251.7" r="2.1"/><circle cx="863.1" cy="237.7" r="2.1"/><circle cx="863.0" cy="239.4" r="2.1"/><circle cx="927.2" cy="211.8" r="2.1"/><circle cx="910.0" cy="294.7" r="2.1"/><circle cx="926.9" cy="190.7" r="2.1"/><circle cx="916.4" cy="286.1" r="2.1"/><circle cx="863.0" cy="200.7" r="2.1"/><circle cx="916.7" cy="285.8" r="2.1"/><circle cx="940.6" cy="168.8" r="2.1"/><circle cx="940.5" cy="205.9" r="2.1"/><circle cx="863.9" cy="247.7" r="2.1"/><circle cx="956.7" cy="163.8" r="2.1"/><circle cx="918.2" cy="272.9" r="2.1"/><circle cx="950.7" cy="244.5" r="2.1"/><circle cx="974.7" cy="238.9" r="2.1"/><circle cx="927.0" cy="286.1" r="2.1"/><circle cx="893.8" cy="241.5" r="2.1"/><circle cx="852.7" cy="181.7" r="2.1"/><circle cx="921.2" cy="288.4" r="2.1"/><circle cx="986.9" cy="232.1" r="2.1"/><circle cx="930.0" cy="216.5" r="2.1"/><circle cx="901.6" cy="286.9" r="2.1"/><circle cx="938.5" cy="236.6" r="2.1"/><circle cx="855.7" cy="255.9" r="2.1"/><circle cx="937.3" cy="276.8" r="2.1"/><circle cx="947.3" cy="186.1" r="2.1"/><circle cx="895.9" cy="240.7" r="2.1"/><circle cx="856.6" cy="240.9" r="2.1"/><circle cx="900.5" cy="278.3" r="2.1"/><circle cx="871.6" cy="278.6" r="2.1"/><circle cx="951.2" cy="251.5" r="2.1"/><circle cx="908.5" cy="295.2" r="2.1"/><circle cx="956.1" cy="160.8" r="2.1"/><circle cx="862.7" cy="255.7" r="2.1"/><circle cx="861.9" cy="255.8" r="2.1"/><circle cx="871.2" cy="207.6" r="2.1"/><circle cx="973.6" cy="179.0" r="2.1"/><circle cx="873.1" cy="235.9" r="2.1"/><circle cx="943.2" cy="169.6" r="2.1"/><circle cx="919.3" cy="280.2" r="2.1"/><circle cx="962.6" cy="215.9" r="2.1"/><circle cx="951.1" cy="191.3" r="2.1"/><circle cx="936.3" cy="186.6" r="2.1"/><circle cx="865.8" cy="239.0" r="2.1"/><circle cx="897.5" cy="261.0" r="2.1"/><circle cx="991.0" cy="251.6" r="2.1"/><circle cx="888.3" cy="252.0" r="2.1"/><circle cx="934.2" cy="194.6" r="2.1"/><circle cx="879.4" cy="221.6" r="2.1"/><circle cx="862.9" cy="234.1" r="2.1"/><circle cx="936.2" cy="245.6" r="2.1"/><circle cx="945.3" cy="226.2" r="2.1"/><circle cx="984.0" cy="241.5" r="2.1"/><circle cx="908.6" cy="292.0" r="2.1"/><circle cx="949.3" cy="220.9" r="2.1"/><circle cx="865.7" cy="228.0" r="2.1"/><circle cx="911.8" cy="297.2" r="2.1"/><circle cx="899.7" cy="193.1" r="2.1"/><circle cx="886.2" cy="180.0" r="2.1"/><circle cx="928.7" cy="181.8" r="2.1"/><circle cx="875.9" cy="263.6" r="2.1"/><circle cx="953.4" cy="184.4" r="2.1"/><circle cx="921.4" cy="233.6" r="2.1"/><circle cx="905.5" cy="296.6" r="2.1"/><circle cx="949.4" cy="185.8" r="2.1"/><circle cx="989.5" cy="226.2" r="2.1"/><circle cx="879.1" cy="218.0" r="2.1"/><circle cx="937.2" cy="252.4" r="2.1"/><circle cx="955.8" cy="202.7" r="2.1"/><circle cx="906.5" cy="292.0" r="2.1"/><circle cx="933.7" cy="265.1" r="2.1"/><circle cx="918.3" cy="236.1" r="2.1"/><circle cx="961.3" cy="199.8" r="2.1"/><circle cx="906.4" cy="294.0" r="2.1"/><circle cx="841.1" cy="207.3" r="2.1"/><circle cx="887.0" cy="225.9" r="2.1"/><circle cx="865.4" cy="243.2" r="2.1"/><circle cx="920.8" cy="284.2" r="2.1"/><circle cx="857.9" cy="238.0" r="2.1"/><circle cx="908.7" cy="294.6" r="2.1"/><circle cx="952.5" cy="256.3" r="2.1"/><circle cx="971.2" cy="206.2" r="2.1"/><circle cx="873.0" cy="235.6" r="2.1"/><circle cx="942.0" cy="248.4" r="2.1"/><circle cx="955.5" cy="222.9" r="2.1"/><circle cx="864.5" cy="258.9" r="2.1"/><circle cx="938.5" cy="201.7" r="2.1"/><circle cx="965.3" cy="169.2" r="2.1"/><circle cx="943.1" cy="197.7" r="2.1"/><circle cx="906.7" cy="296.2" r="2.1"/><circle cx="885.3" cy="197.3" r="2.1"/><circle cx="922.8" cy="278.2" r="2.1"/><circle cx="906.2" cy="290.5" r="2.1"/><circle cx="936.3" cy="183.3" r="2.1"/><circle cx="962.0" cy="248.7" r="2.1"/><circle cx="885.4" cy="208.8" r="2.1"/><circle cx="937.2" cy="248.9" r="2.1"/><circle cx="924.7" cy="278.8" r="2.1"/><circle cx="934.0" cy="278.7" r="2.1"/><circle cx="930.2" cy="182.9" r="2.1"/><circle cx="839.4" cy="153.7" r="2.1"/><circle cx="880.6" cy="175.1" r="2.1"/><circle cx="951.6" cy="257.4" r="2.1"/><circle cx="893.6" cy="226.0" r="2.1"/><circle cx="891.6" cy="206.5" r="2.1"/><circle cx="947.3" cy="236.2" r="2.1"/><circle cx="927.9" cy="233.9" r="2.1"/><circle cx="929.6" cy="229.5" r="2.1"/><circle cx="882.5" cy="248.9" r="2.1"/><circle cx="861.8" cy="286.1" r="2.1"/><circle cx="950.6" cy="244.4" r="2.1"/><circle cx="941.0" cy="277.4" r="2.1"/><circle cx="970.5" cy="211.4" r="2.1"/><circle cx="875.7" cy="172.9" r="2.1"/><circle cx="935.0" cy="248.0" r="2.1"/><circle cx="911.9" cy="240.3" r="2.1"/><circle cx="957.9" cy="186.1" r="2.1"/><circle cx="961.9" cy="172.4" r="2.1"/><circle cx="947.0" cy="249.0" r="2.1"/><circle cx="915.8" cy="289.3" r="2.1"/><circle cx="900.5" cy="272.3" r="2.1"/><circle cx="908.4" cy="296.7" r="2.1"/><circle cx="876.8" cy="230.5" r="2.1"/><circle cx="974.3" cy="197.6" r="2.1"/><circle cx="919.3" cy="245.3" r="2.1"/><circle cx="950.1" cy="180.3" r="2.1"/><circle cx="922.5" cy="238.3" r="2.1"/><circle cx="896.0" cy="270.1" r="2.1"/><circle cx="904.9" cy="292.3" r="2.1"/><circle cx="944.9" cy="222.0" r="2.1"/><circle cx="907.7" cy="293.4" r="2.1"/><circle cx="882.3" cy="200.7" r="2.1"/><circle cx="947.3" cy="180.0" r="2.1"/><circle cx="906.4" cy="295.3" r="2.1"/><circle cx="944.2" cy="261.9" r="2.1"/><circle cx="922.2" cy="252.8" r="2.1"/><circle cx="967.1" cy="266.2" r="2.1"/><circle cx="876.6" cy="210.5" r="2.1"/><circle cx="907.2" cy="297.5" r="2.1"/><circle cx="883.0" cy="174.1" r="2.1"/><circle cx="880.6" cy="276.8" r="2.1"/><circle cx="927.0" cy="172.7" r="2.1"/><circle cx="903.6" cy="294.9" r="2.1"/><circle cx="904.9" cy="292.1" r="2.1"/><circle cx="971.5" cy="222.4" r="2.1"/><circle cx="947.5" cy="210.6" r="2.1"/><circle cx="938.3" cy="267.8" r="2.1"/><circle cx="938.2" cy="208.8" r="2.1"/><circle cx="952.4" cy="233.2" r="2.1"/><circle cx="903.8" cy="296.0" r="2.1"/><circle cx="913.8" cy="227.9" r="2.1"/><circle cx="909.4" cy="293.8" r="2.1"/><circle cx="900.4" cy="281.0" r="2.1"/><circle cx="962.9" cy="261.2" r="2.1"/><circle cx="931.1" cy="173.8" r="2.1"/><circle cx="959.2" cy="180.2" r="2.1"/><circle cx="940.3" cy="191.3" r="2.1"/><circle cx="908.1" cy="293.0" r="2.1"/><circle cx="957.0" cy="200.2" r="2.1"/><circle cx="922.6" cy="189.8" r="2.1"/><circle cx="967.1" cy="249.8" r="2.1"/><circle cx="982.1" cy="220.8" r="2.1"/><circle cx="895.7" cy="273.3" r="2.1"/><circle cx="876.2" cy="231.2" r="2.1"/><circle cx="874.3" cy="176.6" r="2.1"/><circle cx="941.6" cy="211.6" r="2.1"/><circle cx="885.8" cy="218.1" r="2.1"/><circle cx="859.4" cy="278.0" r="2.1"/><circle cx="1009.6" cy="176.6" r="2.1"/><circle cx="892.4" cy="296.7" r="2.1"/><circle cx="966.0" cy="213.1" r="2.1"/><circle cx="898.6" cy="231.6" r="2.1"/><circle cx="894.6" cy="257.4" r="2.1"/><circle cx="876.7" cy="185.8" r="2.1"/><circle cx="958.0" cy="173.9" r="2.1"/><circle cx="994.8" cy="184.9" r="2.1"/><circle cx="886.5" cy="203.3" r="2.1"/><circle cx="952.5" cy="168.1" r="2.1"/><circle cx="894.0" cy="255.3" r="2.1"/><circle cx="916.2" cy="223.6" r="2.1"/><circle cx="952.0" cy="199.6" r="2.1"/><circle cx="960.8" cy="183.8" r="2.1"/><circle cx="892.8" cy="229.8" r="2.1"/><circle cx="874.7" cy="260.6" r="2.1"/><circle cx="924.9" cy="284.5" r="2.1"/><circle cx="863.5" cy="266.3" r="2.1"/><circle cx="876.9" cy="236.9" r="2.1"/><circle cx="904.0" cy="292.8" r="2.1"/><circle cx="928.0" cy="281.5" r="2.1"/><circle cx="950.8" cy="162.0" r="2.1"/><circle cx="926.1" cy="245.0" r="2.1"/><circle cx="924.8" cy="203.8" r="2.1"/><circle cx="928.2" cy="249.9" r="2.1"/><circle cx="957.1" cy="188.5" r="2.1"/><circle cx="902.7" cy="297.5" r="2.1"/><circle cx="896.2" cy="223.7" r="2.1"/><circle cx="968.2" cy="224.3" r="2.1"/><circle cx="879.2" cy="211.7" r="2.1"/><circle cx="939.7" cy="226.7" r="2.1"/><circle cx="926.6" cy="196.2" r="2.1"/><circle cx="938.4" cy="238.0" r="2.1"/><circle cx="904.7" cy="294.5" r="2.1"/><circle cx="912.1" cy="281.7" r="2.1"/><circle cx="916.8" cy="173.3" r="2.1"/><circle cx="906.7" cy="295.1" r="2.1"/><circle cx="937.4" cy="172.3" r="2.1"/><circle cx="862.4" cy="249.5" r="2.1"/><circle cx="909.2" cy="292.0" r="2.1"/><circle cx="870.1" cy="179.1" r="2.1"/><circle cx="944.2" cy="218.1" r="2.1"/><circle cx="947.9" cy="181.5" r="2.1"/><circle cx="904.6" cy="295.4" r="2.1"/><circle cx="926.0" cy="256.1" r="2.1"/><circle cx="896.5" cy="211.0" r="2.1"/><circle cx="968.5" cy="169.0" r="2.1"/><circle cx="887.5" cy="249.2" r="2.1"/><circle cx="930.6" cy="194.4" r="2.1"/><circle cx="889.5" cy="236.6" r="2.1"/><circle cx="942.8" cy="281.7" r="2.1"/><circle cx="908.1" cy="291.1" r="2.1"/><circle cx="875.3" cy="194.9" r="2.1"/><circle cx="855.9" cy="178.0" r="2.1"/><circle cx="935.6" cy="205.8" r="2.1"/><circle cx="916.0" cy="277.6" r="2.1"/><circle cx="973.1" cy="216.5" r="2.1"/><circle cx="941.0" cy="285.2" r="2.1"/><circle cx="894.7" cy="251.2" r="2.1"/><circle cx="979.9" cy="174.9" r="2.1"/><circle cx="960.8" cy="168.3" r="2.1"/><circle cx="851.0" cy="278.9" r="2.1"/><circle cx="949.2" cy="199.7" r="2.1"/><circle cx="945.6" cy="203.7" r="2.1"/><circle cx="875.3" cy="218.6" r="2.1"/><circle cx="956.7" cy="184.1" r="2.1"/><circle cx="906.7" cy="295.2" r="2.1"/><circle cx="954.1" cy="192.9" r="2.1"/><circle cx="909.4" cy="294.7" r="2.1"/><circle cx="862.4" cy="233.7" r="2.1"/><circle cx="906.0" cy="291.0" r="2.1"/><circle cx="941.9" cy="220.6" r="2.1"/><circle cx="954.4" cy="213.0" r="2.1"/><circle cx="965.7" cy="219.4" r="2.1"/><circle cx="905.0" cy="294.9" r="2.1"/><circle cx="901.6" cy="239.5" r="2.1"/><circle cx="899.2" cy="220.2" r="2.1"/><circle cx="861.0" cy="189.8" r="2.1"/><circle cx="924.8" cy="251.8" r="2.1"/><circle cx="943.7" cy="227.8" r="2.1"/><circle cx="949.9" cy="243.5" r="2.1"/><circle cx="916.2" cy="297.6" r="2.1"/><circle cx="864.6" cy="278.6" r="2.1"/><circle cx="864.7" cy="276.8" r="2.1"/><circle cx="879.3" cy="264.1" r="2.1"/><circle cx="885.4" cy="173.9" r="2.1"/><circle cx="938.5" cy="270.7" r="2.1"/><circle cx="893.9" cy="293.5" r="2.1"/><circle cx="854.9" cy="208.1" r="2.1"/><circle cx="915.0" cy="199.5" r="2.1"/><circle cx="956.6" cy="195.3" r="2.1"/><circle cx="977.5" cy="183.3" r="2.1"/><circle cx="906.9" cy="294.5" r="2.1"/><circle cx="871.6" cy="217.6" r="2.1"/><circle cx="861.4" cy="257.5" r="2.1"/><circle cx="886.6" cy="264.8" r="2.1"/><circle cx="956.4" cy="215.5" r="2.1"/><circle cx="905.3" cy="293.9" r="2.1"/><circle cx="938.5" cy="190.1" r="2.1"/><circle cx="939.6" cy="183.4" r="2.1"/><circle cx="955.1" cy="207.8" r="2.1"/><circle cx="942.6" cy="212.5" r="2.1"/><circle cx="963.6" cy="261.3" r="2.1"/><circle cx="922.5" cy="168.7" r="2.1"/><circle cx="853.9" cy="227.4" r="2.1"/><circle cx="909.4" cy="294.5" r="2.1"/><circle cx="904.0" cy="295.5" r="2.1"/><circle cx="906.4" cy="295.7" r="2.1"/><circle cx="960.7" cy="235.2" r="2.1"/><circle cx="943.4" cy="186.0" r="2.1"/><circle cx="960.5" cy="193.5" r="2.1"/><circle cx="874.1" cy="179.4" r="2.1"/><circle cx="938.9" cy="181.8" r="2.1"/><circle cx="918.0" cy="186.0" r="2.1"/><circle cx="921.4" cy="226.2" r="2.1"/><circle cx="944.0" cy="259.6" r="2.1"/><circle cx="936.9" cy="215.2" r="2.1"/><circle cx="944.1" cy="214.0" r="2.1"/><circle cx="866.3" cy="249.1" r="2.1"/><circle cx="896.5" cy="263.8" r="2.1"/><circle cx="906.5" cy="291.0" r="2.1"/><circle cx="903.2" cy="285.2" r="2.1"/><circle cx="856.8" cy="222.5" r="2.1"/><circle cx="898.5" cy="195.9" r="2.1"/><circle cx="909.0" cy="290.2" r="2.1"/><circle cx="894.0" cy="190.8" r="2.1"/><circle cx="936.5" cy="182.7" r="2.1"/><circle cx="906.2" cy="292.9" r="2.1"/><circle cx="938.5" cy="175.2" r="2.1"/><circle cx="918.5" cy="232.3" r="2.1"/><circle cx="852.7" cy="171.5" r="2.1"/><circle cx="980.7" cy="169.2" r="2.1"/><circle cx="936.0" cy="159.4" r="2.1"/><circle cx="920.7" cy="266.9" r="2.1"/><circle cx="923.0" cy="274.9" r="2.1"/><circle cx="913.2" cy="288.0" r="2.1"/><circle cx="959.2" cy="189.6" r="2.1"/><circle cx="940.2" cy="220.4" r="2.1"/><circle cx="893.7" cy="280.0" r="2.1"/><circle cx="959.3" cy="167.9" r="2.1"/><circle cx="901.0" cy="209.4" r="2.1"/><circle cx="923.5" cy="225.5" r="2.1"/><circle cx="947.5" cy="226.0" r="2.1"/><circle cx="954.3" cy="226.8" r="2.1"/><circle cx="892.7" cy="200.0" r="2.1"/><circle cx="955.8" cy="226.2" r="2.1"/><circle cx="969.3" cy="227.0" r="2.1"/><circle cx="899.1" cy="206.9" r="2.1"/><circle cx="964.7" cy="184.3" r="2.1"/><circle cx="917.9" cy="161.7" r="2.1"/><circle cx="914.5" cy="237.5" r="2.1"/><circle cx="938.3" cy="273.8" r="2.1"/><circle cx="968.1" cy="222.3" r="2.1"/><circle cx="945.8" cy="235.8" r="2.1"/><circle cx="968.5" cy="214.8" r="2.1"/><circle cx="861.3" cy="201.3" r="2.1"/><circle cx="927.7" cy="283.9" r="2.1"/><circle cx="857.1" cy="247.9" r="2.1"/><circle cx="919.0" cy="221.8" r="2.1"/><circle cx="881.8" cy="223.6" r="2.1"/><circle cx="868.8" cy="284.8" r="2.1"/><circle cx="900.6" cy="231.8" r="2.1"/><circle cx="946.6" cy="215.4" r="2.1"/><circle cx="950.2" cy="167.4" r="2.1"/><circle cx="915.1" cy="192.0" r="2.1"/><circle cx="930.6" cy="279.1" r="2.1"/><circle cx="965.4" cy="161.0" r="2.1"/><circle cx="914.9" cy="284.8" r="2.1"/><circle cx="959.2" cy="192.0" r="2.1"/><circle cx="966.5" cy="234.7" r="2.1"/><circle cx="951.7" cy="217.8" r="2.1"/><circle cx="955.3" cy="157.2" r="2.1"/><circle cx="923.1" cy="255.8" r="2.1"/><circle cx="897.0" cy="208.9" r="2.1"/><circle cx="923.8" cy="256.0" r="2.1"/><circle cx="910.8" cy="235.5" r="2.1"/><circle cx="951.6" cy="230.5" r="2.1"/><circle cx="921.4" cy="239.8" r="2.1"/><circle cx="907.7" cy="294.9" r="2.1"/><circle cx="858.9" cy="258.6" r="2.1"/><circle cx="886.9" cy="281.1" r="2.1"/><circle cx="932.8" cy="170.9" r="2.1"/><circle cx="962.2" cy="187.2" r="2.1"/><circle cx="944.2" cy="182.2" r="2.1"/><circle cx="938.4" cy="241.8" r="2.1"/><circle cx="892.8" cy="288.5" r="2.1"/><circle cx="980.6" cy="172.1" r="2.1"/><circle cx="838.6" cy="175.6" r="2.1"/><circle cx="973.5" cy="129.4" r="2.1"/><circle cx="932.4" cy="235.0" r="2.1"/><circle cx="912.4" cy="291.3" r="2.1"/><circle cx="975.8" cy="209.3" r="2.1"/><circle cx="900.5" cy="235.0" r="2.1"/><circle cx="969.4" cy="239.3" r="2.1"/><circle cx="892.2" cy="176.3" r="2.1"/><circle cx="900.6" cy="237.7" r="2.1"/><circle cx="911.1" cy="290.2" r="2.1"/><circle cx="963.4" cy="176.6" r="2.1"/><circle cx="919.6" cy="248.1" r="2.1"/><circle cx="861.6" cy="190.3" r="2.1"/><circle cx="916.1" cy="250.1" r="2.1"/><circle cx="916.1" cy="219.5" r="2.1"/><circle cx="906.8" cy="293.9" r="2.1"/><circle cx="953.1" cy="179.0" r="2.1"/><circle cx="891.0" cy="282.8" r="2.1"/><circle cx="921.6" cy="285.0" r="2.1"/><circle cx="919.6" cy="233.2" r="2.1"/><circle cx="926.4" cy="213.7" r="2.1"/><circle cx="971.1" cy="234.9" r="2.1"/><circle cx="863.7" cy="187.6" r="2.1"/><circle cx="884.6" cy="281.0" r="2.1"/><circle cx="868.2" cy="237.4" r="2.1"/><circle cx="913.5" cy="268.8" r="2.1"/><circle cx="928.2" cy="242.9" r="2.1"/><circle cx="911.5" cy="267.6" r="2.1"/><circle cx="928.9" cy="212.2" r="2.1"/><circle cx="965.0" cy="200.2" r="2.1"/><circle cx="910.9" cy="285.4" r="2.1"/><circle cx="908.0" cy="293.6" r="2.1"/><circle cx="874.0" cy="211.8" r="2.1"/><circle cx="905.5" cy="292.8" r="2.1"/><circle cx="906.5" cy="297.2" r="2.1"/><circle cx="933.4" cy="288.6" r="2.1"/><circle cx="881.2" cy="216.9" r="2.1"/><circle cx="960.5" cy="172.4" r="2.1"/><circle cx="928.2" cy="215.2" r="2.1"/><circle cx="860.9" cy="178.8" r="2.1"/><circle cx="899.8" cy="246.3" r="2.1"/><circle cx="957.7" cy="224.8" r="2.1"/><circle cx="958.5" cy="209.4" r="2.1"/><circle cx="868.5" cy="282.6" r="2.1"/><circle cx="883.0" cy="287.7" r="2.1"/><circle cx="958.8" cy="198.4" r="2.1"/><circle cx="866.4" cy="178.9" r="2.1"/><circle cx="961.2" cy="220.6" r="2.1"/><circle cx="889.4" cy="202.7" r="2.1"/><circle cx="931.8" cy="260.7" r="2.1"/><circle cx="950.6" cy="216.0" r="2.1"/><circle cx="960.0" cy="261.2" r="2.1"/><circle cx="965.9" cy="145.2" r="2.1"/><circle cx="860.4" cy="230.0" r="2.1"/><circle cx="938.6" cy="266.2" r="2.1"/><circle cx="924.7" cy="174.7" r="2.1"/><circle cx="943.8" cy="212.5" r="2.1"/><circle cx="904.8" cy="295.2" r="2.1"/><circle cx="961.7" cy="170.2" r="2.1"/><circle cx="973.2" cy="208.5" r="2.1"/><circle cx="885.2" cy="260.8" r="2.1"/><circle cx="880.4" cy="221.3" r="2.1"/><circle cx="953.3" cy="237.8" r="2.1"/><circle cx="885.2" cy="198.5" r="2.1"/><circle cx="900.6" cy="202.2" r="2.1"/><circle cx="867.7" cy="265.5" r="2.1"/><circle cx="877.6" cy="194.9" r="2.1"/><circle cx="937.3" cy="163.0" r="2.1"/><circle cx="865.7" cy="212.2" r="2.1"/><circle cx="879.2" cy="169.0" r="2.1"/><circle cx="943.6" cy="227.4" r="2.1"/><circle cx="878.8" cy="221.4" r="2.1"/><circle cx="867.6" cy="190.6" r="2.1"/><circle cx="907.1" cy="293.8" r="2.1"/><circle cx="866.3" cy="229.8" r="2.1"/><circle cx="894.2" cy="224.7" r="2.1"/><circle cx="939.5" cy="230.7" r="2.1"/><circle cx="906.4" cy="296.3" r="2.1"/><circle cx="912.3" cy="257.4" r="2.1"/><circle cx="985.8" cy="219.8" r="2.1"/><circle cx="869.3" cy="252.5" r="2.1"/><circle cx="887.3" cy="174.2" r="2.1"/><circle cx="966.7" cy="184.7" r="2.1"/><circle cx="848.5" cy="231.2" r="2.1"/><circle cx="938.7" cy="287.1" r="2.1"/><circle cx="885.9" cy="220.9" r="2.1"/><circle cx="945.7" cy="167.8" r="2.1"/><circle cx="933.3" cy="277.7" r="2.1"/><circle cx="926.4" cy="221.0" r="2.1"/><circle cx="905.8" cy="297.3" r="2.1"/><circle cx="962.0" cy="195.8" r="2.1"/><circle cx="921.1" cy="225.7" r="2.1"/><circle cx="960.3" cy="175.8" r="2.1"/><circle cx="902.3" cy="249.2" r="2.1"/><circle cx="858.4" cy="215.8" r="2.1"/><circle cx="927.8" cy="159.9" r="2.1"/><circle cx="962.5" cy="188.4" r="2.1"/><circle cx="937.3" cy="272.1" r="2.1"/><circle cx="950.9" cy="243.2" r="2.1"/><circle cx="904.7" cy="277.9" r="2.1"/><circle cx="939.4" cy="259.9" r="2.1"/><circle cx="897.0" cy="281.0" r="2.1"/><circle cx="914.1" cy="231.2" r="2.1"/><circle cx="871.9" cy="210.3" r="2.1"/><circle cx="937.8" cy="169.2" r="2.1"/><circle cx="896.2" cy="277.6" r="2.1"/><circle cx="970.4" cy="242.7" r="2.1"/><circle cx="896.6" cy="297.1" r="2.1"/><circle cx="886.9" cy="213.7" r="2.1"/><circle cx="997.5" cy="189.9" r="2.1"/><circle cx="975.6" cy="230.3" r="2.1"/><circle cx="874.0" cy="225.1" r="2.1"/><circle cx="911.6" cy="293.7" r="2.1"/><circle cx="945.6" cy="270.4" r="2.1"/><circle cx="948.4" cy="248.4" r="2.1"/><circle cx="974.7" cy="238.9" r="2.1"/><circle cx="961.0" cy="227.2" r="2.1"/><circle cx="980.2" cy="231.6" r="2.1"/><circle cx="953.3" cy="249.0" r="2.1"/><circle cx="974.9" cy="165.5" r="2.1"/><circle cx="957.0" cy="174.9" r="2.1"/><circle cx="853.2" cy="261.6" r="2.1"/><circle cx="926.3" cy="209.6" r="2.1"/><circle cx="916.0" cy="292.2" r="2.1"/><circle cx="945.9" cy="180.2" r="2.1"/><circle cx="890.4" cy="228.5" r="2.1"/><circle cx="940.3" cy="216.4" r="2.1"/><circle cx="850.3" cy="218.4" r="2.1"/><circle cx="964.4" cy="164.7" r="2.1"/><circle cx="907.0" cy="295.2" r="2.1"/><circle cx="953.4" cy="188.2" r="2.1"/><circle cx="882.7" cy="242.6" r="2.1"/><circle cx="924.5" cy="284.0" r="2.1"/><circle cx="869.1" cy="268.8" r="2.1"/><circle cx="924.0" cy="221.8" r="2.1"/><circle cx="928.3" cy="247.0" r="2.1"/><circle cx="899.2" cy="271.6" r="2.1"/><circle cx="836.9" cy="256.6" r="2.1"/><circle cx="874.4" cy="255.4" r="2.1"/><circle cx="977.9" cy="184.6" r="2.1"/><circle cx="865.0" cy="206.0" r="2.1"/><circle cx="895.7" cy="287.6" r="2.1"/><circle cx="965.7" cy="238.5" r="2.1"/><circle cx="932.8" cy="282.9" r="2.1"/><circle cx="860.3" cy="190.3" r="2.1"/><circle cx="890.4" cy="292.2" r="2.1"/><circle cx="866.0" cy="235.0" r="2.1"/><circle cx="957.0" cy="212.6" r="2.1"/><circle cx="905.0" cy="294.5" r="2.1"/><circle cx="894.9" cy="237.1" r="2.1"/><circle cx="868.6" cy="179.4" r="2.1"/><circle cx="928.3" cy="251.0" r="2.1"/><circle cx="951.2" cy="247.2" r="2.1"/><circle cx="925.0" cy="158.4" r="2.1"/><circle cx="893.3" cy="168.8" r="2.1"/><circle cx="897.4" cy="290.2" r="2.1"/><circle cx="961.6" cy="153.0" r="2.1"/><circle cx="847.0" cy="277.1" r="2.1"/><circle cx="914.5" cy="218.5" r="2.1"/><circle cx="897.3" cy="246.5" r="2.1"/><circle cx="867.3" cy="178.5" r="2.1"/><circle cx="912.0" cy="249.7" r="2.1"/><circle cx="934.8" cy="171.2" r="2.1"/><circle cx="971.1" cy="208.4" r="2.1"/><circle cx="948.9" cy="215.8" r="2.1"/><circle cx="941.5" cy="198.1" r="2.1"/><circle cx="947.6" cy="205.0" r="2.1"/><circle cx="892.5" cy="295.9" r="2.1"/><circle cx="906.7" cy="296.5" r="2.1"/><circle cx="940.1" cy="211.7" r="2.1"/><circle cx="899.4" cy="180.2" r="2.1"/><circle cx="910.5" cy="287.6" r="2.1"/><circle cx="950.5" cy="182.7" r="2.1"/><circle cx="916.1" cy="293.7" r="2.1"/><circle cx="906.2" cy="295.7" r="2.1"/><circle cx="863.1" cy="198.5" r="2.1"/><circle cx="887.1" cy="198.0" r="2.1"/><circle cx="882.5" cy="263.1" r="2.1"/><circle cx="953.3" cy="229.2" r="2.1"/><circle cx="953.7" cy="175.7" r="2.1"/><circle cx="959.2" cy="173.4" r="2.1"/><circle cx="863.0" cy="204.1" r="2.1"/><circle cx="895.8" cy="291.5" r="2.1"/><circle cx="950.5" cy="158.4" r="2.1"/><circle cx="901.5" cy="248.4" r="2.1"/><circle cx="919.9" cy="280.5" r="2.1"/><circle cx="904.5" cy="293.9" r="2.1"/><circle cx="954.5" cy="252.7" r="2.1"/><circle cx="847.8" cy="204.4" r="2.1"/><circle cx="858.7" cy="230.6" r="2.1"/><circle cx="860.3" cy="211.9" r="2.1"/><circle cx="862.7" cy="191.0" r="2.1"/><circle cx="880.7" cy="234.9" r="2.1"/><circle cx="916.2" cy="281.2" r="2.1"/><circle cx="936.9" cy="273.2" r="2.1"/><circle cx="922.0" cy="199.7" r="2.1"/><circle cx="925.3" cy="291.8" r="2.1"/><circle cx="844.1" cy="213.5" r="2.1"/><circle cx="979.5" cy="169.6" r="2.1"/><circle cx="863.1" cy="253.6" r="2.1"/><circle cx="924.4" cy="291.4" r="2.1"/><circle cx="909.1" cy="296.2" r="2.1"/><circle cx="918.3" cy="182.8" r="2.1"/><circle cx="968.8" cy="221.8" r="2.1"/><circle cx="864.6" cy="273.8" r="2.1"/><circle cx="987.3" cy="222.1" r="2.1"/><circle cx="971.8" cy="186.1" r="2.1"/><circle cx="912.8" cy="270.4" r="2.1"/><circle cx="874.1" cy="267.0" r="2.1"/><circle cx="897.0" cy="275.5" r="2.1"/><circle cx="904.2" cy="291.2" r="2.1"/><circle cx="985.0" cy="253.5" r="2.1"/><circle cx="939.5" cy="288.7" r="2.1"/><circle cx="986.8" cy="202.5" r="2.1"/><circle cx="938.8" cy="168.0" r="2.1"/><circle cx="975.5" cy="173.0" r="2.1"/><circle cx="950.6" cy="161.5" r="2.1"/><circle cx="894.1" cy="254.7" r="2.1"/><circle cx="926.3" cy="172.0" r="2.1"/><circle cx="866.5" cy="272.4" r="2.1"/><circle cx="860.2" cy="272.5" r="2.1"/><circle cx="901.8" cy="293.5" r="2.1"/><circle cx="901.8" cy="194.8" r="2.1"/><circle cx="954.6" cy="205.3" r="2.1"/><circle cx="863.1" cy="231.7" r="2.1"/><circle cx="959.8" cy="191.5" r="2.1"/><circle cx="908.7" cy="295.9" r="2.1"/><circle cx="898.5" cy="253.5" r="2.1"/><circle cx="869.1" cy="180.3" r="2.1"/><circle cx="963.0" cy="192.3" r="2.1"/><circle cx="976.7" cy="167.4" r="2.1"/><circle cx="951.9" cy="215.0" r="2.1"/><circle cx="911.7" cy="242.2" r="2.1"/><circle cx="932.5" cy="230.0" r="2.1"/><circle cx="905.5" cy="292.7" r="2.1"/><circle cx="878.6" cy="274.7" r="2.1"/><circle cx="886.7" cy="243.1" r="2.1"/><circle cx="978.5" cy="190.2" r="2.1"/><circle cx="974.5" cy="235.7" r="2.1"/><circle cx="898.6" cy="192.9" r="2.1"/><circle cx="898.6" cy="165.6" r="2.1"/><circle cx="861.3" cy="247.7" r="2.1"/><circle cx="942.5" cy="283.4" r="2.1"/><circle cx="938.4" cy="240.6" r="2.1"/><circle cx="910.3" cy="291.1" r="2.1"/><circle cx="946.9" cy="268.9" r="2.1"/><circle cx="946.7" cy="190.2" r="2.1"/><circle cx="954.1" cy="210.8" r="2.1"/><circle cx="937.4" cy="288.4" r="2.1"/><circle cx="956.9" cy="208.7" r="2.1"/><circle cx="947.9" cy="278.2" r="2.1"/><circle cx="933.2" cy="286.4" r="2.1"/><circle cx="947.7" cy="209.3" r="2.1"/><circle cx="912.6" cy="214.5" r="2.1"/><circle cx="890.4" cy="275.1" r="2.1"/><circle cx="912.1" cy="296.2" r="2.1"/><circle cx="945.8" cy="287.5" r="2.1"/><circle cx="928.3" cy="254.8" r="2.1"/><circle cx="920.8" cy="296.0" r="2.1"/><circle cx="937.7" cy="262.2" r="2.1"/><circle cx="950.5" cy="181.2" r="2.1"/><circle cx="907.2" cy="293.7" r="2.1"/><circle cx="905.3" cy="297.1" r="2.1"/><circle cx="951.0" cy="185.8" r="2.1"/><circle cx="907.2" cy="297.2" r="2.1"/><circle cx="916.4" cy="147.7" r="2.1"/><circle cx="927.4" cy="210.4" r="2.1"/><circle cx="905.5" cy="293.1" r="2.1"/><circle cx="906.3" cy="294.1" r="2.1"/><circle cx="908.8" cy="294.2" r="2.1"/><circle cx="920.3" cy="214.3" r="2.1"/><circle cx="929.1" cy="219.9" r="2.1"/><circle cx="943.2" cy="175.1" r="2.1"/><circle cx="951.6" cy="171.0" r="2.1"/><circle cx="905.7" cy="294.8" r="2.1"/><circle cx="917.1" cy="245.5" r="2.1"/><circle cx="908.7" cy="295.2" r="2.1"/><circle cx="978.3" cy="202.0" r="2.1"/><circle cx="950.0" cy="209.1" r="2.1"/><circle cx="893.5" cy="187.1" r="2.1"/><circle cx="890.4" cy="247.1" r="2.1"/><circle cx="918.7" cy="160.0" r="2.1"/><circle cx="906.9" cy="297.4" r="2.1"/><circle cx="909.9" cy="293.9" r="2.1"/><circle cx="849.4" cy="247.6" r="2.1"/><circle cx="924.8" cy="225.3" r="2.1"/><circle cx="869.3" cy="205.3" r="2.1"/><circle cx="903.0" cy="287.2" r="2.1"/><circle cx="899.4" cy="217.2" r="2.1"/><circle cx="872.3" cy="281.6" r="2.1"/><circle cx="898.5" cy="281.1" r="2.1"/><circle cx="877.3" cy="226.8" r="2.1"/><circle cx="915.8" cy="233.6" r="2.1"/><circle cx="943.9" cy="222.9" r="2.1"/><circle cx="926.5" cy="281.4" r="2.1"/><circle cx="893.9" cy="249.0" r="2.1"/><circle cx="933.0" cy="258.0" r="2.1"/><circle cx="904.2" cy="295.4" r="2.1"/><circle cx="877.9" cy="225.1" r="2.1"/><circle cx="898.4" cy="220.6" r="2.1"/><circle cx="912.5" cy="233.9" r="2.1"/><circle cx="997.6" cy="225.0" r="2.1"/><circle cx="866.4" cy="244.3" r="2.1"/><circle cx="884.5" cy="191.4" r="2.1"/><circle cx="976.8" cy="157.1" r="2.1"/><circle cx="878.9" cy="222.6" r="2.1"/><circle cx="899.3" cy="225.7" r="2.1"/><circle cx="968.8" cy="183.3" r="2.1"/><circle cx="846.4" cy="191.1" r="2.1"/><circle cx="930.4" cy="205.1" r="2.1"/><circle cx="946.7" cy="264.7" r="2.1"/><circle cx="919.7" cy="237.0" r="2.1"/><circle cx="888.5" cy="182.6" r="2.1"/><circle cx="943.3" cy="191.4" r="2.1"/><circle cx="882.4" cy="221.6" r="2.1"/><circle cx="883.8" cy="295.0" r="2.1"/><circle cx="949.3" cy="218.8" r="2.1"/><circle cx="885.4" cy="199.8" r="2.1"/><circle cx="953.4" cy="171.1" r="2.1"/><circle cx="953.3" cy="213.0" r="2.1"/><circle cx="947.4" cy="243.2" r="2.1"/><circle cx="933.5" cy="240.3" r="2.1"/><circle cx="866.6" cy="264.4" r="2.1"/><circle cx="945.9" cy="205.0" r="2.1"/><circle cx="862.1" cy="223.2" r="2.1"/><circle cx="879.2" cy="252.9" r="2.1"/><circle cx="891.9" cy="174.7" r="2.1"/><circle cx="892.4" cy="191.3" r="2.1"/><circle cx="914.3" cy="283.7" r="2.1"/><circle cx="960.7" cy="229.5" r="2.1"/><circle cx="930.8" cy="207.6" r="2.1"/><circle cx="953.2" cy="211.2" r="2.1"/><circle cx="930.3" cy="229.5" r="2.1"/><circle cx="882.3" cy="224.1" r="2.1"/><circle cx="915.3" cy="294.6" r="2.1"/><circle cx="977.9" cy="188.6" r="2.1"/><circle cx="882.6" cy="207.5" r="2.1"/><circle cx="926.4" cy="265.4" r="2.1"/><circle cx="884.4" cy="210.1" r="2.1"/><circle cx="891.1" cy="244.2" r="2.1"/><circle cx="917.8" cy="287.6" r="2.1"/><circle cx="947.5" cy="258.3" r="2.1"/><circle cx="947.5" cy="235.3" r="2.1"/><circle cx="950.6" cy="231.2" r="2.1"/><circle cx="928.8" cy="185.7" r="2.1"/><circle cx="950.7" cy="228.8" r="2.1"/><circle cx="922.5" cy="250.4" r="2.1"/><circle cx="866.4" cy="271.5" r="2.1"/><circle cx="944.6" cy="192.7" r="2.1"/><circle cx="862.8" cy="178.9" r="2.1"/><circle cx="949.3" cy="188.2" r="2.1"/><circle cx="878.9" cy="262.7" r="2.1"/><circle cx="939.6" cy="261.9" r="2.1"/><circle cx="891.1" cy="186.8" r="2.1"/><circle cx="935.5" cy="202.1" r="2.1"/><circle cx="895.6" cy="280.9" r="2.1"/><circle cx="982.3" cy="163.0" r="2.1"/><circle cx="924.2" cy="210.0" r="2.1"/><circle cx="884.7" cy="295.5" r="2.1"/><circle cx="981.1" cy="147.4" r="2.1"/><circle cx="967.8" cy="151.3" r="2.1"/><circle cx="944.7" cy="225.7" r="2.1"/><circle cx="955.4" cy="229.2" r="2.1"/><circle cx="937.5" cy="249.0" r="2.1"/><circle cx="954.1" cy="184.4" r="2.1"/><circle cx="925.3" cy="167.5" r="2.1"/><circle cx="863.5" cy="225.1" r="2.1"/><circle cx="919.6" cy="293.1" r="2.1"/><circle cx="885.9" cy="266.0" r="2.1"/><circle cx="880.1" cy="248.6" r="2.1"/><circle cx="923.9" cy="216.3" r="2.1"/><circle cx="954.4" cy="210.3" r="2.1"/><circle cx="904.2" cy="291.1" r="2.1"/><circle cx="945.8" cy="227.4" r="2.1"/><circle cx="929.9" cy="269.5" r="2.1"/><circle cx="933.9" cy="189.3" r="2.1"/><circle cx="861.9" cy="248.7" r="2.1"/><circle cx="947.3" cy="172.4" r="2.1"/><circle cx="918.2" cy="194.7" r="2.1"/><circle cx="944.8" cy="184.6" r="2.1"/><circle cx="947.2" cy="235.4" r="2.1"/><circle cx="912.6" cy="290.7" r="2.1"/><circle cx="954.2" cy="237.5" r="2.1"/><circle cx="874.3" cy="227.3" r="2.1"/><circle cx="941.7" cy="187.9" r="2.1"/><circle cx="906.2" cy="297.2" r="2.1"/><circle cx="856.5" cy="214.9" r="2.1"/><circle cx="960.5" cy="168.1" r="2.1"/><circle cx="911.4" cy="293.8" r="2.1"/><circle cx="881.5" cy="172.6" r="2.1"/><circle cx="916.9" cy="247.0" r="2.1"/><circle cx="867.3" cy="208.1" r="2.1"/><circle cx="946.8" cy="267.7" r="2.1"/><circle cx="964.3" cy="188.3" r="2.1"/><circle cx="937.8" cy="148.9" r="2.1"/><circle cx="907.5" cy="297.3" r="2.1"/><circle cx="953.8" cy="175.1" r="2.1"/><circle cx="925.6" cy="164.2" r="2.1"/><circle cx="925.4" cy="272.8" r="2.1"/><circle cx="869.6" cy="285.4" r="2.1"/><circle cx="908.6" cy="296.6" r="2.1"/><circle cx="983.9" cy="248.2" r="2.1"/><circle cx="955.3" cy="232.8" r="2.1"/><circle cx="894.6" cy="249.4" r="2.1"/><circle cx="950.8" cy="262.6" r="2.1"/><circle cx="870.7" cy="259.7" r="2.1"/><circle cx="944.4" cy="289.4" r="2.1"/><circle cx="980.1" cy="204.2" r="2.1"/><circle cx="930.7" cy="286.9" r="2.1"/><circle cx="907.2" cy="297.5" r="2.1"/><circle cx="886.9" cy="178.3" r="2.1"/><circle cx="921.9" cy="247.6" r="2.1"/><circle cx="863.4" cy="237.9" r="2.1"/><circle cx="867.3" cy="230.1" r="2.1"/><circle cx="944.1" cy="233.5" r="2.1"/><circle cx="924.9" cy="158.5" r="2.1"/><circle cx="941.5" cy="196.2" r="2.1"/><circle cx="949.5" cy="179.0" r="2.1"/><circle cx="888.9" cy="281.1" r="2.1"/><circle cx="854.7" cy="239.5" r="2.1"/><circle cx="969.5" cy="182.7" r="2.1"/><circle cx="943.4" cy="214.2" r="2.1"/><circle cx="918.5" cy="183.9" r="2.1"/><circle cx="926.9" cy="255.7" r="2.1"/><circle cx="957.1" cy="205.2" r="2.1"/><circle cx="889.1" cy="232.4" r="2.1"/><circle cx="872.4" cy="223.3" r="2.1"/><circle cx="952.3" cy="148.0" r="2.1"/><circle cx="946.1" cy="272.7" r="2.1"/><circle cx="944.2" cy="245.0" r="2.1"/><circle cx="933.7" cy="266.4" r="2.1"/><circle cx="917.0" cy="246.6" r="2.1"/><circle cx="896.7" cy="277.4" r="2.1"/><circle cx="947.1" cy="220.1" r="2.1"/><circle cx="944.7" cy="164.4" r="2.1"/><circle cx="861.8" cy="210.5" r="2.1"/><circle cx="927.3" cy="239.9" r="2.1"/><circle cx="928.8" cy="195.0" r="2.1"/><circle cx="898.3" cy="290.1" r="2.1"/><circle cx="944.4" cy="223.1" r="2.1"/><circle cx="932.9" cy="220.0" r="2.1"/><circle cx="870.1" cy="285.7" r="2.1"/><circle cx="922.0" cy="194.8" r="2.1"/><circle cx="874.9" cy="230.4" r="2.1"/><circle cx="872.3" cy="270.8" r="2.1"/><circle cx="906.9" cy="296.6" r="2.1"/><circle cx="941.4" cy="267.3" r="2.1"/><circle cx="958.6" cy="208.8" r="2.1"/><circle cx="906.8" cy="293.3" r="2.1"/><circle cx="953.1" cy="184.1" r="2.1"/><circle cx="918.8" cy="165.2" r="2.1"/><circle cx="935.6" cy="267.1" r="2.1"/><circle cx="881.6" cy="232.6" r="2.1"/><circle cx="902.5" cy="291.0" r="2.1"/><circle cx="870.1" cy="181.3" r="2.1"/><circle cx="979.0" cy="221.0" r="2.1"/><circle cx="975.2" cy="202.5" r="2.1"/><circle cx="935.2" cy="216.9" r="2.1"/><circle cx="862.6" cy="254.9" r="2.1"/><circle cx="909.4" cy="291.0" r="2.1"/><circle cx="976.7" cy="243.2" r="2.1"/><circle cx="936.9" cy="184.8" r="2.1"/><circle cx="886.3" cy="165.6" r="2.1"/><circle cx="925.9" cy="262.3" r="2.1"/><circle cx="939.5" cy="182.5" r="2.1"/><circle cx="922.8" cy="275.9" r="2.1"/><circle cx="872.0" cy="189.6" r="2.1"/><circle cx="956.9" cy="220.5" r="2.1"/><circle cx="904.8" cy="283.9" r="2.1"/><circle cx="968.7" cy="204.2" r="2.1"/><circle cx="908.0" cy="295.1" r="2.1"/><circle cx="931.6" cy="281.6" r="2.1"/><circle cx="907.1" cy="297.5" r="2.1"/><circle cx="887.1" cy="295.0" r="2.1"/><circle cx="955.7" cy="187.7" r="2.1"/><circle cx="949.6" cy="258.3" r="2.1"/><circle cx="889.1" cy="235.0" r="2.1"/><circle cx="949.5" cy="209.3" r="2.1"/><circle cx="965.5" cy="158.4" r="2.1"/><circle cx="899.8" cy="174.5" r="2.1"/><circle cx="945.3" cy="256.1" r="2.1"/><circle cx="913.2" cy="291.3" r="2.1"/><circle cx="912.7" cy="210.6" r="2.1"/><circle cx="914.7" cy="230.4" r="2.1"/><circle cx="918.5" cy="290.0" r="2.1"/><circle cx="858.9" cy="250.0" r="2.1"/><circle cx="924.0" cy="280.2" r="2.1"/><circle cx="928.2" cy="249.5" r="2.1"/><circle cx="865.9" cy="269.1" r="2.1"/><circle cx="983.8" cy="218.5" r="2.1"/><circle cx="905.8" cy="296.2" r="2.1"/><circle cx="931.7" cy="203.6" r="2.1"/><circle cx="896.0" cy="264.9" r="2.1"/><circle cx="952.2" cy="197.7" r="2.1"/><circle cx="895.7" cy="218.5" r="2.1"/><circle cx="916.4" cy="235.2" r="2.1"/><circle cx="903.8" cy="293.5" r="2.1"/><circle cx="907.4" cy="297.4" r="2.1"/><circle cx="944.3" cy="215.4" r="2.1"/><circle cx="935.1" cy="185.3" r="2.1"/><circle cx="941.8" cy="278.9" r="2.1"/><circle cx="954.0" cy="190.9" r="2.1"/><circle cx="962.3" cy="227.6" r="2.1"/><circle cx="888.2" cy="251.5" r="2.1"/><circle cx="846.5" cy="138.9" r="2.1"/><circle cx="945.8" cy="217.1" r="2.1"/><circle cx="904.3" cy="292.4" r="2.1"/><circle cx="933.8" cy="221.0" r="2.1"/><circle cx="924.4" cy="228.6" r="2.1"/><circle cx="913.3" cy="288.9" r="2.1"/><circle cx="889.4" cy="264.4" r="2.1"/><circle cx="914.4" cy="288.8" r="2.1"/><circle cx="954.0" cy="192.4" r="2.1"/><circle cx="916.5" cy="256.8" r="2.1"/><circle cx="953.8" cy="269.0" r="2.1"/><circle cx="953.8" cy="181.5" r="2.1"/><circle cx="855.1" cy="267.1" r="2.1"/><circle cx="947.6" cy="193.0" r="2.1"/><circle cx="856.0" cy="207.3" r="2.1"/><circle cx="962.8" cy="250.7" r="2.1"/><circle cx="902.1" cy="293.7" r="2.1"/><circle cx="905.2" cy="297.3" r="2.1"/><circle cx="981.2" cy="220.8" r="2.1"/><circle cx="980.2" cy="249.4" r="2.1"/><circle cx="917.4" cy="240.6" r="2.1"/><circle cx="947.8" cy="164.0" r="2.1"/><circle cx="906.9" cy="295.5" r="2.1"/><circle cx="859.1" cy="285.8" r="2.1"/><circle cx="993.2" cy="166.8" r="2.1"/><circle cx="860.1" cy="281.9" r="2.1"/><circle cx="907.4" cy="297.0" r="2.1"/><circle cx="907.2" cy="294.6" r="2.1"/><circle cx="916.5" cy="290.3" r="2.1"/><circle cx="919.4" cy="247.8" r="2.1"/><circle cx="953.2" cy="198.4" r="2.1"/><circle cx="952.8" cy="246.0" r="2.1"/><circle cx="943.1" cy="246.6" r="2.1"/><circle cx="908.7" cy="295.6" r="2.1"/><circle cx="917.8" cy="230.9" r="2.1"/><circle cx="960.3" cy="203.9" r="2.1"/><circle cx="947.2" cy="234.4" r="2.1"/><circle cx="877.5" cy="245.8" r="2.1"/><circle cx="941.5" cy="267.0" r="2.1"/><circle cx="936.4" cy="264.8" r="2.1"/><circle cx="963.3" cy="216.3" r="2.1"/><circle cx="904.4" cy="296.5" r="2.1"/><circle cx="958.3" cy="217.1" r="2.1"/><circle cx="938.6" cy="275.6" r="2.1"/><circle cx="892.4" cy="267.5" r="2.1"/><circle cx="903.1" cy="291.1" r="2.1"/><circle cx="859.7" cy="205.9" r="2.1"/><circle cx="897.2" cy="250.5" r="2.1"/><circle cx="919.6" cy="296.3" r="2.1"/><circle cx="874.8" cy="199.7" r="2.1"/><circle cx="933.9" cy="169.5" r="2.1"/><circle cx="887.1" cy="238.6" r="2.1"/><circle cx="891.5" cy="187.4" r="2.1"/><circle cx="935.5" cy="265.8" r="2.1"/><circle cx="923.5" cy="266.7" r="2.1"/><circle cx="955.3" cy="261.3" r="2.1"/><circle cx="861.7" cy="250.2" r="2.1"/><circle cx="918.5" cy="191.9" r="2.1"/><circle cx="865.2" cy="251.0" r="2.1"/><circle cx="907.8" cy="293.9" r="2.1"/><circle cx="907.7" cy="296.0" r="2.1"/><circle cx="918.4" cy="176.4" r="2.1"/><circle cx="945.2" cy="272.9" r="2.1"/><circle cx="967.4" cy="174.1" r="2.1"/><circle cx="866.4" cy="264.1" r="2.1"/><circle cx="949.3" cy="187.9" r="2.1"/><circle cx="919.2" cy="201.6" r="2.1"/><circle cx="907.2" cy="295.7" r="2.1"/><circle cx="901.3" cy="290.4" r="2.1"/><circle cx="928.6" cy="289.1" r="2.1"/><circle cx="946.3" cy="228.6" r="2.1"/><circle cx="876.9" cy="256.5" r="2.1"/><circle cx="953.4" cy="180.6" r="2.1"/><circle cx="864.9" cy="265.3" r="2.1"/><circle cx="864.6" cy="189.7" r="2.1"/><circle cx="928.0" cy="234.6" r="2.1"/><circle cx="911.4" cy="246.9" r="2.1"/><circle cx="877.0" cy="190.5" r="2.1"/><circle cx="913.5" cy="215.6" r="2.1"/><circle cx="868.6" cy="174.2" r="2.1"/><circle cx="896.2" cy="260.8" r="2.1"/><circle cx="864.8" cy="255.9" r="2.1"/><circle cx="914.4" cy="197.7" r="2.1"/><circle cx="885.5" cy="263.2" r="2.1"/><circle cx="915.5" cy="195.4" r="2.1"/><circle cx="939.1" cy="246.4" r="2.1"/><circle cx="893.5" cy="296.4" r="2.1"/><circle cx="968.0" cy="234.1" r="2.1"/><circle cx="937.0" cy="239.3" r="2.1"/><circle cx="949.3" cy="175.8" r="2.1"/><circle cx="879.8" cy="279.5" r="2.1"/><circle cx="905.5" cy="296.7" r="2.1"/><circle cx="944.7" cy="211.4" r="2.1"/><circle cx="940.2" cy="144.5" r="2.1"/><circle cx="962.9" cy="171.8" r="2.1"/><circle cx="885.2" cy="234.0" r="2.1"/><circle cx="964.7" cy="245.2" r="2.1"/><circle cx="930.8" cy="258.3" r="2.1"/><circle cx="969.7" cy="235.5" r="2.1"/><circle cx="973.3" cy="218.1" r="2.1"/><circle cx="946.8" cy="230.4" r="2.1"/><circle cx="944.5" cy="150.3" r="2.1"/><circle cx="857.9" cy="282.4" r="2.1"/><circle cx="940.1" cy="281.8" r="2.1"/><circle cx="927.2" cy="201.2" r="2.1"/><circle cx="863.2" cy="220.6" r="2.1"/><circle cx="950.4" cy="182.2" r="2.1"/><circle cx="928.0" cy="158.6" r="2.1"/><circle cx="928.3" cy="281.3" r="2.1"/><circle cx="870.4" cy="286.5" r="2.1"/><circle cx="911.7" cy="292.5" r="2.1"/><circle cx="907.3" cy="295.7" r="2.1"/><circle cx="916.2" cy="251.4" r="2.1"/><circle cx="946.5" cy="258.9" r="2.1"/><circle cx="973.3" cy="244.9" r="2.1"/><circle cx="867.4" cy="264.3" r="2.1"/><circle cx="942.6" cy="197.4" r="2.1"/><circle cx="913.6" cy="245.7" r="2.1"/><circle cx="905.9" cy="296.9" r="2.1"/><circle cx="950.2" cy="183.0" r="2.1"/><circle cx="874.3" cy="281.1" r="2.1"/><circle cx="915.6" cy="219.4" r="2.1"/><circle cx="952.6" cy="195.9" r="2.1"/><circle cx="922.5" cy="255.2" r="2.1"/><circle cx="871.2" cy="224.7" r="2.1"/><circle cx="872.7" cy="227.2" r="2.1"/><circle cx="940.1" cy="260.8" r="2.1"/><circle cx="946.6" cy="253.8" r="2.1"/><circle cx="978.3" cy="255.7" r="2.1"/><circle cx="960.0" cy="210.3" r="2.1"/><circle cx="950.6" cy="255.3" r="2.1"/><circle cx="917.0" cy="250.3" r="2.1"/><circle cx="948.5" cy="171.6" r="2.1"/><circle cx="952.0" cy="177.9" r="2.1"/><circle cx="961.4" cy="203.3" r="2.1"/><circle cx="849.7" cy="190.9" r="2.1"/><circle cx="870.5" cy="174.8" r="2.1"/><circle cx="924.0" cy="214.9" r="2.1"/><circle cx="946.1" cy="208.6" r="2.1"/><circle cx="897.0" cy="203.6" r="2.1"/><circle cx="863.8" cy="180.6" r="2.1"/><circle cx="969.1" cy="216.7" r="2.1"/><circle cx="936.3" cy="256.8" r="2.1"/><circle cx="948.8" cy="188.7" r="2.1"/><circle cx="869.4" cy="250.9" r="2.1"/><circle cx="916.2" cy="246.5" r="2.1"/><circle cx="917.6" cy="292.9" r="2.1"/><circle cx="899.7" cy="262.0" r="2.1"/><circle cx="934.0" cy="174.3" r="2.1"/><circle cx="873.3" cy="253.6" r="2.1"/><circle cx="863.7" cy="253.0" r="2.1"/><circle cx="922.6" cy="189.2" r="2.1"/><circle cx="950.4" cy="186.8" r="2.1"/><circle cx="969.6" cy="195.2" r="2.1"/><circle cx="971.4" cy="243.5" r="2.1"/><circle cx="884.9" cy="177.6" r="2.1"/><circle cx="927.3" cy="253.9" r="2.1"/><circle cx="927.7" cy="293.9" r="2.1"/><circle cx="960.0" cy="202.8" r="2.1"/><circle cx="951.9" cy="238.6" r="2.1"/><circle cx="941.2" cy="175.0" r="2.1"/><circle cx="863.8" cy="195.2" r="2.1"/><circle cx="898.6" cy="221.5" r="2.1"/><circle cx="983.3" cy="241.5" r="2.1"/><circle cx="867.5" cy="282.6" r="2.1"/><circle cx="908.9" cy="291.0" r="2.1"/><circle cx="937.8" cy="193.4" r="2.1"/><circle cx="959.0" cy="214.3" r="2.1"/><circle cx="929.7" cy="271.0" r="2.1"/><circle cx="944.5" cy="256.8" r="2.1"/><circle cx="914.9" cy="243.2" r="2.1"/><circle cx="873.8" cy="198.5" r="2.1"/><circle cx="1001.9" cy="211.2" r="2.1"/><circle cx="863.6" cy="243.1" r="2.1"/><circle cx="907.4" cy="295.6" r="2.1"/><circle cx="983.5" cy="218.0" r="2.1"/><circle cx="922.5" cy="282.1" r="2.1"/><circle cx="905.6" cy="296.2" r="2.1"/><circle cx="943.5" cy="151.1" r="2.1"/><circle cx="909.8" cy="297.5" r="2.1"/><circle cx="946.4" cy="206.4" r="2.1"/><circle cx="872.4" cy="261.2" r="2.1"/><circle cx="984.2" cy="183.8" r="2.1"/><circle cx="926.5" cy="248.7" r="2.1"/><circle cx="946.8" cy="222.9" r="2.1"/><circle cx="945.1" cy="261.9" r="2.1"/><circle cx="918.7" cy="207.1" r="2.1"/><circle cx="956.2" cy="188.2" r="2.1"/><circle cx="864.5" cy="234.5" r="2.1"/><circle cx="899.4" cy="161.6" r="2.1"/><circle cx="915.2" cy="233.6" r="2.1"/><circle cx="931.3" cy="221.1" r="2.1"/><circle cx="907.6" cy="295.7" r="2.1"/><circle cx="889.3" cy="286.5" r="2.1"/><circle cx="915.5" cy="283.4" r="2.1"/><circle cx="860.5" cy="250.1" r="2.1"/><circle cx="887.9" cy="189.3" r="2.1"/><circle cx="868.1" cy="258.0" r="2.1"/><circle cx="958.2" cy="206.7" r="2.1"/><circle cx="931.0" cy="272.6" r="2.1"/><circle cx="912.1" cy="290.2" r="2.1"/><circle cx="887.3" cy="193.9" r="2.1"/><circle cx="936.4" cy="198.0" r="2.1"/><circle cx="922.5" cy="202.8" r="2.1"/><circle cx="964.0" cy="206.3" r="2.1"/><circle cx="900.3" cy="168.6" r="2.1"/><circle cx="948.5" cy="190.4" r="2.1"/><circle cx="906.6" cy="297.1" r="2.1"/><circle cx="941.2" cy="257.9" r="2.1"/><circle cx="907.4" cy="296.6" r="2.1"/><circle cx="935.2" cy="277.6" r="2.1"/><circle cx="932.5" cy="195.5" r="2.1"/><circle cx="845.1" cy="277.9" r="2.1"/><circle cx="909.3" cy="296.2" r="2.1"/><circle cx="929.1" cy="213.2" r="2.1"/><circle cx="861.4" cy="211.9" r="2.1"/><circle cx="947.8" cy="225.0" r="2.1"/><circle cx="899.5" cy="169.2" r="2.1"/><circle cx="922.7" cy="234.5" r="2.1"/><circle cx="905.5" cy="295.8" r="2.1"/><circle cx="867.3" cy="229.0" r="2.1"/><circle cx="911.8" cy="244.5" r="2.1"/><circle cx="917.5" cy="284.3" r="2.1"/><circle cx="907.8" cy="294.4" r="2.1"/><circle cx="903.7" cy="295.1" r="2.1"/><circle cx="941.2" cy="212.4" r="2.1"/><circle cx="960.3" cy="196.1" r="2.1"/><circle cx="944.1" cy="272.1" r="2.1"/><circle cx="968.5" cy="269.6" r="2.1"/><circle cx="931.7" cy="255.0" r="2.1"/><circle cx="907.4" cy="294.5" r="2.1"/><circle cx="983.4" cy="205.7" r="2.1"/><circle cx="885.0" cy="259.1" r="2.1"/><circle cx="983.2" cy="183.4" r="2.1"/><circle cx="856.5" cy="275.2" r="2.1"/><circle cx="953.2" cy="232.4" r="2.1"/><circle cx="911.3" cy="296.2" r="2.1"/><circle cx="910.2" cy="297.0" r="2.1"/><circle cx="915.2" cy="164.0" r="2.1"/><circle cx="871.0" cy="235.5" r="2.1"/><circle cx="963.1" cy="195.9" r="2.1"/><circle cx="873.7" cy="178.8" r="2.1"/><circle cx="871.8" cy="169.4" r="2.1"/><circle cx="924.7" cy="217.1" r="2.1"/><circle cx="908.1" cy="295.0" r="2.1"/><circle cx="944.6" cy="194.9" r="2.1"/><circle cx="907.0" cy="297.1" r="2.1"/><circle cx="881.1" cy="245.6" r="2.1"/><circle cx="934.4" cy="287.5" r="2.1"/><circle cx="867.9" cy="215.4" r="2.1"/><circle cx="934.4" cy="255.9" r="2.1"/><circle cx="945.7" cy="163.5" r="2.1"/><circle cx="870.4" cy="263.3" r="2.1"/><circle cx="871.5" cy="212.4" r="2.1"/><circle cx="951.1" cy="224.5" r="2.1"/><circle cx="907.8" cy="292.1" r="2.1"/><circle cx="883.6" cy="248.1" r="2.1"/><circle cx="917.3" cy="250.3" r="2.1"/><circle cx="896.4" cy="296.2" r="2.1"/><circle cx="879.4" cy="213.1" r="2.1"/><circle cx="864.1" cy="241.0" r="2.1"/><circle cx="965.5" cy="191.5" r="2.1"/><circle cx="903.9" cy="294.4" r="2.1"/><circle cx="946.0" cy="228.0" r="2.1"/><circle cx="905.2" cy="291.8" r="2.1"/><circle cx="861.5" cy="241.3" r="2.1"/><circle cx="878.4" cy="288.2" r="2.1"/><circle cx="964.9" cy="217.6" r="2.1"/><circle cx="891.6" cy="286.5" r="2.1"/><circle cx="889.5" cy="220.9" r="2.1"/><circle cx="853.2" cy="269.8" r="2.1"/><circle cx="906.4" cy="293.2" r="2.1"/><circle cx="868.8" cy="282.3" r="2.1"/><circle cx="940.6" cy="154.9" r="2.1"/><circle cx="969.6" cy="165.5" r="2.1"/><circle cx="949.5" cy="165.4" r="2.1"/><circle cx="904.6" cy="295.0" r="2.1"/><circle cx="904.1" cy="277.2" r="2.1"/><circle cx="948.5" cy="200.6" r="2.1"/><circle cx="949.9" cy="199.9" r="2.1"/><circle cx="937.0" cy="158.9" r="2.1"/><circle cx="938.8" cy="206.0" r="2.1"/><circle cx="894.2" cy="157.6" r="2.1"/><circle cx="879.2" cy="225.0" r="2.1"/><circle cx="906.8" cy="297.3" r="2.1"/><circle cx="852.0" cy="246.1" r="2.1"/><circle cx="892.9" cy="255.9" r="2.1"/><circle cx="949.7" cy="205.2" r="2.1"/><circle cx="980.2" cy="154.3" r="2.1"/><circle cx="913.7" cy="207.7" r="2.1"/><circle cx="957.8" cy="216.6" r="2.1"/><circle cx="928.5" cy="244.8" r="2.1"/><circle cx="948.3" cy="236.1" r="2.1"/><circle cx="942.9" cy="248.3" r="2.1"/><circle cx="874.5" cy="178.4" r="2.1"/><circle cx="885.3" cy="187.0" r="2.1"/><circle cx="883.7" cy="263.1" r="2.1"/><circle cx="907.0" cy="295.0" r="2.1"/><circle cx="951.8" cy="231.6" r="2.1"/><circle cx="968.5" cy="188.2" r="2.1"/><circle cx="920.4" cy="206.3" r="2.1"/><circle cx="981.1" cy="211.9" r="2.1"/><circle cx="863.9" cy="180.7" r="2.1"/><circle cx="946.0" cy="211.7" r="2.1"/><circle cx="960.8" cy="207.5" r="2.1"/><circle cx="917.7" cy="179.4" r="2.1"/><circle cx="897.8" cy="195.4" r="2.1"/><circle cx="942.6" cy="268.7" r="2.1"/><circle cx="905.6" cy="296.8" r="2.1"/><circle cx="940.4" cy="168.9" r="2.1"/><circle cx="907.1" cy="294.2" r="2.1"/><circle cx="870.4" cy="193.4" r="2.1"/><circle cx="915.6" cy="251.6" r="2.1"/><circle cx="955.3" cy="198.9" r="2.1"/><circle cx="894.4" cy="213.6" r="2.1"/><circle cx="908.5" cy="294.9" r="2.1"/><circle cx="888.6" cy="268.6" r="2.1"/><circle cx="957.2" cy="206.2" r="2.1"/><circle cx="905.8" cy="291.5" r="2.1"/><circle cx="897.1" cy="254.1" r="2.1"/><circle cx="966.6" cy="214.7" r="2.1"/><circle cx="907.5" cy="294.0" r="2.1"/><circle cx="907.1" cy="294.6" r="2.1"/><circle cx="970.5" cy="119.5" r="2.1"/><circle cx="947.8" cy="194.6" r="2.1"/><circle cx="908.2" cy="295.9" r="2.1"/><circle cx="916.7" cy="269.5" r="2.1"/><circle cx="907.5" cy="296.8" r="2.1"/><circle cx="878.6" cy="263.2" r="2.1"/><circle cx="935.8" cy="273.8" r="2.1"/><circle cx="878.1" cy="236.1" r="2.1"/><circle cx="940.8" cy="172.3" r="2.1"/><circle cx="951.2" cy="239.2" r="2.1"/><circle cx="947.0" cy="186.1" r="2.1"/><circle cx="948.5" cy="182.2" r="2.1"/><circle cx="911.0" cy="290.4" r="2.1"/><circle cx="965.2" cy="194.0" r="2.1"/><circle cx="906.4" cy="293.0" r="2.1"/><circle cx="860.9" cy="205.1" r="2.1"/><circle cx="934.6" cy="226.3" r="2.1"/><circle cx="903.0" cy="281.2" r="2.1"/><circle cx="927.6" cy="236.8" r="2.1"/><circle cx="917.5" cy="180.3" r="2.1"/><circle cx="905.7" cy="297.1" r="2.1"/><circle cx="968.8" cy="208.2" r="2.1"/><circle cx="862.4" cy="224.1" r="2.1"/><circle cx="910.8" cy="295.4" r="2.1"/><circle cx="926.3" cy="176.2" r="2.1"/><circle cx="907.8" cy="297.4" r="2.1"/><circle cx="928.0" cy="267.2" r="2.1"/><circle cx="975.8" cy="212.4" r="2.1"/><circle cx="908.0" cy="295.2" r="2.1"/><circle cx="964.6" cy="215.7" r="2.1"/><circle cx="902.9" cy="295.5" r="2.1"/><circle cx="920.0" cy="239.5" r="2.1"/><circle cx="904.0" cy="291.3" r="2.1"/><circle cx="950.8" cy="207.6" r="2.1"/><circle cx="910.9" cy="294.9" r="2.1"/><circle cx="949.3" cy="162.5" r="2.1"/><circle cx="973.8" cy="179.8" r="2.1"/><circle cx="925.4" cy="251.2" r="2.1"/><circle cx="889.3" cy="176.0" r="2.1"/><circle cx="877.4" cy="261.4" r="2.1"/><circle cx="843.0" cy="216.1" r="2.1"/><circle cx="977.9" cy="184.5" r="2.1"/><circle cx="904.9" cy="294.4" r="2.1"/><circle cx="960.8" cy="212.6" r="2.1"/><circle cx="891.4" cy="203.3" r="2.1"/><circle cx="896.7" cy="165.0" r="2.1"/><circle cx="886.0" cy="294.0" r="2.1"/><circle cx="874.1" cy="268.9" r="2.1"/><circle cx="922.6" cy="171.3" r="2.1"/><circle cx="881.2" cy="199.7" r="2.1"/><circle cx="936.4" cy="234.8" r="2.1"/><circle cx="887.9" cy="268.5" r="2.1"/><circle cx="924.6" cy="176.6" r="2.1"/><circle cx="904.9" cy="295.1" r="2.1"/><circle cx="919.7" cy="237.3" r="2.1"/><circle cx="927.9" cy="190.3" r="2.1"/><circle cx="967.1" cy="216.0" r="2.1"/><circle cx="861.5" cy="278.8" r="2.1"/><circle cx="882.3" cy="166.7" r="2.1"/><circle cx="907.2" cy="295.4" r="2.1"/><circle cx="948.0" cy="209.3" r="2.1"/><circle cx="862.4" cy="238.4" r="2.1"/><circle cx="895.6" cy="169.6" r="2.1"/><circle cx="903.7" cy="260.6" r="2.1"/><circle cx="903.5" cy="286.6" r="2.1"/><circle cx="954.7" cy="210.8" r="2.1"/><circle cx="888.0" cy="166.9" r="2.1"/><circle cx="952.1" cy="199.5" r="2.1"/><circle cx="878.5" cy="266.8" r="2.1"/><circle cx="975.8" cy="204.0" r="2.1"/><circle cx="915.1" cy="268.2" r="2.1"/><circle cx="908.3" cy="289.8" r="2.1"/><circle cx="934.6" cy="285.3" r="2.1"/><circle cx="891.7" cy="233.1" r="2.1"/><circle cx="921.4" cy="260.7" r="2.1"/><circle cx="897.3" cy="182.3" r="2.1"/><circle cx="984.3" cy="237.0" r="2.1"/><circle cx="883.4" cy="162.9" r="2.1"/><circle cx="897.8" cy="272.0" r="2.1"/><circle cx="919.4" cy="294.8" r="2.1"/><circle cx="898.4" cy="240.8" r="2.1"/><circle cx="947.5" cy="260.2" r="2.1"/><circle cx="951.4" cy="220.3" r="2.1"/><circle cx="909.0" cy="293.1" r="2.1"/><circle cx="861.9" cy="255.0" r="2.1"/><circle cx="879.1" cy="236.1" r="2.1"/><circle cx="852.3" cy="174.1" r="2.1"/><circle cx="873.0" cy="212.2" r="2.1"/><circle cx="945.7" cy="176.3" r="2.1"/><circle cx="938.4" cy="206.6" r="2.1"/><circle cx="866.3" cy="239.5" r="2.1"/><circle cx="946.6" cy="184.6" r="2.1"/><circle cx="867.0" cy="273.5" r="2.1"/><circle cx="914.8" cy="183.2" r="2.1"/><circle cx="916.4" cy="240.9" r="2.1"/><circle cx="915.0" cy="243.7" r="2.1"/><circle cx="932.8" cy="262.9" r="2.1"/><circle cx="960.1" cy="175.3" r="2.1"/><circle cx="847.9" cy="255.5" r="2.1"/><circle cx="918.1" cy="186.1" r="2.1"/><circle cx="911.1" cy="294.9" r="2.1"/><circle cx="947.0" cy="159.9" r="2.1"/><circle cx="942.8" cy="249.5" r="2.1"/><circle cx="882.2" cy="193.7" r="2.1"/><circle cx="938.4" cy="215.8" r="2.1"/><circle cx="977.9" cy="209.2" r="2.1"/><circle cx="924.5" cy="276.0" r="2.1"/><circle cx="942.1" cy="189.2" r="2.1"/><circle cx="945.7" cy="258.6" r="2.1"/><circle cx="873.3" cy="183.5" r="2.1"/><circle cx="948.7" cy="214.8" r="2.1"/><circle cx="897.8" cy="275.8" r="2.1"/><circle cx="926.3" cy="221.4" r="2.1"/><circle cx="980.5" cy="177.6" r="2.1"/><circle cx="859.5" cy="197.5" r="2.1"/><circle cx="873.4" cy="220.5" r="2.1"/><circle cx="940.0" cy="272.9" r="2.1"/><circle cx="913.5" cy="283.0" r="2.1"/><circle cx="914.4" cy="297.0" r="2.1"/><circle cx="887.0" cy="282.7" r="2.1"/><circle cx="860.9" cy="194.4" r="2.1"/><circle cx="859.6" cy="179.8" r="2.1"/><circle cx="910.6" cy="262.6" r="2.1"/><circle cx="900.3" cy="199.9" r="2.1"/><circle cx="899.4" cy="242.8" r="2.1"/><circle cx="872.4" cy="239.7" r="2.1"/><circle cx="983.3" cy="161.5" r="2.1"/><circle cx="902.4" cy="282.6" r="2.1"/><circle cx="859.6" cy="227.2" r="2.1"/><circle cx="906.8" cy="295.8" r="2.1"/><circle cx="971.5" cy="207.2" r="2.1"/><circle cx="845.2" cy="243.5" r="2.1"/><circle cx="965.7" cy="223.0" r="2.1"/><circle cx="888.8" cy="248.8" r="2.1"/><circle cx="957.8" cy="192.4" r="2.1"/><circle cx="864.9" cy="177.9" r="2.1"/><circle cx="919.6" cy="243.0" r="2.1"/><circle cx="946.5" cy="244.8" r="2.1"/><circle cx="884.1" cy="267.4" r="2.1"/><circle cx="964.3" cy="223.7" r="2.1"/><circle cx="956.3" cy="236.2" r="2.1"/><circle cx="908.4" cy="296.3" r="2.1"/><circle cx="954.1" cy="213.2" r="2.1"/><circle cx="872.2" cy="210.5" r="2.1"/><circle cx="948.4" cy="204.2" r="2.1"/><circle cx="932.1" cy="212.3" r="2.1"/><circle cx="893.8" cy="210.7" r="2.1"/><circle cx="927.5" cy="172.4" r="2.1"/><circle cx="880.1" cy="200.8" r="2.1"/><circle cx="906.7" cy="296.8" r="2.1"/><circle cx="907.5" cy="291.2" r="2.1"/><circle cx="955.7" cy="169.3" r="2.1"/><circle cx="906.5" cy="294.5" r="2.1"/><circle cx="913.7" cy="288.1" r="2.1"/><circle cx="943.3" cy="282.0" r="2.1"/><circle cx="869.4" cy="269.3" r="2.1"/><circle cx="906.6" cy="290.3" r="2.1"/><circle cx="945.1" cy="263.3" r="2.1"/><circle cx="874.3" cy="193.4" r="2.1"/><circle cx="948.1" cy="191.0" r="2.1"/><circle cx="913.6" cy="288.6" r="2.1"/><circle cx="862.7" cy="266.9" r="2.1"/><circle cx="855.8" cy="234.4" r="2.1"/><circle cx="954.3" cy="243.0" r="2.1"/><circle cx="961.0" cy="227.6" r="2.1"/><circle cx="853.0" cy="261.3" r="2.1"/><circle cx="863.5" cy="206.6" r="2.1"/><circle cx="905.0" cy="294.2" r="2.1"/><circle cx="895.3" cy="288.6" r="2.1"/><circle cx="941.4" cy="181.6" r="2.1"/><circle cx="878.1" cy="280.6" r="2.1"/><circle cx="937.0" cy="204.6" r="2.1"/><circle cx="950.4" cy="246.7" r="2.1"/><circle cx="860.6" cy="214.9" r="2.1"/><circle cx="914.9" cy="191.5" r="2.1"/><circle cx="929.0" cy="178.0" r="2.1"/><circle cx="901.7" cy="282.8" r="2.1"/><circle cx="869.5" cy="206.7" r="2.1"/><circle cx="921.7" cy="283.4" r="2.1"/><circle cx="926.8" cy="190.9" r="2.1"/><circle cx="887.6" cy="262.0" r="2.1"/><circle cx="967.1" cy="178.5" r="2.1"/><circle cx="951.7" cy="176.6" r="2.1"/><circle cx="960.9" cy="185.0" r="2.1"/><circle cx="893.9" cy="192.5" r="2.1"/><circle cx="902.5" cy="292.9" r="2.1"/><circle cx="917.5" cy="238.5" r="2.1"/><circle cx="935.4" cy="197.8" r="2.1"/><circle cx="918.7" cy="258.1" r="2.1"/><circle cx="894.7" cy="270.7" r="2.1"/><circle cx="886.5" cy="240.3" r="2.1"/><circle cx="991.1" cy="184.4" r="2.1"/><circle cx="886.4" cy="263.0" r="2.1"/><circle cx="977.8" cy="130.9" r="2.1"/><circle cx="920.4" cy="179.1" r="2.1"/><circle cx="892.2" cy="197.9" r="2.1"/><circle cx="922.8" cy="196.0" r="2.1"/><circle cx="936.9" cy="246.2" r="2.1"/><circle cx="932.3" cy="279.2" r="2.1"/><circle cx="858.7" cy="219.9" r="2.1"/><circle cx="944.8" cy="171.9" r="2.1"/><circle cx="937.3" cy="180.9" r="2.1"/><circle cx="948.7" cy="224.1" r="2.1"/><circle cx="927.3" cy="238.9" r="2.1"/><circle cx="982.0" cy="230.4" r="2.1"/><circle cx="893.3" cy="269.7" r="2.1"/><circle cx="896.2" cy="276.8" r="2.1"/><circle cx="921.8" cy="276.0" r="2.1"/><circle cx="977.7" cy="195.3" r="2.1"/><circle cx="892.7" cy="264.9" r="2.1"/><circle cx="957.5" cy="214.7" r="2.1"/><circle cx="882.1" cy="212.5" r="2.1"/><circle cx="908.2" cy="293.0" r="2.1"/><circle cx="882.5" cy="275.5" r="2.1"/><circle cx="939.7" cy="147.8" r="2.1"/><circle cx="921.5" cy="267.6" r="2.1"/><circle cx="878.9" cy="252.6" r="2.1"/><circle cx="918.2" cy="180.2" r="2.1"/><circle cx="972.8" cy="202.1" r="2.1"/><circle cx="900.0" cy="233.2" r="2.1"/><circle cx="908.3" cy="294.8" r="2.1"/><circle cx="862.6" cy="246.6" r="2.1"/><circle cx="938.3" cy="197.5" r="2.1"/><circle cx="909.1" cy="294.0" r="2.1"/><circle cx="884.0" cy="270.5" r="2.1"/><circle cx="906.0" cy="296.3" r="2.1"/><circle cx="878.6" cy="178.1" r="2.1"/><circle cx="863.0" cy="262.4" r="2.1"/><circle cx="947.5" cy="177.0" r="2.1"/><circle cx="914.8" cy="295.3" r="2.1"/><circle cx="947.6" cy="177.6" r="2.1"/><circle cx="932.5" cy="199.4" r="2.1"/><circle cx="918.6" cy="199.3" r="2.1"/><circle cx="900.5" cy="244.6" r="2.1"/><circle cx="907.5" cy="297.3" r="2.1"/><circle cx="868.5" cy="232.0" r="2.1"/><circle cx="889.7" cy="240.8" r="2.1"/><circle cx="870.0" cy="266.7" r="2.1"/><circle cx="936.0" cy="279.3" r="2.1"/><circle cx="879.8" cy="239.0" r="2.1"/><circle cx="888.5" cy="294.0" r="2.1"/><circle cx="928.3" cy="165.5" r="2.1"/><circle cx="964.8" cy="206.1" r="2.1"/><circle cx="912.2" cy="223.2" r="2.1"/><circle cx="931.3" cy="205.3" r="2.1"/><circle cx="848.8" cy="209.0" r="2.1"/><circle cx="858.2" cy="212.5" r="2.1"/><circle cx="949.0" cy="190.2" r="2.1"/><circle cx="888.8" cy="193.0" r="2.1"/><circle cx="854.0" cy="195.3" r="2.1"/><circle cx="949.9" cy="253.0" r="2.1"/><circle cx="880.6" cy="181.7" r="2.1"/><circle cx="965.7" cy="225.6" r="2.1"/><circle cx="914.9" cy="196.0" r="2.1"/><circle cx="864.4" cy="207.4" r="2.1"/><circle cx="952.5" cy="191.4" r="2.1"/><circle cx="947.5" cy="164.7" r="2.1"/><circle cx="877.8" cy="186.5" r="2.1"/><circle cx="965.6" cy="172.6" r="2.1"/><circle cx="965.0" cy="213.3" r="2.1"/><circle cx="920.5" cy="208.4" r="2.1"/><circle cx="932.3" cy="161.0" r="2.1"/><circle cx="904.5" cy="295.0" r="2.1"/><circle cx="861.3" cy="208.3" r="2.1"/><circle cx="915.3" cy="297.1" r="2.1"/><circle cx="968.3" cy="187.2" r="2.1"/><circle cx="860.4" cy="274.0" r="2.1"/><circle cx="950.9" cy="196.3" r="2.1"/><circle cx="913.5" cy="196.1" r="2.1"/><circle cx="954.4" cy="254.9" r="2.1"/><circle cx="964.2" cy="244.1" r="2.1"/><circle cx="899.8" cy="268.7" r="2.1"/><circle cx="960.5" cy="172.0" r="2.1"/><circle cx="946.3" cy="247.9" r="2.1"/><circle cx="957.3" cy="214.5" r="2.1"/><circle cx="950.8" cy="151.4" r="2.1"/><circle cx="942.5" cy="272.9" r="2.1"/><circle cx="939.2" cy="215.8" r="2.1"/><circle cx="939.8" cy="242.2" r="2.1"/><circle cx="928.5" cy="268.2" r="2.1"/><circle cx="916.1" cy="199.8" r="2.1"/><circle cx="862.0" cy="216.2" r="2.1"/><circle cx="919.3" cy="296.1" r="2.1"/><circle cx="919.9" cy="276.4" r="2.1"/><circle cx="933.7" cy="178.1" r="2.1"/><circle cx="866.3" cy="255.8" r="2.1"/><circle cx="934.4" cy="273.4" r="2.1"/><circle cx="942.0" cy="228.7" r="2.1"/><circle cx="860.4" cy="184.4" r="2.1"/><circle cx="939.9" cy="143.7" r="2.1"/><circle cx="946.6" cy="254.3" r="2.1"/><circle cx="967.3" cy="202.1" r="2.1"/><circle cx="913.6" cy="188.9" r="2.1"/><circle cx="888.0" cy="288.2" r="2.1"/><circle cx="973.7" cy="257.7" r="2.1"/><circle cx="852.0" cy="197.5" r="2.1"/><circle cx="897.1" cy="222.5" r="2.1"/><circle cx="937.7" cy="200.4" r="2.1"/><circle cx="916.1" cy="184.2" r="2.1"/><circle cx="928.8" cy="237.0" r="2.1"/><circle cx="968.6" cy="208.5" r="2.1"/><circle cx="861.2" cy="216.7" r="2.1"/><circle cx="912.5" cy="259.4" r="2.1"/><circle cx="908.8" cy="294.5" r="2.1"/><circle cx="883.5" cy="161.6" r="2.1"/><circle cx="953.4" cy="261.3" r="2.1"/><circle cx="1102.5" cy="20.3" r="2.1"/><circle cx="1060.0" cy="25.3" r="2.1"/><circle cx="1065.0" cy="30.8" r="2.1"/><circle cx="1039.2" cy="31.3" r="2.1"/><circle cx="1057.5" cy="45.0" r="2.1"/><circle cx="1085.8" cy="44.5" r="2.1"/><circle cx="1089.7" cy="53.3" r="2.1"/><circle cx="1050.3" cy="56.2" r="2.1"/><circle cx="1044.5" cy="66.7" r="2.1"/><circle cx="1025.0" cy="67.5" r="2.1"/><circle cx="1019.2" cy="69.5" r="2.1"/><circle cx="1088.3" cy="72.5" r="2.1"/><circle cx="1059.7" cy="79.2" r="2.1"/><circle cx="1075.0" cy="80.8" r="2.1"/><circle cx="1041.3" cy="81.7" r="2.1"/><circle cx="1028.8" cy="81.3" r="2.1"/><circle cx="1071.2" cy="85.5" r="2.1"/><circle cx="1017.0" cy="86.7" r="2.1"/><circle cx="1011.3" cy="88.7" r="2.1"/><circle cx="1027.0" cy="88.3" r="2.1"/><circle cx="1054.2" cy="92.2" r="2.1"/><circle cx="1018.8" cy="95.0" r="2.1"/><circle cx="1034.7" cy="94.7" r="2.1"/><circle cx="1034.7" cy="100.2" r="2.1"/><circle cx="1048.3" cy="104.7" r="2.1"/><circle cx="1025.0" cy="103.7" r="2.1"/><circle cx="1022.8" cy="109.2" r="2.1"/><circle cx="1036.3" cy="109.2" r="2.1"/><circle cx="1059.3" cy="109.7" r="2.1"/><circle cx="1043.5" cy="114.2" r="2.1"/><circle cx="1000.0" cy="120.0" r="2.1"/><circle cx="1025.5" cy="125.3" r="2.1"/><circle cx="1011.3" cy="127.5" r="2.1"/><circle cx="1043.5" cy="133.3" r="2.1"/><circle cx="1031.2" cy="153.5" r="2.1"/><circle cx="1061.8" cy="156.2" r="2.1"/><circle cx="1008.7" cy="160.0" r="2.1"/><circle cx="1016.7" cy="162.5" r="2.1"/><circle cx="1006.7" cy="171.7" r="2.1"/><circle cx="1013.7" cy="171.3" r="2.1"/><circle cx="1031.7" cy="175.3" r="2.1"/><circle cx="1035.5" cy="175.3" r="2.1"/><circle cx="1030.0" cy="178.3" r="2.1"/><circle cx="1041.7" cy="178.3" r="2.1"/><circle cx="1045.3" cy="180.5" r="2.1"/><circle cx="1023.3" cy="182.5" r="2.1"/><circle cx="1035.0" cy="184.2" r="2.1"/><circle cx="1016.2" cy="195.3" r="2.1"/><circle cx="1029.2" cy="195.3" r="2.1"/><circle cx="1050.0" cy="198.3" r="2.1"/><circle cx="1000.0" cy="162.5" r="2.1"/><circle cx="998.3" cy="177.0" r="2.1"/><circle cx="1002.0" cy="180.8" r="2.1"/><circle cx="1008.3" cy="194.2" r="2.1"/><circle cx="1027.5" cy="198.5" r="2.1"/><circle cx="1039.6" cy="206.3" r="2.1"/><circle cx="1028.8" cy="207.3" r="2.1"/><circle cx="1030.2" cy="208.3" r="2.1"/><circle cx="1016.7" cy="208.8" r="2.1"/><circle cx="1006.7" cy="211.5" r="2.1"/><circle cx="1057.3" cy="206.7" r="2.1"/><circle cx="1060.8" cy="215.6" r="2.1"/><circle cx="1021.9" cy="215.2" r="2.1"/><circle cx="1044.8" cy="219.4" r="2.1"/><circle cx="1032.7" cy="221.5" r="2.1"/><circle cx="996.3" cy="224.0" r="2.1"/><circle cx="989.2" cy="225.0" r="2.1"/><circle cx="1006.7" cy="227.5" r="2.1"/><circle cx="1012.5" cy="229.2" r="2.1"/><circle cx="994.8" cy="230.2" r="2.1"/><circle cx="1008.8" cy="234.0" r="2.1"/><circle cx="1125.0" cy="205.2" r="2.1"/><circle cx="1129.6" cy="205.8" r="2.1"/><circle cx="1138.5" cy="207.3" r="2.1"/><circle cx="1150.4" cy="211.5" r="2.1"/><circle cx="1118.8" cy="215.6" r="2.1"/><circle cx="1119.4" cy="216.5" r="2.1"/><circle cx="1054.6" cy="248.3" r="2.1"/><circle cx="1053.8" cy="252.5" r="2.1"/><circle cx="970.2" cy="286.5" r="2.1"/><circle cx="980.8" cy="268.8" r="2.1"/><circle cx="980.2" cy="250.4" r="2.1"/><circle cx="985.0" cy="245.2" r="2.1"/><circle cx="990.6" cy="246.9" r="2.1"/><circle cx="1001.0" cy="240.6" r="2.1"/><circle cx="995.8" cy="239.2" r="2.1"/><circle cx="997.9" cy="243.8" r="2.1"/><circle cx="822.1" cy="63.3" r="2.1"/><circle cx="890.4" cy="80.8" r="2.1"/><circle cx="953.0" cy="80.8" r="2.1"/><circle cx="836.5" cy="97.4" r="2.1"/><circle cx="936.9" cy="105.5" r="2.1"/><circle cx="898.2" cy="111.9" r="2.1"/><circle cx="880.6" cy="113.7" r="2.1"/><circle cx="886.3" cy="115.8" r="2.1"/><circle cx="941.8" cy="117.0" r="2.1"/><circle cx="869.9" cy="121.2" r="2.1"/><circle cx="879.7" cy="121.7" r="2.1"/><circle cx="857.6" cy="123.3" r="2.1"/><circle cx="866.7" cy="124.0" r="2.1"/><circle cx="876.5" cy="125.0" r="2.1"/><circle cx="878.6" cy="126.1" r="2.1"/><circle cx="893.7" cy="127.0" r="2.1"/><circle cx="949.7" cy="127.0" r="2.1"/><circle cx="836.5" cy="130.7" r="2.1"/><circle cx="879.3" cy="131.9" r="2.1"/><circle cx="859.0" cy="134.2" r="2.1"/><circle cx="821.9" cy="135.9" r="2.1"/><circle cx="838.6" cy="136.8" r="2.1"/><circle cx="867.3" cy="135.4" r="2.1"/><circle cx="866.7" cy="138.9" r="2.1"/><circle cx="874.1" cy="140.3" r="2.1"/><circle cx="936.6" cy="135.9" r="2.1"/><circle cx="940.8" cy="138.0" r="2.1"/><circle cx="939.4" cy="141.5" r="2.1"/><circle cx="897.9" cy="143.3" r="2.1"/><circle cx="873.4" cy="144.1" r="2.1"/><circle cx="881.8" cy="145.9" r="2.1"/><circle cx="870.6" cy="146.4" r="2.1"/><circle cx="890.2" cy="146.4" r="2.1"/><circle cx="865.3" cy="148.9" r="2.1"/><circle cx="875.1" cy="151.3" r="2.1"/><circle cx="900.0" cy="150.6" r="2.1"/><circle cx="893.5" cy="152.5" r="2.1"/><circle cx="861.1" cy="152.0" r="2.1"/><circle cx="871.6" cy="154.3" r="2.1"/><circle cx="808.1" cy="157.4" r="2.1"/><circle cx="855.7" cy="157.4" r="2.1"/><circle cx="837.5" cy="159.9" r="2.1"/><circle cx="852.9" cy="161.6" r="2.1"/><circle cx="866.9" cy="160.4" r="2.1"/><circle cx="798.3" cy="166.9" r="2.1"/><circle cx="830.9" cy="183.2" r="2.1"/><circle cx="800.2" cy="204.3" r="2.1"/><circle cx="828.6" cy="207.1" r="2.1"/><circle cx="831.6" cy="216.6" r="2.1"/><circle cx="821.9" cy="221.3" r="2.1"/><circle cx="829.3" cy="224.1" r="2.1"/><circle cx="819.5" cy="234.6" r="2.1"/><circle cx="838.7" cy="232.7" r="2.1"/><circle cx="841.0" cy="236.9" r="2.1"/><circle cx="819.3" cy="251.9" r="2.1"/><circle cx="835.9" cy="250.2" r="2.1"/><circle cx="842.8" cy="252.5" r="2.1"/><circle cx="839.3" cy="264.9" r="2.1"/><circle cx="816.0" cy="271.9" r="2.1"/><circle cx="813.0" cy="275.0" r="2.1"/><circle cx="824.7" cy="275.0" r="2.1"/><circle cx="833.1" cy="275.7" r="2.1"/><circle cx="840.5" cy="277.1" r="2.1"/><circle cx="838.4" cy="285.0" r="2.1"/><circle cx="844.0" cy="282.4" r="2.1"/><circle cx="966.9" cy="78.0" r="2.1"/><circle cx="963.8" cy="88.8" r="2.1"/><circle cx="962.5" cy="100.5" r="2.1"/><circle cx="982.0" cy="103.1" r="2.1"/><circle cx="994.2" cy="105.3" r="2.1"/><circle cx="960.8" cy="117.0" r="2.1"/><circle cx="962.5" cy="108.3" r="2.1"/><circle cx="989.8" cy="113.5" r="2.1"/><circle cx="994.2" cy="111.8" r="2.1"/><circle cx="998.5" cy="117.9" r="2.1"/><circle cx="949.5" cy="126.5" r="2.1"/><circle cx="959.5" cy="121.3" r="2.1"/><circle cx="978.1" cy="120.0" r="2.1"/><circle cx="987.7" cy="125.7" r="2.1"/><circle cx="983.3" cy="123.5" r="2.1"/><circle cx="1011.5" cy="127.0" r="2.1"/><circle cx="1023.6" cy="122.6" r="2.1"/><circle cx="995.5" cy="130.0" r="2.1"/><circle cx="1000.7" cy="128.7" r="2.1"/><circle cx="920.3" cy="154.1" r="2.1"/><circle cx="925.9" cy="150.3" r="2.1"/><circle cx="931.1" cy="148.5" r="2.1"/>
</g>
<line x1="1107.50" y1="38.30" x2="1090.80" y2="54.50" stroke="#e0403c" stroke-width="0.9"/>
<line x1="1107.50" y1="59.60" x2="1018.30" y2="93.00" stroke="#e0403c" stroke-width="0.9"/>
<line x1="1106.70" y1="82.50" x2="1055.80" y2="91.20" stroke="#e0403c" stroke-width="0.9"/>
<line x1="1104.50" y1="110.80" x2="952.30" y2="174.40" stroke="#e0403c" stroke-width="0.9"/>
<line x1="1107.50" y1="135.80" x2="1003.80" y2="174.60" stroke="#e0403c" stroke-width="0.9"/>
<line x1="1100.80" y1="160.30" x2="947.40" y2="215.40" stroke="#e0403c" stroke-width="0.9"/>
<line x1="1105.30" y1="194.30" x2="971.50" y2="240.60" stroke="#e0403c" stroke-width="0.9"/>
<circle cx="1090.8" cy="54.5" r="2.3" fill="#cc2a2a"/>
<circle cx="1018.3" cy="93" r="2.3" fill="#cc2a2a"/>
<circle cx="1055.8" cy="91.2" r="2.3" fill="#cc2a2a"/>
<circle cx="952.3" cy="174.4" r="2.3" fill="#cc2a2a"/>
<circle cx="1003.8" cy="174.6" r="2.3" fill="#cc2a2a"/>
<circle cx="947.4" cy="215.4" r="2.3" fill="#cc2a2a"/>
<circle cx="971.5" cy="240.6" r="2.3" fill="#cc2a2a"/>
<rect x="1107.5" y="22.2" width="35.5" height="16.1" fill="#fff" stroke="#e0403c" stroke-width="1.1"/>
<text x="1125.2" y="34.1" font-size="10.9" text-anchor="middle" font-style="italic">OAS2</text>
<rect x="1107.5" y="43.7" width="35.5" height="15.9" fill="#fff" stroke="#e0403c" stroke-width="1.1"/>
<text x="1125.2" y="55.4" font-size="10.9" text-anchor="middle" font-style="italic">OAS3</text>
<rect x="1106.7" y="66.7" width="35.8" height="15.8" fill="#fff" stroke="#e0403c" stroke-width="1.1"/>
<text x="1124.6" y="78.3" font-size="10.9" text-anchor="middle" font-style="italic">OAS1</text>
<rect x="1104.5" y="94.7" width="41.3" height="16.1" fill="#fff" stroke="#e0403c" stroke-width="1.1"/>
<text x="1125.2" y="106.6" font-size="10.9" text-anchor="middle" font-style="italic">RDH16</text>
<rect x="1107.5" y="119.7" width="35.8" height="16.1" fill="#fff" stroke="#e0403c" stroke-width="1.1"/>
<text x="1125.4" y="131.6" font-size="10.9" text-anchor="middle" font-style="italic">OASL</text>
<rect x="1100.8" y="144.7" width="48.7" height="15.6" fill="#fff" stroke="#e0403c" stroke-width="1.1"/>
<text x="1125.2" y="156.1" font-size="10.9" text-anchor="middle" font-style="italic">RAET1E</text>
<rect x="1105.3" y="178.2" width="43.2" height="16.1" fill="#fff" stroke="#e0403c" stroke-width="1.1"/>
<text x="1126.9" y="190.1" font-size="10.9" text-anchor="middle" font-style="italic">DHRS9</text>
<rect x="755.4" y="10.1" width="407.6" height="297.6" fill="none" stroke="#000" stroke-width="2"/>
<path d="M758.2 307.7 v3.6 M807.6 307.7 v3.6 M857.1 307.7 v3.6 M906.5 307.7 v3.6 M955.9 307.7 v3.6 M1005.4 307.7 v3.6 M1054.8 307.7 v3.6 M1104.2 307.7 v3.6 M1153.6 307.7 v3.6 M755.4 297.6 h-3.6 M755.4 243.9 h-3.6 M755.4 190.2 h-3.6 M755.4 136.5 h-3.6 M755.4 82.8 h-3.6 M755.4 29.1 h-3.6" stroke="#000" stroke-width="1.3" fill="none"/>
<text x="758.2" y="332.8" font-size="19" text-anchor="middle">–1.5</text>
<text x="807.6" y="332.8" font-size="19" text-anchor="middle">–1</text>
<text x="857.1" y="332.8" font-size="19" text-anchor="middle">–0.5</text>
<text x="906.5" y="332.8" font-size="19" text-anchor="middle">0</text>
<text x="955.9" y="332.8" font-size="19" text-anchor="middle">0.5</text>
<text x="1005.4" y="332.8" font-size="19" text-anchor="middle">1</text>
<text x="1054.8" y="332.8" font-size="19" text-anchor="middle">1.5</text>
<text x="1104.2" y="332.8" font-size="19" text-anchor="middle">2</text>
<text x="1153.6" y="332.8" font-size="19" text-anchor="middle">2.5</text>
<text x="745" y="303.5" font-size="19" text-anchor="end">0</text>
<text x="745" y="249.8" font-size="19" text-anchor="end">2</text>
<text x="745" y="196.1" font-size="19" text-anchor="end">4</text>
<text x="745" y="142.4" font-size="19" text-anchor="end">6</text>
<text x="745" y="88.7" font-size="19" text-anchor="end">8</text>
<text x="745" y="35.0" font-size="19" text-anchor="end">10</text>
<text x="955.5" y="359.4" font-size="19.25" text-anchor="middle">Fold change (Log2)</text>
<text x="707.8" y="159" font-size="19.2" text-anchor="middle" transform="rotate(-90 707.8 159)">Inverse of <tspan font-style="italic">p</tspan>-value (–Log10)</text>
<text x="629.7" y="385.5" font-size="28.5" font-weight="bold">c</text>
<rect x="657.20" y="379.40" width="541.00" height="39.40" fill="#a9a9a9"/>
<path d="M655.5 379.4 H1199.9 M655.5 418.8 H1199.9 M655.5 438.6 H1199.9 M655.5 457.9 H1199.9 M657.2 379.4 V457.9 M828.1 379.4 V457.9 M975.4 379.4 V457.9 M1089.6 379.4 V457.9 M1198.2 379.4 V457.9" stroke="#111" stroke-width="3.4" fill="none"/>
<text x="665" y="403.6" font-size="14.3">Upstream regulator</text>
<text x="898.7" y="395.3" font-size="14.3" text-anchor="middle">Predicted</text>
<text x="898.7" y="412" font-size="14.3" text-anchor="middle">activation state</text>
<text x="1029.5" y="395.3" font-size="14.3" text-anchor="middle">Activation</text>
<text x="1029.5" y="412" font-size="14.3" text-anchor="middle">z-score</text>
<text x="1140.5" y="395.3" font-size="14.3" text-anchor="middle"><tspan font-style="italic">P</tspan>-value of</text>
<text x="1140.5" y="412" font-size="14.3" text-anchor="middle">overlap</text>
<text x="663.7" y="433.2" font-size="11.9">Poly rI:r C-RNA</text>
<text x="898.7" y="433.2" font-size="11.9" text-anchor="middle">Activated</text>
<text x="1029.5" y="433.2" font-size="11.9" text-anchor="middle">9.247</text>
<text x="1140.5" y="433.2" font-size="11.9" text-anchor="middle">2.66E–73</text>
<text x="663.7" y="453" font-size="11.9">Tretinoin</text>
<text x="898.7" y="453" font-size="11.9" text-anchor="middle">Activated</text>
<text x="1029.5" y="453" font-size="11.9" text-anchor="middle">7.558</text>
<text x="1140.5" y="453" font-size="11.9" text-anchor="middle">1.41E–47</text>
<text x="69.6" y="500" font-size="28.5" font-weight="bold">d</text>
<text x="106" y="508.5" font-size="22.1">Transcriptome:</text>
<text x="422" y="504" font-size="22.1" text-anchor="middle">13 transcripts overlap</text>
<text x="421.7" y="530.2" font-size="22.1" text-anchor="middle"><tspan font-style="italic">p</tspan> = 3.8 * 10<tspan font-size="14.5" dy="-8.8">–15</tspan></text>
<text x="290.8" y="565.2" font-size="22.1" text-anchor="end">Up</text>
<text x="290.8" y="591.5" font-size="22.1" text-anchor="end">with</text>
<text x="290.8" y="617.7" font-size="22.1" text-anchor="end">retinoic</text>
<text x="290.8" y="644" font-size="22.1" text-anchor="end">acid (ATRA)</text>
<clipPath id="vc1"><ellipse cx="371" cy="603.4" rx="68.5" ry="45.9"/></clipPath>
<ellipse cx="460.6" cy="603.4" rx="67.6" ry="46.6" fill="#4654a7" stroke="#231f20" stroke-width="2.2"/>
<ellipse cx="371" cy="603.4" rx="68.5" ry="45.9" fill="#ede436"/>
<ellipse cx="460.6" cy="603.4" rx="66.6" ry="45.6" fill="#68bd45" clip-path="url(#vc1)"/>
<ellipse cx="371" cy="603.4" rx="68.5" ry="45.9" fill="none" stroke="#231f20" stroke-width="2.2"/>
<path d="M416.7 598.5 V541.3" stroke="#000" stroke-width="5.2" fill="none"/><path d="M408.3 550.0 Q414.2 543.3 416.7 539.5 Q419.2 543.3 425.09999999999997 550.0" stroke="#000" stroke-width="4.6" fill="none" stroke-linejoin="miter" stroke-miterlimit="10"/>
<text x="313" y="611.8" font-size="22.1">100</text>
<text x="479.6" y="611.8" font-size="22.1">100</text>
<text x="542" y="571.3" font-size="22.1">Up</text>
<text x="542" y="597.4" font-size="22.1">with</text>
<text x="542" y="623.7" font-size="22.1">dsRNA</text>
<text x="542" y="649.9" font-size="22.1">(Poly I:C)</text>
<text x="140.3" y="681.4" font-size="22.1">Av fold change:</text>
<text x="366.5" y="682" font-size="22.1" text-anchor="middle">35.6<tspan font-size="24.2" dy="1.9">×</tspan></text>
<text x="472" y="682" font-size="22.1" text-anchor="middle">12.8<tspan font-size="24.2" dy="1.9">×</tspan></text>
<text x="142.6" y="718.5" font-size="22.1">Example:</text>
<text x="423" y="718.5" font-size="22.1" text-anchor="middle" font-style="italic">KRT19</text>
<text x="915" y="504" font-size="22.1" text-anchor="middle">18 transcripts overlap</text>
<text x="914.7" y="530.2" font-size="22.1" text-anchor="middle"><tspan font-style="italic">p</tspan> = 2.7 * 10<tspan font-size="14.5" dy="-8.8">–23</tspan></text>
<text x="790" y="571.3" font-size="22.1" text-anchor="end">Down</text>
<text x="790" y="623.7" font-size="22.1" text-anchor="end">retinoic</text>
<text x="790" y="649.9" font-size="22.1" text-anchor="end">acid (ATRA)</text>
<text x="783.6" y="597.4" font-size="22.1" text-anchor="end">with</text>
<clipPath id="vc2"><ellipse cx="868.1" cy="602.7" rx="68.4" ry="45.9"/></clipPath>
<ellipse cx="958.5" cy="602.7" rx="67.8" ry="46.6" fill="#4654a7" stroke="#231f20" stroke-width="2.2"/>
<ellipse cx="868.1" cy="602.7" rx="68.4" ry="45.9" fill="#ede436"/>
<ellipse cx="958.5" cy="602.7" rx="66.8" ry="45.6" fill="#68bd45" clip-path="url(#vc2)"/>
<ellipse cx="868.1" cy="602.7" rx="68.4" ry="45.9" fill="none" stroke="#231f20" stroke-width="2.2"/>
<path d="M913.6 543 V600.2" stroke="#000" stroke-width="5.4" fill="none"/><path d="M905.1 589.8000000000001 Q911.1 598.2 913.6 602.0 Q916.1 598.2 922.1 589.8000000000001" stroke="#000" stroke-width="4.6" fill="none" stroke-linejoin="miter" stroke-miterlimit="10"/>
<text x="809.6" y="609.5" font-size="22.1">100</text>
<text x="977.2" y="609.5" font-size="22.1">100</text>
<text x="1038" y="571.3" font-size="22.1">Down</text>
<text x="1038" y="597.4" font-size="22.1">with</text>
<text x="1038" y="623.7" font-size="22.1">dsRNA</text>
<text x="1038" y="649.9" font-size="22.1">(Poly I:C)</text>
<text x="856.5" y="680.7" font-size="22.1" text-anchor="middle">–12.5<tspan font-size="24.2" dy="1.9">×</tspan></text>
<text x="964.3" y="680.7" font-size="22.1" text-anchor="middle">–9.9<tspan font-size="24.2" dy="1.9">×</tspan></text>
<text x="921" y="718" font-size="22.1" text-anchor="middle" font-style="italic">KRT1</text>
<text x="69.7" y="758.6" font-size="28.5" font-weight="bold">e</text>
<text x="106" y="762.9" font-size="22.1">Proteome:</text>
<text x="430.4" y="762.6" font-size="22.1" text-anchor="middle">61 proteins overlap</text>
<text x="430.5" y="789" font-size="22.1" text-anchor="middle"><tspan font-style="italic">p</tspan> = 8.2 * 10<tspan font-size="14.5" dy="-8.8">–80</tspan></text>
<text x="297" y="829.8" font-size="22.1" text-anchor="end">Up</text>
<text x="296.3" y="855.5" font-size="22.1" text-anchor="end">with</text>
<text x="303.2" y="881.9" font-size="22.1" text-anchor="end">retinoic</text>
<text x="303" y="908" font-size="22.1" text-anchor="end">acid (ATRA)</text>
<clipPath id="vc3"><ellipse cx="380.2" cy="861" rx="68.6" ry="46.5"/></clipPath>
<ellipse cx="469.7" cy="861.3" rx="67.8" ry="46.8" fill="#4654a7" stroke="#231f20" stroke-width="2.2"/>
<ellipse cx="380.2" cy="861" rx="68.6" ry="46.5" fill="#ede436"/>
<ellipse cx="469.7" cy="861.3" rx="66.8" ry="45.8" fill="#68bd45" clip-path="url(#vc3)"/>
<ellipse cx="380.2" cy="861" rx="68.6" ry="46.5" fill="none" stroke="#231f20" stroke-width="2.2"/>
<path d="M425.3 856 V798.5" stroke="#000" stroke-width="5.2" fill="none"/><path d="M416.90000000000003 807.2 Q422.8 800.5 425.3 796.7 Q427.8 800.5 433.7 807.2" stroke="#000" stroke-width="4.6" fill="none" stroke-linejoin="miter" stroke-miterlimit="10"/>
<text x="322" y="868.3" font-size="22.1">100</text>
<text x="488.8" y="868.3" font-size="22.1">100</text>
<text x="545.5" y="829.8" font-size="22.1">Up</text>
<text x="545.5" y="855.5" font-size="22.1">with</text>
<text x="545.5" y="881.9" font-size="22.1">dsRNA</text>
<text x="545.5" y="908" font-size="22.1">(Poly I:C)</text>
<text x="141.5" y="936.7" font-size="22.1">Av fold change:</text>
<text x="374.7" y="936.7" font-size="22.1" text-anchor="middle">72.9<tspan font-size="24.2" dy="1.9">×</tspan></text>
<text x="490.6" y="934.4" font-size="22.1" text-anchor="middle">71.2<tspan font-size="24.2" dy="1.9">×</tspan></text>
<text x="143.8" y="972.2" font-size="22.1">Example:</text>
<text x="441" y="971.7" font-size="22.1" text-anchor="middle">p63</text>
<text x="924.9" y="762.6" font-size="22.1" text-anchor="middle">36 proteins overlap</text>
<text x="924.7" y="789" font-size="22.1" text-anchor="middle"><tspan font-style="italic">p</tspan> = 3.9 * 10<tspan font-size="14.5" dy="-8.8">–34</tspan></text>
<text x="800.4" y="828.6" font-size="22.1" text-anchor="end">Down</text>
<text x="800.4" y="881.1" font-size="22.1" text-anchor="end">retinoic</text>
<text x="800.4" y="907.3" font-size="22.1" text-anchor="end">acid (ATRA)</text>
<text x="794" y="854.8" font-size="22.1" text-anchor="end">with</text>
<clipPath id="vc4"><ellipse cx="877" cy="860.4" rx="68" ry="46.6"/></clipPath>
<ellipse cx="967.3" cy="860.7" rx="67.8" ry="46.9" fill="#4654a7" stroke="#231f20" stroke-width="2.2"/>
<ellipse cx="877" cy="860.4" rx="68" ry="46.6" fill="#ede436"/>
<ellipse cx="967.3" cy="860.7" rx="66.8" ry="45.9" fill="#68bd45" clip-path="url(#vc4)"/>
<ellipse cx="877" cy="860.4" rx="68" ry="46.6" fill="none" stroke="#231f20" stroke-width="2.2"/>
<path d="M923 801.1 V857.9" stroke="#000" stroke-width="5.4" fill="none"/><path d="M914.5 847.5 Q920.5 855.9 923 859.6999999999999 Q925.5 855.9 931.5 847.5" stroke="#000" stroke-width="4.6" fill="none" stroke-linejoin="miter" stroke-miterlimit="10"/>
<text x="819.4" y="867.6" font-size="22.1">100</text>
<text x="986.3" y="867.6" font-size="22.1">100</text>
<text x="1043.6" y="828.6" font-size="22.1">Down</text>
<text x="1043.6" y="854.8" font-size="22.1">with</text>
<text x="1043.6" y="881.1" font-size="22.1">dsRNA</text>
<text x="1043.6" y="907.3" font-size="22.1">(Poly I:C)</text>
<text x="866.3" y="937.9" font-size="22.1" text-anchor="middle">–5.8<tspan font-size="24.2" dy="1.9">×</tspan></text>
<text x="980.7" y="937.9" font-size="22.1" text-anchor="middle">–5.6<tspan font-size="24.2" dy="1.9">×</tspan></text>
<text x="936" y="972.2" font-size="22.1" text-anchor="middle">FLG</text>
<text x="70.3" y="1023.4" font-size="28.5" font-weight="bold">f</text>
<rect x="110.60" y="1010.00" width="371.90" height="27.40" fill="#a9a9a9"/>
<path d="M110.6 1037.4 H482.5 M110.6 1065.8 H482.5 M110.6 1091.3 H482.5 M110.6 1118.8 H482.5 M110.6 1145.4 H482.5 M110.6 1173.3 H482.5 M110.6 1201.5 H482.5 M110.6 1229 H482.5 M399.2 1010 V1252.8" stroke="#111" stroke-width="2.7" fill="none"/>
<path d="M110.6 1010 H482.5 M110.6 1008.4 V1252.8 M482.5 1008.4 V1252.8" stroke="#111" stroke-width="3.2" fill="none"/>
<path d="M108.89999999999999 1253.2 H484.2" stroke="#111" stroke-width="4.2" fill="none"/>
<text x="116.8" y="1030.2" font-size="17.6">Induced</text>
<text x="407.6" y="1030.2" font-size="17.6"><tspan font-style="italic">P</tspan>-value</text>
<text x="116.8" y="1058.2" font-size="17.5">Gene ontology term</text>
<text x="116.8" y="1082.5" font-size="14.5">Cell development</text>
<text x="440.9" y="1082.5" font-size="14.5" text-anchor="middle">0.0025</text>
<text x="116.8" y="1108.9" font-size="14.5">Cell division</text>
<text x="440.9" y="1108.9" font-size="14.5" text-anchor="middle">0.0044</text>
<text x="116.8" y="1136.6" font-size="14.5">Positive regulation of cell proliferation</text>
<text x="440.9" y="1136.6" font-size="14.5" text-anchor="middle">0.0048</text>
<text x="116.8" y="1164.1" font-size="14.5">Response to interferon-gamma</text>
<text x="440.9" y="1164.1" font-size="14.5" text-anchor="middle">0.0061</text>
<text x="116.8" y="1192.3" font-size="14.5">Cell differentiation</text>
<text x="440.9" y="1192.3" font-size="14.5" text-anchor="middle">0.0083</text>
<text x="116.8" y="1219.8" font-size="14.5">Cellular developmental process</text>
<text x="440.9" y="1219.8" font-size="14.5" text-anchor="middle">0.014</text>
<text x="116.8" y="1245.5" font-size="14.5">Epithelial cell development</text>
<text x="440.9" y="1245.5" font-size="14.5" text-anchor="middle">0.015</text>
<rect x="513.90" y="1010.00" width="371.50" height="27.40" fill="#a9a9a9"/>
<path d="M513.9 1037.4 H885.4 M513.9 1065.8 H885.4 M513.9 1091.3 H885.4 M513.9 1118.8 H885.4 M513.9 1145.4 H885.4 M513.9 1173.3 H885.4 M513.9 1201.5 H885.4 M513.9 1229 H885.4 M802.1 1010 V1252.8" stroke="#111" stroke-width="2.7" fill="none"/>
<path d="M513.9 1010 H885.4 M513.9 1008.4 V1252.8 M885.4 1008.4 V1252.8" stroke="#111" stroke-width="3.2" fill="none"/>
<path d="M512.1999999999999 1253.2 H887.1" stroke="#111" stroke-width="4.2" fill="none"/>
<text x="520.5" y="1030.2" font-size="17.6">Inhibited</text>
<text x="843.6" y="1030.2" font-size="17.6" text-anchor="middle"><tspan font-style="italic">P</tspan>-value</text>
<text x="520.5" y="1058.2" font-size="17.5">Gene ontology term</text>
<text x="520.5" y="1082.5" font-size="14.5">Skin development</text>
<text x="843.8" y="1082.5" font-size="14.5" text-anchor="middle">1.4E–08</text>
<text x="520.5" y="1108.9" font-size="14.5">Epidermis development</text>
<text x="843.8" y="1108.9" font-size="14.5" text-anchor="middle">0.000023</text>
<text x="520.5" y="1136.6" font-size="14.5">Epidermal cell differentiation</text>
<text x="843.8" y="1136.6" font-size="14.5" text-anchor="middle">0.00039</text>
<text x="520.5" y="1164.1" font-size="14.5">Establishment of skin barrier</text>
<text x="843.8" y="1164.1" font-size="14.5" text-anchor="middle">0.00056</text>
<text x="520.5" y="1192.3" font-size="14.5">Regulation of water loss via skin</text>
<text x="843.8" y="1192.3" font-size="14.5" text-anchor="middle">0.0007</text>
<text x="520.5" y="1219.8" font-size="14.5">Tissue development</text>
<text x="843.8" y="1219.8" font-size="14.5" text-anchor="middle">0.00015</text>
<text x="520.5" y="1245.5" font-size="14.5">Keratinocytes differentiation</text>
<text x="843.8" y="1245.5" font-size="14.5" text-anchor="middle">0.0016</text>
<text x="-0.9" y="1298.5" font-size="28.5" font-weight="bold">g</text>
<text x="220.7" y="1329.3" font-size="19.4" text-anchor="middle" font-style="italic">KRT19</text>
<rect x="150.00" y="1484.00" width="14.80" height="4.40" fill="#000"/>
<rect x="168.90" y="1478.83" width="14.80" height="9.57" fill="#696969"/>
<rect x="187.80" y="1485.86" width="14.80" height="2.54" fill="#d2d2d2"/>
<rect x="235.60" y="1405.33" width="15.10" height="83.07" fill="#000"/>
<rect x="254.70" y="1453.42" width="15.10" height="34.98" fill="#696969"/>
<rect x="273.80" y="1466.12" width="15.10" height="22.28" fill="#d2d2d2"/>
<path d="M157.2 1482.5 V1487.0 M176.3 1474.4 V1482.7 M195.0 1483.6 V1487.2 M243.2 1385.0 V1425.6 M262.3 1441.8 V1464.7 M281.4 1456.8 V1474.8" stroke="#262626" stroke-width="3.7" fill="none"/>
<path d="M154.0 1484.2 h6.4 M154.0 1485.3 h6.4 M173.1 1476.1 h6.4 M173.1 1481.0 h6.4 M191.8 1485.3 h6.4 M191.8 1485.5 h6.4 M240.0 1386.7 h6.4 M240.0 1423.9 h6.4 M259.1 1443.5 h6.4 M259.1 1463.0 h6.4 M278.2 1458.5 h6.4 M278.2 1473.1 h6.4" stroke="#262626" stroke-width="3.4" fill="none"/>
<path d="M132.9 1350.5 V1489.3000000000002 M131.6 1487.9 H306.1" stroke="#000" stroke-width="2.8" fill="none"/>
<path d="M132.9 1487.9 h-4.8 M132.9 1442.5 h-4.8 M132.9 1397.2 h-4.8 M132.9 1351.8 h-4.8 M132.9 1487.9 v5.6 M219.8 1487.9 v5.6 M304.8 1487.9 v5.6" stroke="#000" stroke-width="2.4" fill="none"/>
<text x="121.1" y="1494.7" font-size="19.8" text-anchor="end">0</text>
<text x="121.1" y="1449.3" font-size="19.8" text-anchor="end">10</text>
<text x="121.1" y="1404.0" font-size="19.8" text-anchor="end">20</text>
<text x="121.1" y="1358.6" font-size="19.8" text-anchor="end">30</text>
<text x="194.3" y="1379.5" font-size="19" text-anchor="middle" letter-spacing="1.3">***</text>
<text x="253.1" y="1380.6" font-size="19" text-anchor="middle">*</text>
<text x="262.5" y="1362" font-size="19" text-anchor="middle">*</text>
<path d="M152.3 1378.1 H237.8 M244.1 1378.1 H262.5 M244.1 1360.1 H282.8" stroke="#000" stroke-width="2.7" fill="none"/>
<text x="174.8" y="1517.8" font-size="19.4" text-anchor="middle">Control</text>
<text x="262.2" y="1517.8" font-size="19.4" text-anchor="middle">Poly (I:C)</text>
<text x="86.4" y="1419.9" font-size="19.4" text-anchor="middle" transform="rotate(-90 86.4 1419.9)">Fold-difference</text>
<text x="579.8" y="1307.5" font-size="19.4" text-anchor="middle" font-style="italic">APOBEC3B</text>
<rect x="510.10" y="1462.37" width="14.20" height="1.53" fill="#000"/>
<rect x="528.10" y="1462.26" width="14.20" height="1.64" fill="#696969"/>
<rect x="546.10" y="1462.60" width="14.20" height="1.30" fill="#d2d2d2"/>
<rect x="592.10" y="1375.53" width="14.20" height="88.37" fill="#000"/>
<rect x="610.10" y="1457.11" width="14.20" height="6.79" fill="#696969"/>
<rect x="628.10" y="1434.80" width="14.20" height="29.10" fill="#d2d2d2"/>
<path d="M517.2 1461.0 V1463.0 M535.4 1460.8 V1463.0 M553.4 1461.4 V1463.0 M599.1 1357.0 V1393.6 M617.3 1453.3 V1462.6 M635.3 1420.6 V1448.8" stroke="#262626" stroke-width="3.7" fill="none"/>
<path d="M514.0 1462.7 h6.4 M514.0 1461.3 h6.4 M532.2 1462.5 h6.4 M532.2 1461.3 h6.4 M550.2 1463.1 h6.4 M550.2 1461.3 h6.4 M595.9 1358.7 h6.4 M595.9 1391.9 h6.4 M614.1 1455.0 h6.4 M614.1 1460.9 h6.4 M632.1 1422.3 h6.4 M632.1 1447.1 h6.4" stroke="#262626" stroke-width="3.4" fill="none"/>
<path d="M494.7 1324.8 V1464.8000000000002 M493.4 1463.4 H659.0999999999999" stroke="#000" stroke-width="2.8" fill="none"/>
<path d="M494.7 1463.4 h-4.8 M494.7 1417.6 h-4.8 M494.7 1371.9 h-4.8 M494.7 1326.1 h-4.8 M494.7 1463.4 v5.6 M576.4 1463.4 v5.6 M657.8 1463.4 v5.6" stroke="#000" stroke-width="2.4" fill="none"/>
<text x="482.90000000000003" y="1470.2" font-size="19.8" text-anchor="end">0</text>
<text x="482.90000000000003" y="1424.4" font-size="19.8" text-anchor="end">40</text>
<text x="482.90000000000003" y="1378.7" font-size="19.8" text-anchor="end">80</text>
<text x="482.90000000000003" y="1332.9" font-size="19.8" text-anchor="end">120</text>
<text x="555" y="1344.4" font-size="19" text-anchor="middle" letter-spacing="1.3">***</text>
<text x="609.7" y="1349.4" font-size="19" text-anchor="middle">*</text>
<text x="619.1" y="1334.8" font-size="19" text-anchor="middle">*</text>
<path d="M514.5 1347.1 H592.1 M599.3 1347.1 H617.6 M598.9 1334 H637.6" stroke="#000" stroke-width="2.7" fill="none"/>
<text x="533.6" y="1488.8" font-size="19.4" text-anchor="middle">Control</text>
<text x="619.1" y="1488.8" font-size="19.4" text-anchor="middle">Poly (I:C)</text>
<text x="441.6" y="1394.4" font-size="19.4" text-anchor="middle" transform="rotate(-90 441.6 1394.4)">Fold-difference</text>
<text x="840.2" y="1308.1" font-size="19.4" text-anchor="middle" font-style="italic">KCNN4</text>
<rect x="772.50" y="1460.42" width="14.20" height="1.18" fill="#000"/>
<rect x="790.50" y="1460.24" width="14.20" height="1.36" fill="#696969"/>
<rect x="808.50" y="1459.73" width="14.20" height="1.87" fill="#d2d2d2"/>
<rect x="854.30" y="1371.84" width="14.30" height="89.76" fill="#000"/>
<rect x="872.30" y="1444.34" width="14.30" height="17.26" fill="#696969"/>
<rect x="890.30" y="1419.03" width="14.30" height="42.57" fill="#d2d2d2"/>
<path d="M779.6 1458.9 V1461.0 M797.6 1458.7 V1461.0 M815.6 1458.0 V1461.0 M861.2 1365.1 V1378.3 M879.5 1435.7 V1452.1 M897.5 1404.4 V1433.7" stroke="#262626" stroke-width="3.7" fill="none"/>
<path d="M776.4 1460.6 h6.4 M776.4 1459.3 h6.4 M794.4 1460.4 h6.4 M794.4 1459.3 h6.4 M812.4 1459.7 h6.4 M812.4 1459.3 h6.4 M858.0 1366.8 h6.4 M858.0 1376.6 h6.4 M876.3 1437.4 h6.4 M876.3 1450.4 h6.4 M894.3 1406.1 h6.4 M894.3 1432.0 h6.4" stroke="#262626" stroke-width="3.4" fill="none"/>
<path d="M756.4 1323.0 V1462.5 M755.1 1461.1 H921.3" stroke="#000" stroke-width="2.8" fill="none"/>
<path d="M756.4 1461.1 h-4.8 M756.4 1426.9 h-4.8 M756.4 1392.7 h-4.8 M756.4 1358.5 h-4.8 M756.4 1324.3 h-4.8 M756.4 1461.1 v5.6 M838.5 1461.1 v5.6 M920 1461.1 v5.6" stroke="#000" stroke-width="2.4" fill="none"/>
<text x="744.3" y="1467.9" font-size="19.8" text-anchor="end">0</text>
<text x="744.3" y="1433.7" font-size="19.8" text-anchor="end">100</text>
<text x="744.3" y="1399.5" font-size="19.8" text-anchor="end">200</text>
<text x="744.3" y="1365.3" font-size="19.8" text-anchor="end">300</text>
<text x="744.3" y="1331.1" font-size="19.8" text-anchor="end">400</text>
<text x="816.7" y="1354.3" font-size="19" text-anchor="middle" letter-spacing="1.3">***</text>
<text x="869.3" y="1360" font-size="19" text-anchor="middle">*</text>
<text x="879" y="1343.8" font-size="19" text-anchor="middle">*</text>
<path d="M776 1357.2 H854.7 M860.3 1357.2 H879 M860.3 1342.3 H899.7" stroke="#000" stroke-width="2.7" fill="none"/>
<text x="795.8" y="1488.1" font-size="19.4" text-anchor="middle">Control</text>
<text x="881.7" y="1488.1" font-size="19.4" text-anchor="middle">Poly (I:C)</text>
<text x="697.7" y="1392.5" font-size="19.4" text-anchor="middle" transform="rotate(-90 697.7 1392.5)">Fold-difference</text>
<text x="577.9" y="1519.9" font-size="19.4" text-anchor="middle" font-style="italic">CAMK2N1</text>
<rect x="509.50" y="1677.18" width="14.70" height="2.32" fill="#000"/>
<rect x="528.50" y="1676.72" width="14.70" height="2.78" fill="#696969"/>
<rect x="547.50" y="1676.27" width="14.70" height="3.23" fill="#d2d2d2"/>
<rect x="595.10" y="1572.91" width="14.70" height="106.59" fill="#000"/>
<rect x="614.10" y="1654.18" width="14.70" height="25.32" fill="#696969"/>
<rect x="633.10" y="1629.14" width="14.70" height="50.36" fill="#d2d2d2"/>
<path d="M516.8 1675.4 V1679.0 M535.4 1674.8 V1679.0 M554.6 1673.2 V1678.8 M602.3 1560.2 V1584.5 M621.4 1647.5 V1660.3 M640.5 1622.8 V1634.7" stroke="#262626" stroke-width="3.7" fill="none"/>
<path d="M513.6 1677.1 h6.4 M513.6 1677.3 h6.4 M532.2 1676.5 h6.4 M532.2 1677.3 h6.4 M551.4 1674.9 h6.4 M551.4 1677.1 h6.4 M599.1 1561.9 h6.4 M599.1 1582.8 h6.4 M618.2 1649.2 h6.4 M618.2 1658.6 h6.4 M637.3 1624.5 h6.4 M637.3 1633.0 h6.4" stroke="#262626" stroke-width="3.4" fill="none"/>
<path d="M492 1541.1000000000001 V1680.4 M490.7 1679 H666.0999999999999" stroke="#000" stroke-width="2.8" fill="none"/>
<path d="M492 1679.0 h-4.8 M492 1633.5 h-4.8 M492 1587.9 h-4.8 M492 1542.4 h-4.8 M492 1679 v5.6 M578.2 1679 v5.6 M664.8 1679 v5.6" stroke="#000" stroke-width="2.4" fill="none"/>
<text x="481.1" y="1685.8" font-size="19.8" text-anchor="end">0</text>
<text x="481.1" y="1640.3" font-size="19.8" text-anchor="end">20</text>
<text x="481.1" y="1594.7" font-size="19.8" text-anchor="end">40</text>
<text x="481.1" y="1549.2" font-size="19.8" text-anchor="end">60</text>
<text x="557.3" y="1554.9" font-size="19" text-anchor="middle" letter-spacing="1.3">***</text>
<text x="611.3" y="1558.3" font-size="19" text-anchor="middle">*</text>
<text x="621" y="1542.5" font-size="19" text-anchor="middle">*</text>
<text x="632" y="1614" font-size="19" text-anchor="middle">*</text>
<path d="M514.5 1555.5 H592.8 M602.3 1555.5 H620.7 M602.3 1542.2 H641.6 M622.1 1613.3 H640.5" stroke="#000" stroke-width="2.7" fill="none"/>
<text x="537" y="1703.8" font-size="19.4" text-anchor="middle">Control</text>
<text x="621.8" y="1703.8" font-size="19.4" text-anchor="middle">Poly (I:C)</text>
<text x="443.9" y="1611" font-size="19.4" text-anchor="middle" transform="rotate(-90 443.9 1611)">Fold-difference</text>
<text x="844.1" y="1519.9" font-size="19.4" text-anchor="middle" font-style="italic">ELF3</text>
<rect x="772.70" y="1675.55" width="14.60" height="2.15" fill="#000"/>
<rect x="791.70" y="1675.83" width="14.60" height="1.87" fill="#696969"/>
<rect x="810.70" y="1671.44" width="14.60" height="6.26" fill="#d2d2d2"/>
<rect x="858.30" y="1590.76" width="14.60" height="86.94" fill="#000"/>
<rect x="877.30" y="1670.07" width="14.60" height="7.63" fill="#696969"/>
<rect x="896.30" y="1644.27" width="14.60" height="33.43" fill="#d2d2d2"/>
<path d="M780.0 1673.8 V1677.0 M798.7 1674.2 V1677.0 M817.8 1668.2 V1674.0 M865.5 1569.2 V1611.5 M884.6 1666.6 V1672.7 M903.8 1634.0 V1653.6" stroke="#262626" stroke-width="3.7" fill="none"/>
<path d="M776.8 1675.5 h6.4 M776.8 1675.3 h6.4 M795.5 1675.9 h6.4 M795.5 1675.3 h6.4 M814.6 1669.9 h6.4 M814.6 1672.3 h6.4 M862.3 1570.9 h6.4 M862.3 1609.8 h6.4 M881.4 1668.3 h6.4 M881.4 1671.0 h6.4 M900.6 1635.7 h6.4 M900.6 1651.9 h6.4" stroke="#262626" stroke-width="3.4" fill="none"/>
<path d="M755.3 1538.7 V1678.6000000000001 M754.0 1677.2 H929.4" stroke="#000" stroke-width="2.8" fill="none"/>
<path d="M755.3 1677.2 h-4.8 M755.3 1649.8 h-4.8 M755.3 1622.3 h-4.8 M755.3 1594.9 h-4.8 M755.3 1567.4 h-4.8 M755.3 1540.0 h-4.8 M755.3 1677.2 v5.6 M841.2 1677.2 v5.6 M928.1 1677.2 v5.6" stroke="#000" stroke-width="2.4" fill="none"/>
<text x="745.0" y="1684.0" font-size="19.8" text-anchor="end">0</text>
<text x="745.0" y="1656.6" font-size="19.8" text-anchor="end">10</text>
<text x="745.0" y="1629.1" font-size="19.8" text-anchor="end">20</text>
<text x="745.0" y="1601.7" font-size="19.8" text-anchor="end">30</text>
<text x="745.0" y="1574.2" font-size="19.8" text-anchor="end">40</text>
<text x="745.0" y="1546.8" font-size="19.8" text-anchor="end">50</text>
<text x="821.6" y="1561" font-size="19" text-anchor="middle" letter-spacing="1.3">***</text>
<text x="874.1" y="1564.3" font-size="19" text-anchor="middle">*</text>
<text x="884" y="1547" font-size="19" text-anchor="middle">*</text>
<text x="893.2" y="1626.2" font-size="19" text-anchor="middle">*</text>
<path d="M781.1 1562 H859.4 M865.5 1561.6 H883.5 M865.5 1546 H904.9 M885.3 1625.5 H903.8" stroke="#000" stroke-width="2.7" fill="none"/>
<text x="800.3" y="1702.6" font-size="19.4" text-anchor="middle">Control</text>
<text x="886.9" y="1702.6" font-size="19.4" text-anchor="middle">Poly (I:C)</text>
<text x="707.4" y="1608.2" font-size="19.4" text-anchor="middle" transform="rotate(-90 707.4 1608.2)">Fold-difference</text>
<text x="1097.1" y="1520.4" font-size="19.4" text-anchor="middle" font-style="italic">GPRC5A</text>
<rect x="1025.60" y="1672.31" width="14.70" height="4.49" fill="#000"/>
<rect x="1044.75" y="1665.53" width="14.70" height="11.27" fill="#696969"/>
<rect x="1063.90" y="1656.59" width="14.70" height="20.21" fill="#d2d2d2"/>
<rect x="1111.60" y="1578.22" width="14.70" height="98.58" fill="#000"/>
<rect x="1130.75" y="1632.76" width="14.70" height="44.04" fill="#696969"/>
<rect x="1149.90" y="1612.13" width="14.70" height="64.67" fill="#d2d2d2"/>
<path d="M1033.1 1671.1 V1674.2 M1052.2 1661.0 V1669.6 M1071.1 1643.7 V1668.9 M1119.0 1567.6 V1589.0 M1138.1 1622.1 V1643.0 M1157.3 1608.6 V1614.9" stroke="#262626" stroke-width="3.7" fill="none"/>
<path d="M1029.9 1672.8 h6.4 M1029.9 1672.5 h6.4 M1049.0 1662.7 h6.4 M1049.0 1667.9 h6.4 M1067.9 1645.4 h6.4 M1067.9 1667.2 h6.4 M1115.8 1569.3 h6.4 M1115.8 1587.3 h6.4 M1134.9 1623.8 h6.4 M1134.9 1641.3 h6.4 M1154.1 1610.3 h6.4 M1154.1 1613.2 h6.4" stroke="#262626" stroke-width="3.4" fill="none"/>
<path d="M1008.8 1537.5 V1677.7 M1007.5 1676.3 H1182.2" stroke="#000" stroke-width="2.8" fill="none"/>
<path d="M1008.8 1676.3 h-4.8 M1008.8 1630.5 h-4.8 M1008.8 1584.6 h-4.8 M1008.8 1538.8 h-4.8 M1008.8 1676.3 v5.6 M1094.9 1676.3 v5.6 M1180.9 1676.3 v5.6" stroke="#000" stroke-width="2.4" fill="none"/>
<text x="997.4" y="1683.1" font-size="19.8" text-anchor="end">0</text>
<text x="997.4" y="1637.3" font-size="19.8" text-anchor="end">10</text>
<text x="997.4" y="1591.4" font-size="19.8" text-anchor="end">20</text>
<text x="997.4" y="1545.6" font-size="19.8" text-anchor="end">30</text>
<text x="1074" y="1559" font-size="19" text-anchor="middle" letter-spacing="1.3">***</text>
<text x="1127.3" y="1561" font-size="19" text-anchor="middle">*</text>
<text x="1137" y="1545.4" font-size="19" text-anchor="middle">*</text>
<path d="M1034 1558.6 H1112.7 M1118.6 1558.6 H1136.6 M1118.6 1543.1 H1157.3" stroke="#000" stroke-width="2.7" fill="none"/>
<text x="1053.8" y="1701.5" font-size="19.4" text-anchor="middle">Control</text>
<text x="1140.8" y="1701.5" font-size="19.4" text-anchor="middle">Poly (I:C)</text>
<text x="964.2" y="1607.6" font-size="19.4" text-anchor="middle" transform="rotate(-90 964.2 1607.6)">Fold-difference</text>
<rect x="998.00" y="1328.00" width="22.00" height="21.70" fill="#000"/>
<text x="1027.8" y="1346.5" font-size="19.4">Scr-siR</text>
<rect x="998.00" y="1372.30" width="22.00" height="21.30" fill="#696969"/>
<text x="1027.8" y="1390" font-size="19.4">TLR3-siR</text>
<rect x="998.00" y="1417.00" width="22.00" height="21.60" fill="#d2d2d2"/>
<text x="1027.8" y="1433.2" font-size="19.4">RARγ-siR</text>
<text x="106.4" y="1558" font-size="17.6" text-anchor="middle">Scr-siR</text>
<line x1="67.40" y1="1565.90" x2="150.00" y2="1565.90" stroke="#000" stroke-width="2.2"/>
<text x="198.5" y="1558" font-size="17.6" text-anchor="middle">TLR3-siR</text>
<line x1="159.30" y1="1565.90" x2="241.50" y2="1565.90" stroke="#000" stroke-width="2.2"/>
<text x="289.3" y="1558" font-size="17.6" text-anchor="middle">RARγ-siR</text>
<line x1="249.60" y1="1565.90" x2="331.80" y2="1565.90" stroke="#000" stroke-width="2.2"/>
<text x="82.5" y="1584.2" font-size="12.7" text-anchor="middle">Con</text>
<text x="111.8" y="1584.2" font-size="12.7" text-anchor="middle">PIC</text>
<text x="138" y="1584.2" font-size="12.7" text-anchor="middle">RA</text>
<text x="172.2" y="1584.2" font-size="12.7" text-anchor="middle">Con</text>
<text x="202" y="1584.2" font-size="12.7" text-anchor="middle">PIC</text>
<text x="231.7" y="1584.2" font-size="12.7" text-anchor="middle">RA</text>
<text x="262.5" y="1584.2" font-size="12.7" text-anchor="middle">Con</text>
<text x="295.1" y="1584.2" font-size="12.7" text-anchor="middle">PIC</text>
<text x="324.8" y="1584.2" font-size="12.7" text-anchor="middle">RA</text>
<text x="6.4" y="1611.4" font-size="17.2">KRT19</text>
<text x="2.4" y="1657" font-size="16.8">βActin</text>
<clipPath id="bl1"><rect x="62" y="1589.2" width="276.8" height="37.6"/></clipPath>
<clipPath id="bl2"><rect x="62" y="1632.4" width="276.8" height="38.1"/></clipPath>
<rect x="62.00" y="1589.20" width="276.80" height="37.60" fill="#f6f6f6"/>
<rect x="62.00" y="1632.40" width="276.80" height="38.10" fill="#efefef"/>
<g clip-path="url(#bl1)" filter="url(#bb)">
<path d="M66 1609.2 Q79.0 1609.8 92 1609.2" stroke="#e6e6e6" stroke-width="2" stroke-linecap="round" fill="none"/>
<path d="M98.5 1608.3 Q109.5 1608.8999999999999 120.5 1608.3" stroke="#0a0a0a" stroke-width="7.2" stroke-linecap="round" fill="none"/>
<path d="M129 1607.9 Q139.5 1608.5 150 1607.9" stroke="#111" stroke-width="4.8" stroke-linecap="round" fill="none"/>
<path d="M160 1607.2 Q170.5 1607.5 181 1606.6000000000001" stroke="#c4c4c4" stroke-width="2.6" stroke-linecap="round" fill="none"/>
<path d="M190 1605.6 Q201.0 1605.8999999999999 212 1605.0" stroke="#d9d9d9" stroke-width="2.2" stroke-linecap="round" fill="none"/>
<path d="M223 1604.8 Q234.0 1604.8999999999999 245 1603.8" stroke="#9c9c9c" stroke-width="3" stroke-linecap="round" fill="none"/>
<path d="M252 1603.6 Q261.0 1603.9999999999998 270 1603.1999999999998" stroke="#d6d6d6" stroke-width="2.2" stroke-linecap="round" fill="none"/>
<path d="M283 1603.4 Q294.5 1603.4 306 1602.2" stroke="#7e7e7e" stroke-width="3.4" stroke-linecap="round" fill="none"/>
<path d="M314 1601.6 Q322.5 1601.6999999999998 331 1600.6" stroke="#d4d4d4" stroke-width="2.2" stroke-linecap="round" fill="none"/>
</g>
<g clip-path="url(#bl2)" filter="url(#bb)">
<rect x="62.00" y="1643.00" width="277.00" height="22.00" fill="#e9e9e9"/>
<path d="M66 1654.8 Q80.0 1656.2 94 1655.2" stroke="#0a0a0a" stroke-width="8.2" stroke-linecap="round" fill="none"/>
<path d="M99 1654.8 Q111.75 1655.7 124.5 1654.2" stroke="#0a0a0a" stroke-width="8.2" stroke-linecap="round" fill="none"/>
<path d="M129 1654.6 Q141.75 1655.8999999999999 154.5 1654.8" stroke="#0a0a0a" stroke-width="8.2" stroke-linecap="round" fill="none"/>
<path d="M159 1654.2 Q171.5 1655.5000000000002 184 1654.4" stroke="#0a0a0a" stroke-width="8.2" stroke-linecap="round" fill="none"/>
<path d="M189 1654 Q201.5 1655.4 214 1654.4" stroke="#0a0a0a" stroke-width="8.2" stroke-linecap="round" fill="none"/>
<path d="M219 1654.4 Q231.5 1655.7 244 1654.6" stroke="#0a0a0a" stroke-width="8.2" stroke-linecap="round" fill="none"/>
<path d="M248.5 1654.6 Q261.25 1655.5 274 1654" stroke="#0a0a0a" stroke-width="8.2" stroke-linecap="round" fill="none"/>
<path d="M278.5 1653 Q291.25 1653.7 304 1652" stroke="#0a0a0a" stroke-width="8.2" stroke-linecap="round" fill="none"/>
<path d="M308 1652.6 Q321.5 1651.0 335 1647" stroke="#0a0a0a" stroke-width="8.2" stroke-linecap="round" fill="none"/>
</g>
<rect x="62" y="1589.2" width="276.8" height="37.6" fill="none" stroke="#000" stroke-width="1.7"/>
<rect x="62" y="1632.4" width="276.8" height="38.1" fill="none" stroke="#000" stroke-width="1.7"/>
<line x1="338.80" y1="1620.00" x2="353.50" y2="1620.00" stroke="#000" stroke-width="1.7"/>
<text x="357" y="1624.6" font-size="15.4">40 kDa</text>
<line x1="338.80" y1="1662.30" x2="353.50" y2="1662.30" stroke="#000" stroke-width="1.7"/>
<text x="357" y="1667.2" font-size="15.4">40 kDa</text>
</svg>
</body></html>
